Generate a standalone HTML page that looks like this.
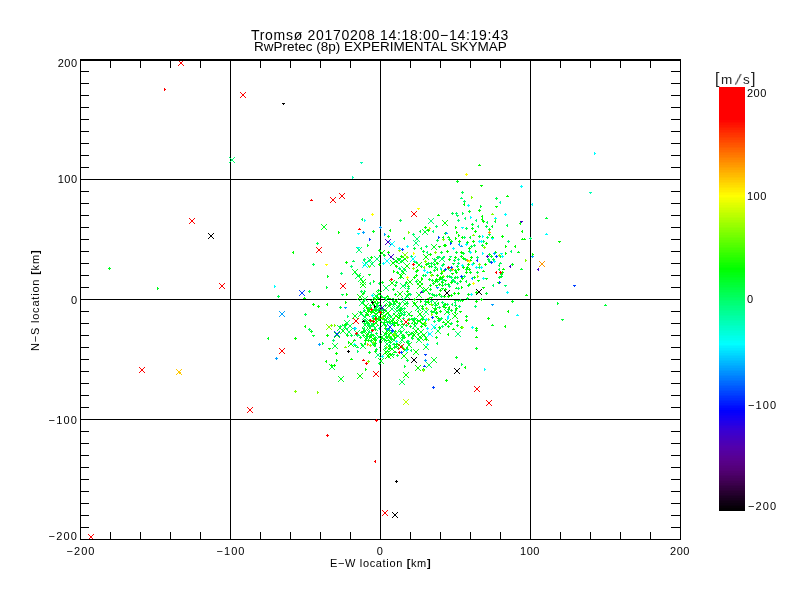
<!DOCTYPE html>
<html><head><meta charset="utf-8"><title>skymap</title>
<style>
html,body{margin:0;padding:0;background:#fff;}
body{width:800px;height:600px;position:relative;overflow:hidden;font-family:"Liberation Sans",sans-serif;color:#000;}
svg{position:absolute;left:0;top:0;}
.t{position:absolute;white-space:nowrap;line-height:1;font-size:11px;will-change:transform;}
.xt,.yt,.ct{letter-spacing:0.5px;}
</style></head><body>
<svg width="800" height="600" viewBox="0 0 800 600" shape-rendering="crispEdges">
<defs><clipPath id="cp"><rect x="81" y="61" width="599" height="478"/></clipPath></defs>
<g id="fill" clip-path="url(#cp)">
<path d="M381 295h1v3h-1zM382 296h1v1h-1z" fill="#00ff6e"/>
<path d="M376 318h1v3h-1zM375 319h1v1h-1z" fill="#00ff1e"/>
<path d="M374 329h3v1h-3zM375 328h1v3h-1z" fill="#00ff00"/>
<path d="M380 346h1v3h-1zM379 347h1v1h-1z" fill="#00ff37"/>
<path d="M389 304h3v1h-3zM390 303h1v3h-1z" fill="#00ff00"/>
<path d="M370 312h3v1h-3zM371 313h1v1h-1z" fill="#00ff00"/>
<path d="M364 322h1v3h-1zM363 323h1v1h-1z" fill="#00ff50"/>
<path d="M403 337h3v1h-3zM404 336h1v3h-1z" fill="#00ff00"/>
<path d="M392 301h3v1h-3zM393 300h1v3h-1z" fill="#00ff1e"/>
<path d="M396 307h3v1h-3zM397 308h1v1h-1z" fill="#00ff50"/>
<path d="M400 308h3v1h-3zM401 307h1v3h-1z" fill="#00ff6e"/>
<path d="M396 335h1v3h-1zM397 336h1v1h-1z" fill="#00ff00"/>
<path d="M389 323h3v1h-3zM390 322h1v3h-1z" fill="#00ff6e"/>
<path d="M409 313h1v3h-1zM408 314h1v1h-1z" fill="#00ff50"/>
<path d="M377 298h3v1h-3zM378 297h1v3h-1z" fill="#00ff00"/>
<path d="M380 338h3v1h-3zM381 337h1v3h-1z" fill="#00ff00"/>
<path d="M398 315h3v1h-3zM399 314h1v3h-1z" fill="#00ff00"/>
<path d="M384 297h3v1h-3zM385 298h1v1h-1z" fill="#00ff37"/>
<path d="M405 325h3v1h-3zM406 324h1v3h-1z" fill="#00ff37"/>
<path d="M388 298h3v1h-3zM389 299h1v1h-1z" fill="#00ff00"/>
<path d="M372 304h3v1h-3zM373 303h1v3h-1z" fill="#00ff00"/>
<path d="M386 296h3v1h-3zM387 295h1v1h-1z" fill="#00ff00"/>
<path d="M374 337h3v1h-3zM375 336h1v1h-1z" fill="#00ff50"/>
<path d="M381 308h3v1h-3zM382 307h1v3h-1z" fill="#00ff6e"/>
<path d="M379 305h3v1h-3zM380 304h1v3h-1z" fill="#00ff37"/>
<path d="M407 323h3v1h-3zM408 322h1v3h-1z" fill="#00ff00"/>
<path d="M364 320h3v1h-3zM365 319h1v3h-1z" fill="#00ff50"/>
<path d="M397 323h1v3h-1zM398 324h1v1h-1z" fill="#00ff00"/>
<path d="M367 323h3v1h-3zM368 322h1v3h-1z" fill="#00ff00"/>
<path d="M391 299h3v1h-3zM392 298h1v3h-1z" fill="#00ff50"/>
<path d="M383 310h3v1h-3zM384 309h1v1h-1z" fill="#00ff00"/>
<path d="M405 332h3v1h-3zM406 331h1v3h-1z" fill="#00ff50"/>
<path d="M364 327h1v3h-1zM363 328h1v1h-1z" fill="#00ff50"/>
<path d="M385 309h1v3h-1zM386 310h1v1h-1z" fill="#00ff37"/>
<path d="M396 340h1v3h-1zM397 341h1v1h-1z" fill="#00ff00"/>
<path d="M379 342h3v1h-3zM380 341h1v3h-1z" fill="#00ff00"/>
<path d="M372 318h3v1h-3zM373 317h1v3h-1z" fill="#00ff00"/>
<path d="M403 308h3v1h-3zM404 307h1v3h-1z" fill="#00ff50"/>
<path d="M373 323h1v3h-1zM374 324h1v1h-1z" fill="#00ff00"/>
<path d="M385 347h3v1h-3zM386 346h1v3h-1z" fill="#82ff00"/>
<path d="M398 303h3v1h-3zM399 302h1v3h-1z" fill="#00ff1e"/>
<path d="M383 319h3v1h-3zM384 318h1v3h-1z" fill="#00ff37"/>
<path d="M403 314h3v1h-3zM404 313h1v3h-1z" fill="#00ff6e"/>
<path d="M378 318h1v3h-1zM377 319h1v1h-1z" fill="#00ff00"/>
<path d="M388 321h3v1h-3zM389 320h1v3h-1z" fill="#00ff50"/>
<path d="M401 324h3v1h-3zM402 323h1v1h-1z" fill="#00ff00"/>
<path d="M372 335h3v1h-3zM373 334h1v3h-1z" fill="#00ff50"/>
<path d="M384 305h3v1h-3zM385 304h1v3h-1z" fill="#00ff1e"/>
<path d="M369 335h3v1h-3zM370 334h1v3h-1z" fill="#00ff6e"/>
<path d="M392 299h3v1h-3zM393 298h1v3h-1z" fill="#00ff6e"/>
<path d="M388 302h3v1h-3zM389 301h1v3h-1z" fill="#00ff50"/>
<path d="M371 311h3v1h-3zM372 310h1v1h-1z" fill="#00ff00"/>
<path d="M393 325h3v1h-3zM394 324h1v3h-1z" fill="#00ff00"/>
<path d="M386 322h3v1h-3zM387 323h1v1h-1z" fill="#00ff50"/>
<path d="M372 323h3v1h-3zM373 322h1v1h-1z" fill="#00ff50"/>
<path d="M366 308h3v1h-3zM367 307h1v3h-1z" fill="#00ff00"/>
<path d="M371 333h1v3h-1zM370 334h1v1h-1z" fill="#82ff00"/>
<path d="M374 343h3v1h-3zM375 342h1v3h-1z" fill="#00ff1e"/>
<path d="M391 323h3v1h-3zM392 322h1v3h-1z" fill="#00ff00"/>
<path d="M400 321h3v1h-3zM401 320h1v3h-1z" fill="#00ff50"/>
<path d="M399 310h3v1h-3zM400 311h1v1h-1z" fill="#00ff00"/>
<path d="M371 325h3v1h-3zM372 324h1v3h-1z" fill="#00ff50"/>
<path d="M368 326h3v1h-3zM369 325h1v3h-1z" fill="#00ff6e"/>
<path d="M377 301h1v3h-1zM378 302h1v1h-1z" fill="#00ff00"/>
<path d="M399 331h3v1h-3zM400 330h1v1h-1z" fill="#00ff50"/>
<path d="M388 348h3v1h-3zM389 347h1v3h-1z" fill="#00ff00"/>
<path d="M393 347h3v1h-3zM394 346h1v3h-1z" fill="#00ff37"/>
<path d="M369 330h1v3h-1zM368 331h1v1h-1z" fill="#00ff6e"/>
<path d="M384 348h3v1h-3zM385 347h1v3h-1z" fill="#00ff50"/>
<path d="M371 331h1v3h-1zM370 332h1v1h-1z" fill="#00ff6e"/>
<path d="M392 319h1v3h-1zM391 320h1v1h-1z" fill="#00ff37"/>
<path d="M385 327h1v3h-1zM386 328h1v1h-1z" fill="#00ff1e"/>
<path d="M383 316h3v1h-3zM384 315h1v1h-1z" fill="#00ff37"/>
<path d="M403 312h3v1h-3zM404 311h1v3h-1z" fill="#00ff50"/>
<path d="M387 336h3v1h-3zM388 335h1v3h-1z" fill="#82ff00"/>
<path d="M389 329h1v3h-1zM390 330h1v1h-1z" fill="#00ff37"/>
<path d="M378 317h3v1h-3zM379 316h1v1h-1z" fill="#00ff1e"/>
<path d="M382 312h3v1h-3zM383 311h1v3h-1z" fill="#00ff1e"/>
<path d="M394 331h3v1h-3zM395 330h1v3h-1z" fill="#00ff00"/>
<path d="M386 332h1v3h-1zM387 333h1v1h-1z" fill="#00ff00"/>
<path d="M399 308h3v1h-3zM400 307h1v3h-1z" fill="#82ff00"/>
<path d="M381 318h3v1h-3zM382 317h1v3h-1z" fill="#00ff00"/>
<path d="M393 323h3v1h-3zM394 322h1v3h-1z" fill="#00ff00"/>
<path d="M400 313h3v1h-3zM401 314h1v1h-1z" fill="#00ff6e"/>
<path d="M387 316h1v3h-1zM388 317h1v1h-1z" fill="#00ff50"/>
<path d="M384 325h3v1h-3zM385 324h1v3h-1z" fill="#00ff1e"/>
<path d="M379 318h1v3h-1zM380 319h1v1h-1z" fill="#00ff6e"/>
<path d="M368 331h1v3h-1zM369 332h1v1h-1z" fill="#00ff50"/>
<path d="M397 322h1v3h-1zM396 323h1v1h-1z" fill="#00ff37"/>
<path d="M388 315h3v1h-3zM389 314h1v3h-1z" fill="#00ff6e"/>
<path d="M392 304h3v1h-3zM393 303h1v3h-1z" fill="#00ff6e"/>
<path d="M368 336h3v1h-3zM369 335h1v3h-1z" fill="#00ff1e"/>
<path d="M380 310h3v1h-3zM381 309h1v3h-1z" fill="#00ff37"/>
<path d="M402 334h1v3h-1zM401 335h1v1h-1z" fill="#00ff1e"/>
<path d="M368 307h3v1h-3zM369 308h1v1h-1z" fill="#00ff50"/>
<path d="M373 315h1v3h-1zM372 316h1v1h-1z" fill="#00ff00"/>
<path d="M383 322h3v1h-3zM384 321h1v1h-1z" fill="#00ff00"/>
<path d="M369 305h3v1h-3zM370 304h1v3h-1z" fill="#00ff50"/>
<path d="M389 342h3v1h-3zM390 341h1v3h-1z" fill="#00ff37"/>
<path d="M367 324h3v1h-3zM368 323h1v3h-1z" fill="#00ff6e"/>
<path d="M362 331h3v1h-3zM363 330h1v1h-1z" fill="#00ff00"/>
<path d="M407 319h3v1h-3zM408 318h1v3h-1z" fill="#82ff00"/>
<path d="M393 322h1v3h-1zM392 323h1v1h-1z" fill="#00ff6e"/>
<path d="M402 318h3v1h-3zM403 317h1v3h-1z" fill="#00ff6e"/>
<path d="M380 297h3v1h-3zM381 296h1v1h-1z" fill="#00ff1e"/>
<path d="M367 310h3v1h-3zM368 309h1v3h-1z" fill="#00ff00"/>
<path d="M384 340h3v1h-3zM385 339h1v1h-1z" fill="#00ff37"/>
<path d="M402 335h3v1h-3zM403 334h1v3h-1z" fill="#00ff37"/>
<path d="M387 340h3v1h-3zM388 339h1v1h-1z" fill="#00ff00"/>
<path d="M394 336h1v3h-1zM395 337h1v1h-1z" fill="#00ff00"/>
<path d="M402 348h3v1h-3zM403 347h1v3h-1z" fill="#82ff00"/>
<path d="M406 341h3v1h-3zM407 340h1v3h-1z" fill="#00ff50"/>
<path d="M407 343h3v1h-3zM408 342h1v3h-1z" fill="#00ff50"/>
<path d="M407 341h3v1h-3zM408 340h1v1h-1z" fill="#00ff6e"/>
<path d="M394 352h3v1h-3zM395 351h1v1h-1z" fill="#00ff1e"/>
<path d="M389 337h3v1h-3zM390 336h1v3h-1z" fill="#00ff1e"/>
<path d="M397 348h3v1h-3zM398 347h1v3h-1z" fill="#00ff1e"/>
<path d="M392 344h3v1h-3zM393 343h1v1h-1z" fill="#00ff6e"/>
<path d="M392 354h3v1h-3zM393 355h1v1h-1z" fill="#00ff50"/>
<path d="M396 355h3v1h-3zM397 354h1v3h-1z" fill="#00ff37"/>
<path d="M395 346h3v1h-3zM396 347h1v1h-1z" fill="#00ff50"/>
<path d="M406 349h3v1h-3zM407 348h1v1h-1z" fill="#00ff37"/>
<path d="M407 334h3v1h-3zM408 335h1v1h-1z" fill="#00ff00"/>
<path d="M400 346h3v1h-3zM401 345h1v3h-1z" fill="#00ff00"/>
<path d="M390 339h3v1h-3zM391 338h1v3h-1z" fill="#00ff1e"/>
<path d="M387 351h3v1h-3zM388 352h1v1h-1z" fill="#00ff37"/>
<path d="M388 345h3v1h-3zM389 344h1v1h-1z" fill="#00ff00"/>
<path d="M405 350h3v1h-3zM406 349h1v1h-1z" fill="#00ff6e"/>
<path d="M385 340h3v1h-3zM386 341h1v1h-1z" fill="#00ff00"/>
<path d="M401 337h3v1h-3zM402 336h1v3h-1z" fill="#00ff1e"/>
<path d="M411 349h1v3h-1zM410 350h1v1h-1z" fill="#00ff50"/>
<path d="M400 352h3v1h-3zM401 353h1v1h-1z" fill="#00ff37"/>
<path d="M407 286h3v1h-3zM408 285h1v3h-1z" fill="#00ff1e"/>
<path d="M422 275h3v1h-3zM423 274h1v3h-1z" fill="#00ff37"/>
<path d="M429 285h3v1h-3zM430 284h1v3h-1z" fill="#00ff1e"/>
<path d="M435 279h3v1h-3zM436 278h1v3h-1z" fill="#00ff00"/>
<path d="M426 299h3v1h-3zM427 298h1v1h-1z" fill="#82ff00"/>
<path d="M442 264h3v1h-3zM443 263h1v1h-1z" fill="#00ff37"/>
<path d="M415 262h3v1h-3zM416 261h1v3h-1z" fill="#00ff6e"/>
<path d="M441 285h3v1h-3zM442 284h1v3h-1z" fill="#00ff1e"/>
<path d="M395 266h3v1h-3zM396 265h1v3h-1z" fill="#00ff00"/>
<path d="M443 275h1v3h-1zM444 276h1v1h-1z" fill="#82ff00"/>
<path d="M422 291h3v1h-3zM423 290h1v3h-1z" fill="#00ff50"/>
<path d="M430 297h3v1h-3zM431 298h1v1h-1z" fill="#00ff00"/>
<path d="M407 288h3v1h-3zM408 289h1v1h-1z" fill="#00ff6e"/>
<path d="M427 263h3v1h-3zM428 262h1v3h-1z" fill="#00ff37"/>
<path d="M435 280h1v3h-1zM434 281h1v1h-1z" fill="#00ff00"/>
<path d="M431 275h3v1h-3zM432 274h1v1h-1z" fill="#00ff00"/>
<path d="M415 271h3v1h-3zM416 272h1v1h-1z" fill="#00ff1e"/>
<path d="M443 270h3v1h-3zM444 269h1v3h-1z" fill="#00ff00"/>
<path d="M422 290h3v1h-3zM423 289h1v1h-1z" fill="#00ff00"/>
<path d="M442 280h1v3h-1zM441 281h1v1h-1z" fill="#00ff6e"/>
<path d="M399 277h3v1h-3zM400 276h1v3h-1z" fill="#00ff37"/>
<path d="M428 293h3v1h-3zM429 294h1v1h-1z" fill="#00ff37"/>
<path d="M440 278h3v1h-3zM441 279h1v1h-1z" fill="#00ff37"/>
<path d="M421 277h1v3h-1zM422 278h1v1h-1z" fill="#00ff00"/>
<path d="M415 275h3v1h-3zM416 274h1v3h-1z" fill="#00ff00"/>
<path d="M394 285h3v1h-3zM395 284h1v3h-1z" fill="#00ff37"/>
<path d="M436 281h3v1h-3zM437 280h1v3h-1z" fill="#00ff37"/>
<path d="M424 266h1v3h-1zM423 267h1v1h-1z" fill="#82ff00"/>
<path d="M441 268h1v3h-1zM440 269h1v1h-1z" fill="#00ff50"/>
<path d="M398 268h3v1h-3zM399 267h1v3h-1z" fill="#00ff6e"/>
<path d="M396 272h3v1h-3zM397 271h1v3h-1z" fill="#00ff1e"/>
<path d="M409 294h3v1h-3zM410 293h1v3h-1z" fill="#00ff6e"/>
<path d="M437 268h1v3h-1zM436 269h1v1h-1z" fill="#00ff00"/>
<path d="M405 284h1v3h-1zM404 285h1v1h-1z" fill="#00ff6e"/>
<path d="M395 282h3v1h-3zM396 281h1v3h-1z" fill="#00ff37"/>
<path d="M413 261h3v1h-3zM414 262h1v1h-1z" fill="#00ff50"/>
<path d="M422 290h3v1h-3zM423 289h1v1h-1z" fill="#00ff6e"/>
<path d="M394 294h3v1h-3zM395 293h1v3h-1z" fill="#00ff1e"/>
<path d="M429 297h1v3h-1zM428 298h1v1h-1z" fill="#00ff37"/>
<path d="M442 279h3v1h-3zM443 280h1v1h-1z" fill="#00ff6e"/>
<path d="M441 288h3v1h-3zM442 289h1v1h-1z" fill="#00ff1e"/>
<path d="M420 266h3v1h-3zM421 265h1v3h-1z" fill="#00ff6e"/>
<path d="M433 295h3v1h-3zM434 294h1v3h-1z" fill="#00ff37"/>
<path d="M435 316h3v1h-3zM436 317h1v1h-1z" fill="#00ff00"/>
<path d="M444 307h3v1h-3zM445 308h1v1h-1z" fill="#00ff00"/>
<path d="M452 329h3v1h-3zM453 328h1v1h-1z" fill="#00ff00"/>
<path d="M420 300h1v3h-1zM421 301h1v1h-1z" fill="#00ff00"/>
<path d="M454 305h3v1h-3zM455 304h1v3h-1z" fill="#00ff00"/>
<path d="M414 322h1v3h-1zM415 323h1v1h-1z" fill="#00ff00"/>
<path d="M455 311h1v3h-1zM454 312h1v1h-1z" fill="#00ff00"/>
<path d="M427 302h3v1h-3zM428 301h1v3h-1z" fill="#00ff00"/>
<path d="M416 320h3v1h-3zM417 319h1v3h-1z" fill="#00ff37"/>
<path d="M423 324h3v1h-3zM424 323h1v3h-1z" fill="#00ff50"/>
<path d="M421 319h3v1h-3zM422 320h1v1h-1z" fill="#00ff00"/>
<path d="M450 310h3v1h-3zM451 309h1v3h-1z" fill="#00ff1e"/>
<path d="M433 312h3v1h-3zM434 311h1v1h-1z" fill="#00ff6e"/>
<path d="M421 308h3v1h-3zM422 307h1v3h-1z" fill="#00ff1e"/>
<path d="M438 302h1v3h-1zM437 303h1v1h-1z" fill="#00ff00"/>
<path d="M437 318h3v1h-3zM438 317h1v3h-1z" fill="#00ff00"/>
<path d="M434 326h1v3h-1zM435 327h1v1h-1z" fill="#00ff37"/>
<path d="M447 312h3v1h-3zM448 311h1v3h-1z" fill="#00ff50"/>
<path d="M409 326h3v1h-3zM410 325h1v3h-1z" fill="#00ff1e"/>
<path d="M425 324h1v3h-1zM426 325h1v1h-1z" fill="#00ff50"/>
<path d="M452 303h1v3h-1zM451 304h1v1h-1z" fill="#00ff50"/>
<path d="M438 320h3v1h-3zM439 319h1v3h-1z" fill="#00ff6e"/>
<path d="M435 307h1v3h-1zM434 308h1v1h-1z" fill="#00ff1e"/>
<path d="M410 315h3v1h-3zM411 316h1v1h-1z" fill="#00ff00"/>
<path d="M424 304h3v1h-3zM425 305h1v1h-1z" fill="#00ff6e"/>
<path d="M418 310h1v3h-1zM417 311h1v1h-1z" fill="#00ff50"/>
<path d="M446 304h3v1h-3zM447 303h1v3h-1z" fill="#00ff6e"/>
<path d="M437 320h3v1h-3zM438 319h1v3h-1z" fill="#00ff50"/>
<path d="M442 322h3v1h-3zM443 321h1v1h-1z" fill="#00ff00"/>
<path d="M363 310h3v1h-3zM364 309h1v3h-1z" fill="#00ff6e"/>
<path d="M378 319h3v1h-3zM379 318h1v3h-1z" fill="#00ff37"/>
<path d="M378 328h3v1h-3zM379 327h1v3h-1z" fill="#00ff6e"/>
<path d="M366 336h3v1h-3zM367 335h1v3h-1z" fill="#00ff50"/>
<path d="M363 331h3v1h-3zM364 332h1v1h-1z" fill="#00ff37"/>
<path d="M363 300h1v3h-1zM364 301h1v1h-1z" fill="#00ff37"/>
<path d="M373 309h3v1h-3zM374 308h1v1h-1z" fill="#00ff37"/>
<path d="M374 316h3v1h-3zM375 315h1v3h-1z" fill="#00ff37"/>
<path d="M365 342h1v3h-1zM364 343h1v1h-1z" fill="#00ff00"/>
<path d="M361 343h1v3h-1zM362 344h1v1h-1z" fill="#00ff37"/>
<path d="M371 299h1v3h-1zM370 300h1v1h-1z" fill="#00ff37"/>
<path d="M374 310h3v1h-3zM375 309h1v3h-1z" fill="#00ff00"/>
<path d="M367 313h1v3h-1zM368 314h1v1h-1z" fill="#00ff00"/>
<path d="M364 340h3v1h-3zM365 339h1v3h-1z" fill="#00ff00"/>
<path d="M373 345h3v1h-3zM374 344h1v3h-1z" fill="#00ff00"/>
<path d="M372 315h1v3h-1zM371 316h1v1h-1z" fill="#00ff6e"/>
<path d="M379 340h1v3h-1zM380 341h1v1h-1z" fill="#00ff6e"/>
<path d="M370 334h3v1h-3zM371 335h1v1h-1z" fill="#00ff37"/>
<path d="M459 311h3v1h-3zM460 312h1v1h-1z" fill="#00ff00"/>
<path d="M439 311h3v1h-3zM440 310h1v3h-1z" fill="#00ff00"/>
<path d="M454 300h3v1h-3zM455 299h1v3h-1z" fill="#00ff1e"/>
<path d="M443 304h3v1h-3zM444 303h1v3h-1z" fill="#00ff6e"/>
<path d="M458 306h3v1h-3zM459 305h1v3h-1z" fill="#00ff6e"/>
<path d="M441 302h3v1h-3zM442 301h1v3h-1z" fill="#00ff50"/>
<path d="M449 306h1v3h-1zM448 307h1v1h-1z" fill="#00ff00"/>
<path d="M461 300h3v1h-3zM462 299h1v3h-1z" fill="#00ff00"/>
<path d="M431 313h1v3h-1zM432 314h1v1h-1z" fill="#82ff00"/>
<path d="M455 308h3v1h-3zM456 307h1v3h-1z" fill="#00ff00"/>
<path d="M457 300h3v1h-3zM458 299h1v3h-1z" fill="#00ff50"/>
<path d="M434 309h3v1h-3zM435 310h1v1h-1z" fill="#00ff00"/>
<path d="M434 305h3v1h-3zM435 304h1v3h-1z" fill="#00ff50"/>
<path d="M431 300h1v3h-1zM430 301h1v1h-1z" fill="#00ff6e"/>
</g>
<g id="frame">
<rect x="80" y="59" width="601" height="2" fill="#000"/>
<rect x="80" y="539" width="601" height="1" fill="#000"/>
<rect x="80" y="59" width="1" height="481" fill="#000"/>
<rect x="680" y="59" width="1" height="481" fill="#000"/>
<rect x="230" y="60" width="1" height="479" fill="#000"/>
<rect x="380" y="60" width="1" height="479" fill="#000"/>
<rect x="530" y="60" width="1" height="479" fill="#000"/>
<rect x="80" y="179" width="600" height="1" fill="#000"/>
<rect x="80" y="299" width="600" height="1" fill="#000"/>
<rect x="80" y="419" width="600" height="1" fill="#000"/>
<rect x="110" y="61" width="1" height="7" fill="#000"/>
<rect x="110" y="532" width="1" height="7" fill="#000"/>
<rect x="140" y="61" width="1" height="7" fill="#000"/>
<rect x="140" y="532" width="1" height="7" fill="#000"/>
<rect x="170" y="61" width="1" height="7" fill="#000"/>
<rect x="170" y="532" width="1" height="7" fill="#000"/>
<rect x="200" y="61" width="1" height="7" fill="#000"/>
<rect x="200" y="532" width="1" height="7" fill="#000"/>
<rect x="230" y="61" width="1" height="7" fill="#000"/>
<rect x="230" y="532" width="1" height="7" fill="#000"/>
<rect x="260" y="61" width="1" height="7" fill="#000"/>
<rect x="260" y="532" width="1" height="7" fill="#000"/>
<rect x="290" y="61" width="1" height="7" fill="#000"/>
<rect x="290" y="532" width="1" height="7" fill="#000"/>
<rect x="320" y="61" width="1" height="7" fill="#000"/>
<rect x="320" y="532" width="1" height="7" fill="#000"/>
<rect x="350" y="61" width="1" height="7" fill="#000"/>
<rect x="350" y="532" width="1" height="7" fill="#000"/>
<rect x="380" y="61" width="1" height="7" fill="#000"/>
<rect x="380" y="532" width="1" height="7" fill="#000"/>
<rect x="410" y="61" width="1" height="7" fill="#000"/>
<rect x="410" y="532" width="1" height="7" fill="#000"/>
<rect x="440" y="61" width="1" height="7" fill="#000"/>
<rect x="440" y="532" width="1" height="7" fill="#000"/>
<rect x="470" y="61" width="1" height="7" fill="#000"/>
<rect x="470" y="532" width="1" height="7" fill="#000"/>
<rect x="500" y="61" width="1" height="7" fill="#000"/>
<rect x="500" y="532" width="1" height="7" fill="#000"/>
<rect x="530" y="61" width="1" height="7" fill="#000"/>
<rect x="530" y="532" width="1" height="7" fill="#000"/>
<rect x="560" y="61" width="1" height="7" fill="#000"/>
<rect x="560" y="532" width="1" height="7" fill="#000"/>
<rect x="590" y="61" width="1" height="7" fill="#000"/>
<rect x="590" y="532" width="1" height="7" fill="#000"/>
<rect x="620" y="61" width="1" height="7" fill="#000"/>
<rect x="620" y="532" width="1" height="7" fill="#000"/>
<rect x="650" y="61" width="1" height="7" fill="#000"/>
<rect x="650" y="532" width="1" height="7" fill="#000"/>
<rect x="81" y="71" width="8" height="1" fill="#000"/>
<rect x="671" y="71" width="9" height="1" fill="#000"/>
<rect x="81" y="83" width="8" height="1" fill="#000"/>
<rect x="671" y="83" width="9" height="1" fill="#000"/>
<rect x="81" y="95" width="8" height="1" fill="#000"/>
<rect x="671" y="95" width="9" height="1" fill="#000"/>
<rect x="81" y="107" width="8" height="1" fill="#000"/>
<rect x="671" y="107" width="9" height="1" fill="#000"/>
<rect x="81" y="119" width="8" height="1" fill="#000"/>
<rect x="671" y="119" width="9" height="1" fill="#000"/>
<rect x="81" y="131" width="8" height="1" fill="#000"/>
<rect x="671" y="131" width="9" height="1" fill="#000"/>
<rect x="81" y="143" width="8" height="1" fill="#000"/>
<rect x="671" y="143" width="9" height="1" fill="#000"/>
<rect x="81" y="155" width="8" height="1" fill="#000"/>
<rect x="671" y="155" width="9" height="1" fill="#000"/>
<rect x="81" y="167" width="8" height="1" fill="#000"/>
<rect x="671" y="167" width="9" height="1" fill="#000"/>
<rect x="81" y="191" width="8" height="1" fill="#000"/>
<rect x="671" y="191" width="9" height="1" fill="#000"/>
<rect x="81" y="203" width="8" height="1" fill="#000"/>
<rect x="671" y="203" width="9" height="1" fill="#000"/>
<rect x="81" y="215" width="8" height="1" fill="#000"/>
<rect x="671" y="215" width="9" height="1" fill="#000"/>
<rect x="81" y="227" width="8" height="1" fill="#000"/>
<rect x="671" y="227" width="9" height="1" fill="#000"/>
<rect x="81" y="239" width="8" height="1" fill="#000"/>
<rect x="671" y="239" width="9" height="1" fill="#000"/>
<rect x="81" y="251" width="8" height="1" fill="#000"/>
<rect x="671" y="251" width="9" height="1" fill="#000"/>
<rect x="81" y="263" width="8" height="1" fill="#000"/>
<rect x="671" y="263" width="9" height="1" fill="#000"/>
<rect x="81" y="275" width="8" height="1" fill="#000"/>
<rect x="671" y="275" width="9" height="1" fill="#000"/>
<rect x="81" y="287" width="8" height="1" fill="#000"/>
<rect x="671" y="287" width="9" height="1" fill="#000"/>
<rect x="81" y="311" width="8" height="1" fill="#000"/>
<rect x="671" y="311" width="9" height="1" fill="#000"/>
<rect x="81" y="323" width="8" height="1" fill="#000"/>
<rect x="671" y="323" width="9" height="1" fill="#000"/>
<rect x="81" y="335" width="8" height="1" fill="#000"/>
<rect x="671" y="335" width="9" height="1" fill="#000"/>
<rect x="81" y="347" width="8" height="1" fill="#000"/>
<rect x="671" y="347" width="9" height="1" fill="#000"/>
<rect x="81" y="359" width="8" height="1" fill="#000"/>
<rect x="671" y="359" width="9" height="1" fill="#000"/>
<rect x="81" y="371" width="8" height="1" fill="#000"/>
<rect x="671" y="371" width="9" height="1" fill="#000"/>
<rect x="81" y="383" width="8" height="1" fill="#000"/>
<rect x="671" y="383" width="9" height="1" fill="#000"/>
<rect x="81" y="395" width="8" height="1" fill="#000"/>
<rect x="671" y="395" width="9" height="1" fill="#000"/>
<rect x="81" y="407" width="8" height="1" fill="#000"/>
<rect x="671" y="407" width="9" height="1" fill="#000"/>
<rect x="81" y="431" width="8" height="1" fill="#000"/>
<rect x="671" y="431" width="9" height="1" fill="#000"/>
<rect x="81" y="443" width="8" height="1" fill="#000"/>
<rect x="671" y="443" width="9" height="1" fill="#000"/>
<rect x="81" y="455" width="8" height="1" fill="#000"/>
<rect x="671" y="455" width="9" height="1" fill="#000"/>
<rect x="81" y="467" width="8" height="1" fill="#000"/>
<rect x="671" y="467" width="9" height="1" fill="#000"/>
<rect x="81" y="479" width="8" height="1" fill="#000"/>
<rect x="671" y="479" width="9" height="1" fill="#000"/>
<rect x="81" y="491" width="8" height="1" fill="#000"/>
<rect x="671" y="491" width="9" height="1" fill="#000"/>
<rect x="81" y="503" width="8" height="1" fill="#000"/>
<rect x="671" y="503" width="9" height="1" fill="#000"/>
<rect x="81" y="515" width="8" height="1" fill="#000"/>
<rect x="671" y="515" width="9" height="1" fill="#000"/>
<rect x="81" y="527" width="8" height="1" fill="#000"/>
<rect x="671" y="527" width="9" height="1" fill="#000"/>
</g>
<g id="pts" clip-path="url(#cp)">
<path d="M229 157h1v1h-1zM229 162h1v1h-1zM230 158h1v1h-1zM230 161h1v1h-1zM231 159h1v1h-1zM231 160h1v1h-1zM232 160h1v1h-1zM232 159h1v1h-1zM233 161h1v1h-1zM233 158h1v1h-1zM234 162h1v1h-1zM234 157h1v1h-1z" fill="#00ff6e"/>
<path d="M478 165h3v1h-3zM479 164h1v1h-1z" fill="#00ff00"/>
<path d="M456 181h3v1h-3zM457 180h1v3h-1z" fill="#00ff1e"/>
<path d="M461 192h3v1h-3zM462 191h1v3h-1z" fill="#00ff50"/>
<path d="M460 198h3v1h-3zM461 197h1v1h-1z" fill="#00ff6e"/>
<path d="M471 196h1v3h-1zM472 197h1v1h-1z" fill="#82ff00"/>
<path d="M463 201h3v1h-3zM464 200h1v3h-1z" fill="#00ff6e"/>
<path d="M464 203h1v3h-1zM463 204h1v1h-1z" fill="#00ff00"/>
<path d="M480 185h3v1h-3zM481 186h1v1h-1z" fill="#00ff00"/>
<path d="M506 196h3v1h-3zM507 195h1v1h-1z" fill="#00ff00"/>
<path d="M495 198h3v1h-3zM496 197h1v3h-1z" fill="#00ff50"/>
<path d="M480 205h1v3h-1zM481 206h1v1h-1z" fill="#00ff37"/>
<path d="M495 206h3v1h-3zM496 207h1v1h-1z" fill="#00ff00"/>
<path d="M108 268h3v1h-3zM109 267h1v3h-1z" fill="#00ff1e"/>
<path d="M157 287h1v3h-1zM158 288h1v1h-1z" fill="#00ff1e"/>
<path d="M277 296h3v1h-3zM278 295h1v3h-1z" fill="#00ff50"/>
<path d="M268 337h1v3h-1zM267 338h1v1h-1z" fill="#00ff1e"/>
<path d="M545 218h3v1h-3zM546 217h1v1h-1z" fill="#00ff37"/>
<path d="M558 241h3v1h-3zM559 242h1v1h-1z" fill="#00ff00"/>
<path d="M532 253h1v3h-1zM533 254h1v1h-1z" fill="#00ff00"/>
<path d="M557 302h1v3h-1zM558 303h1v1h-1z" fill="#00ff37"/>
<path d="M604 305h3v1h-3zM605 304h1v1h-1z" fill="#00ff37"/>
<path d="M561 319h3v1h-3zM562 320h1v1h-1z" fill="#00ff37"/>
<path d="M294 391h3v1h-3zM295 390h1v3h-1z" fill="#82ff00"/>
<path d="M317 391h1v3h-1zM318 392h1v1h-1z" fill="#82ff00"/>
<path d="M329 364h1v1h-1zM329 369h1v1h-1zM330 365h1v1h-1zM330 368h1v1h-1zM331 366h1v1h-1zM331 367h1v1h-1zM332 367h1v1h-1zM332 366h1v1h-1zM333 368h1v1h-1zM333 365h1v1h-1zM334 369h1v1h-1zM334 364h1v1h-1z" fill="#00ff37"/>
<path d="M338 376h1v1h-1zM338 381h1v1h-1zM339 377h1v1h-1zM339 380h1v1h-1zM340 378h1v1h-1zM340 379h1v1h-1zM341 379h1v1h-1zM341 378h1v1h-1zM342 380h1v1h-1zM342 377h1v1h-1zM343 381h1v1h-1zM343 376h1v1h-1z" fill="#00ff1e"/>
<path d="M357 373h1v1h-1zM357 378h1v1h-1zM358 374h1v1h-1zM358 377h1v1h-1zM359 375h1v1h-1zM359 376h1v1h-1zM360 376h1v1h-1zM360 375h1v1h-1zM361 377h1v1h-1zM361 374h1v1h-1zM362 378h1v1h-1zM362 373h1v1h-1z" fill="#00ff00"/>
<path d="M365 368h1v3h-1zM366 369h1v1h-1z" fill="#00ff00"/>
<path d="M326 360h1v3h-1zM325 361h1v1h-1z" fill="#00ff00"/>
<path d="M336 359h1v3h-1zM337 360h1v1h-1z" fill="#00ff1e"/>
<path d="M367 361h3v1h-3zM368 360h1v3h-1z" fill="#82ff00"/>
<path d="M378 358h1v1h-1zM378 363h1v1h-1zM379 359h1v1h-1zM379 362h1v1h-1zM380 360h1v1h-1zM380 361h1v1h-1zM381 361h1v1h-1zM381 360h1v1h-1zM382 362h1v1h-1zM382 359h1v1h-1zM383 363h1v1h-1zM383 358h1v1h-1z" fill="#00ff1e"/>
<path d="M404 365h1v3h-1zM405 366h1v1h-1z" fill="#00ff37"/>
<path d="M403 372h1v1h-1zM403 377h1v1h-1zM404 373h1v1h-1zM404 376h1v1h-1zM405 374h1v1h-1zM405 375h1v1h-1zM406 375h1v1h-1zM406 374h1v1h-1zM407 376h1v1h-1zM407 373h1v1h-1zM408 377h1v1h-1zM408 372h1v1h-1z" fill="#00ff00"/>
<path d="M399 379h1v1h-1zM399 384h1v1h-1zM400 380h1v1h-1zM400 383h1v1h-1zM401 381h1v1h-1zM401 382h1v1h-1zM402 382h1v1h-1zM402 381h1v1h-1zM403 383h1v1h-1zM403 380h1v1h-1zM404 384h1v1h-1zM404 379h1v1h-1z" fill="#00ff50"/>
<path d="M415 365h1v1h-1zM415 370h1v1h-1zM416 366h1v1h-1zM416 369h1v1h-1zM417 367h1v1h-1zM417 368h1v1h-1zM418 368h1v1h-1zM418 367h1v1h-1zM419 369h1v1h-1zM419 366h1v1h-1zM420 370h1v1h-1zM420 365h1v1h-1z" fill="#00ff00"/>
<path d="M422 369h3v1h-3zM423 368h1v3h-1z" fill="#00ff00"/>
<path d="M426 362h1v1h-1zM426 367h1v1h-1zM427 363h1v1h-1zM427 366h1v1h-1zM428 364h1v1h-1zM428 365h1v1h-1zM429 365h1v1h-1zM429 364h1v1h-1zM430 366h1v1h-1zM430 363h1v1h-1zM431 367h1v1h-1zM431 362h1v1h-1z" fill="#00ff50"/>
<path d="M431 357h1v1h-1zM431 362h1v1h-1zM432 358h1v1h-1zM432 361h1v1h-1zM433 359h1v1h-1zM433 360h1v1h-1zM434 360h1v1h-1zM434 359h1v1h-1zM435 361h1v1h-1zM435 358h1v1h-1zM436 362h1v1h-1zM436 357h1v1h-1z" fill="#00ff1e"/>
<path d="M445 380h3v1h-3zM446 379h1v3h-1z" fill="#00ff00"/>
<path d="M461 363h1v3h-1zM462 364h1v1h-1z" fill="#00ff50"/>
<path d="M465 366h1v3h-1zM464 367h1v1h-1z" fill="#00ff00"/>
<path d="M362 218h1v3h-1zM361 219h1v1h-1z" fill="#00ff50"/>
<path d="M321 224h1v1h-1zM321 229h1v1h-1zM322 225h1v1h-1zM322 228h1v1h-1zM323 226h1v1h-1zM323 227h1v1h-1zM324 227h1v1h-1zM324 226h1v1h-1zM325 228h1v1h-1zM325 225h1v1h-1zM326 229h1v1h-1zM326 224h1v1h-1z" fill="#00ff1e"/>
<path d="M338 231h1v3h-1zM339 232h1v1h-1z" fill="#00ff00"/>
<path d="M372 231h3v1h-3zM373 230h1v3h-1z" fill="#00ff1e"/>
<path d="M316 243h3v1h-3zM317 242h1v3h-1z" fill="#00ff50"/>
<path d="M367 244h1v3h-1zM368 245h1v1h-1z" fill="#00ff1e"/>
<path d="M356 247h1v1h-1zM356 252h1v1h-1zM357 248h1v1h-1zM357 251h1v1h-1zM358 249h1v1h-1zM358 250h1v1h-1zM359 250h1v1h-1zM359 249h1v1h-1zM360 251h1v1h-1zM360 248h1v1h-1zM361 252h1v1h-1zM361 247h1v1h-1z" fill="#00ff6e"/>
<path d="M293 251h1v3h-1zM292 252h1v1h-1z" fill="#00ff00"/>
<path d="M378 250h3v1h-3zM379 249h1v3h-1z" fill="#00ff1e"/>
<path d="M437 215h3v1h-3zM438 214h1v1h-1z" fill="#00ff00"/>
<path d="M451 213h3v1h-3zM452 212h1v3h-1z" fill="#00ff50"/>
<path d="M455 213h3v1h-3zM456 212h1v3h-1z" fill="#00ff6e"/>
<path d="M456 215h3v1h-3zM457 216h1v1h-1z" fill="#00ff50"/>
<path d="M462 212h1v3h-1zM463 213h1v1h-1z" fill="#00ff50"/>
<path d="M468 211h3v1h-3zM469 210h1v3h-1z" fill="#00ff1e"/>
<path d="M478 210h3v1h-3zM479 209h1v3h-1z" fill="#00ff00"/>
<path d="M399 220h3v1h-3zM400 219h1v3h-1z" fill="#00ff50"/>
<path d="M428 218h1v1h-1zM428 223h1v1h-1zM429 219h1v1h-1zM429 222h1v1h-1zM430 220h1v1h-1zM430 221h1v1h-1zM431 221h1v1h-1zM431 220h1v1h-1zM432 222h1v1h-1zM432 219h1v1h-1zM433 223h1v1h-1zM433 218h1v1h-1z" fill="#00ff6e"/>
<path d="M442 220h1v1h-1zM442 225h1v1h-1zM443 221h1v1h-1zM443 224h1v1h-1zM444 222h1v1h-1zM444 223h1v1h-1zM445 223h1v1h-1zM445 222h1v1h-1zM446 224h1v1h-1zM446 221h1v1h-1zM447 225h1v1h-1zM447 220h1v1h-1z" fill="#00ff00"/>
<path d="M457 220h3v1h-3zM458 219h1v3h-1z" fill="#00ff6e"/>
<path d="M465 217h1v3h-1zM464 218h1v1h-1z" fill="#00ff6e"/>
<path d="M476 219h1v3h-1zM475 220h1v1h-1z" fill="#00ff6e"/>
<path d="M435 226h3v1h-3zM436 225h1v3h-1z" fill="#00ff6e"/>
<path d="M424 227h3v1h-3zM425 226h1v3h-1z" fill="#00ff00"/>
<path d="M422 229h1v1h-1zM422 234h1v1h-1zM423 230h1v1h-1zM423 233h1v1h-1zM424 231h1v1h-1zM424 232h1v1h-1zM425 232h1v1h-1zM425 231h1v1h-1zM426 233h1v1h-1zM426 230h1v1h-1zM427 234h1v1h-1zM427 229h1v1h-1z" fill="#00ff37"/>
<path d="M427 230h3v1h-3zM428 229h1v3h-1z" fill="#00ff00"/>
<path d="M433 230h1v3h-1zM432 231h1v1h-1z" fill="#00ff6e"/>
<path d="M455 226h1v3h-1zM456 227h1v1h-1z" fill="#00ff00"/>
<path d="M465 228h3v1h-3zM466 227h1v3h-1z" fill="#00ff50"/>
<path d="M471 224h3v1h-3zM472 223h1v3h-1z" fill="#00ff37"/>
<path d="M471 228h3v1h-3zM472 227h1v3h-1z" fill="#00ff1e"/>
<path d="M478 225h1v3h-1zM477 226h1v1h-1z" fill="#00ff6e"/>
<path d="M474 231h3v1h-3zM475 230h1v3h-1z" fill="#00ff00"/>
<path d="M472 235h3v1h-3zM473 234h1v1h-1z" fill="#82ff00"/>
<path d="M390 229h1v3h-1zM389 230h1v1h-1z" fill="#00ff00"/>
<path d="M387 236h3v1h-3zM388 235h1v3h-1z" fill="#00ff1e"/>
<path d="M408 231h1v3h-1zM409 232h1v1h-1z" fill="#82ff00"/>
<path d="M420 230h1v3h-1zM419 231h1v1h-1z" fill="#00ff37"/>
<path d="M412 234h3v1h-3zM413 233h1v3h-1z" fill="#00ff6e"/>
<path d="M404 237h1v3h-1zM403 238h1v1h-1z" fill="#00ff1e"/>
<path d="M414 236h1v1h-1zM414 241h1v1h-1zM415 237h1v1h-1zM415 240h1v1h-1zM416 238h1v1h-1zM416 239h1v1h-1zM417 239h1v1h-1zM417 238h1v1h-1zM418 240h1v1h-1zM418 237h1v1h-1zM419 241h1v1h-1zM419 236h1v1h-1z" fill="#00ff6e"/>
<path d="M413 240h1v1h-1zM413 245h1v1h-1zM414 241h1v1h-1zM414 244h1v1h-1zM415 242h1v1h-1zM415 243h1v1h-1zM416 243h1v1h-1zM416 242h1v1h-1zM417 244h1v1h-1zM417 241h1v1h-1zM418 245h1v1h-1zM418 240h1v1h-1z" fill="#00ff6e"/>
<path d="M445 232h1v3h-1zM444 233h1v1h-1z" fill="#00ff00"/>
<path d="M436 240h3v1h-3zM437 239h1v3h-1z" fill="#00ff50"/>
<path d="M443 236h1v3h-1zM442 237h1v1h-1z" fill="#00ff1e"/>
<path d="M442 239h3v1h-3zM443 240h1v1h-1z" fill="#82ff00"/>
<path d="M447 237h3v1h-3zM448 236h1v1h-1z" fill="#00ff37"/>
<path d="M448 239h3v1h-3zM449 238h1v3h-1z" fill="#00ff1e"/>
<path d="M450 241h3v1h-3zM451 240h1v3h-1z" fill="#00ff1e"/>
<path d="M455 237h1v3h-1zM456 238h1v1h-1z" fill="#00ff00"/>
<path d="M456 231h1v3h-1zM457 232h1v1h-1z" fill="#00ff00"/>
<path d="M458 234h1v3h-1zM459 235h1v1h-1z" fill="#00ff00"/>
<path d="M462 236h1v3h-1zM461 237h1v1h-1z" fill="#00ff00"/>
<path d="M463 237h3v1h-3zM464 236h1v3h-1z" fill="#00ff6e"/>
<path d="M470 236h1v3h-1zM469 237h1v1h-1z" fill="#00ff37"/>
<path d="M458 241h3v1h-3zM459 240h1v3h-1z" fill="#00ff00"/>
<path d="M466 242h3v1h-3zM467 241h1v3h-1z" fill="#00ff1e"/>
<path d="M472 241h3v1h-3zM473 240h1v3h-1z" fill="#00ff00"/>
<path d="M478 236h3v1h-3zM479 235h1v3h-1z" fill="#00ff37"/>
<path d="M473 245h3v1h-3zM474 244h1v3h-1z" fill="#00ff50"/>
<path d="M470 246h3v1h-3zM471 245h1v3h-1z" fill="#00ff50"/>
<path d="M468 248h3v1h-3zM469 247h1v3h-1z" fill="#00ff00"/>
<path d="M468 251h3v1h-3zM469 250h1v3h-1z" fill="#00ff37"/>
<path d="M475 250h1v3h-1zM476 251h1v1h-1z" fill="#00ff1e"/>
<path d="M443 245h3v1h-3zM444 244h1v3h-1z" fill="#00ff00"/>
<path d="M445 244h1v3h-1zM446 245h1v1h-1z" fill="#00ff00"/>
<path d="M455 252h3v1h-3zM456 251h1v3h-1z" fill="#00ff37"/>
<path d="M460 252h3v1h-3zM461 251h1v3h-1z" fill="#00ff00"/>
<path d="M462 253h3v1h-3zM463 252h1v3h-1z" fill="#00ff37"/>
<path d="M446 251h3v1h-3zM447 250h1v3h-1z" fill="#00ff00"/>
<path d="M440 252h3v1h-3zM441 251h1v3h-1z" fill="#00ff37"/>
<path d="M431 244h1v1h-1zM431 249h1v1h-1zM432 245h1v1h-1zM432 248h1v1h-1zM433 246h1v1h-1zM433 247h1v1h-1zM434 247h1v1h-1zM434 246h1v1h-1zM435 248h1v1h-1zM435 245h1v1h-1zM436 249h1v1h-1zM436 244h1v1h-1z" fill="#00ff1e"/>
<path d="M438 246h3v1h-3zM439 247h1v1h-1z" fill="#00ff00"/>
<path d="M425 246h3v1h-3zM426 245h1v3h-1z" fill="#00ff6e"/>
<path d="M421 247h1v3h-1zM420 248h1v1h-1z" fill="#00ff37"/>
<path d="M413 248h3v1h-3zM414 247h1v3h-1z" fill="#00ff37"/>
<path d="M422 251h3v1h-3zM423 250h1v3h-1z" fill="#00ff37"/>
<path d="M427 251h1v3h-1zM426 252h1v1h-1z" fill="#00ff6e"/>
<path d="M398 250h3v1h-3zM399 251h1v1h-1z" fill="#82ff00"/>
<path d="M387 252h3v1h-3zM388 251h1v3h-1z" fill="#00ff00"/>
<path d="M379 250h1v1h-1zM379 255h1v1h-1zM380 251h1v1h-1zM380 254h1v1h-1zM381 252h1v1h-1zM381 253h1v1h-1zM382 253h1v1h-1zM382 252h1v1h-1zM383 254h1v1h-1zM383 251h1v1h-1zM384 255h1v1h-1zM384 250h1v1h-1z" fill="#00ff00"/>
<path d="M402 252h1v1h-1zM402 257h1v1h-1zM403 253h1v1h-1zM403 256h1v1h-1zM404 254h1v1h-1zM404 255h1v1h-1zM405 255h1v1h-1zM405 254h1v1h-1zM406 256h1v1h-1zM406 253h1v1h-1zM407 257h1v1h-1zM407 252h1v1h-1z" fill="#82ff00"/>
<path d="M429 254h3v1h-3zM430 253h1v3h-1z" fill="#00ff00"/>
<path d="M434 252h3v1h-3zM435 251h1v3h-1z" fill="#82ff00"/>
<path d="M500 201h1v3h-1zM499 202h1v1h-1z" fill="#00ff6e"/>
<path d="M491 214h3v1h-3zM492 213h1v1h-1z" fill="#82ff00"/>
<path d="M482 215h1v3h-1zM481 216h1v1h-1z" fill="#00ff00"/>
<path d="M495 217h1v3h-1zM496 218h1v1h-1z" fill="#82ff00"/>
<path d="M482 218h1v3h-1zM481 219h1v1h-1z" fill="#00ff00"/>
<path d="M482 221h3v1h-3zM483 220h1v3h-1z" fill="#00ff00"/>
<path d="M487 221h1v3h-1zM486 222h1v1h-1z" fill="#00ff50"/>
<path d="M495 220h1v3h-1zM494 221h1v1h-1z" fill="#00ff37"/>
<path d="M520 222h1v3h-1zM519 223h1v1h-1z" fill="#00ff00"/>
<path d="M507 224h1v3h-1zM506 225h1v1h-1z" fill="#00ff50"/>
<path d="M485 226h3v1h-3zM486 225h1v3h-1z" fill="#00ff50"/>
<path d="M492 225h1v3h-1zM491 226h1v1h-1z" fill="#00ff37"/>
<path d="M488 229h3v1h-3zM489 228h1v3h-1z" fill="#00ff1e"/>
<path d="M522 230h1v3h-1zM521 231h1v1h-1z" fill="#00ff00"/>
<path d="M488 234h3v1h-3zM489 235h1v1h-1z" fill="#00ff50"/>
<path d="M486 237h3v1h-3zM487 236h1v3h-1z" fill="#00ff50"/>
<path d="M491 237h3v1h-3zM492 236h1v3h-1z" fill="#00ff00"/>
<path d="M501 236h3v1h-3zM502 235h1v3h-1z" fill="#00ff00"/>
<path d="M521 239h3v1h-3zM522 238h1v1h-1z" fill="#00ff00"/>
<path d="M523 239h3v1h-3zM524 238h1v1h-1z" fill="#00ff00"/>
<path d="M529 238h3v1h-3zM530 237h1v3h-1z" fill="#00ff6e"/>
<path d="M482 241h3v1h-3zM483 240h1v3h-1z" fill="#00ff50"/>
<path d="M507 241h3v1h-3zM508 240h1v3h-1z" fill="#00ff6e"/>
<path d="M485 243h3v1h-3zM486 242h1v3h-1z" fill="#00ff00"/>
<path d="M481 245h3v1h-3zM482 244h1v3h-1z" fill="#00ff37"/>
<path d="M483 247h3v1h-3zM484 246h1v3h-1z" fill="#82ff00"/>
<path d="M505 245h1v3h-1zM506 246h1v1h-1z" fill="#00ff00"/>
<path d="M515 245h1v3h-1zM514 246h1v1h-1z" fill="#00ff00"/>
<path d="M494 252h3v1h-3zM495 251h1v1h-1z" fill="#00ff00"/>
<path d="M517 252h3v1h-3zM518 251h1v1h-1z" fill="#00ff1e"/>
<path d="M511 250h1v3h-1zM510 251h1v1h-1z" fill="#00ff6e"/>
<path d="M505 252h1v3h-1zM506 253h1v1h-1z" fill="#00ff00"/>
<path d="M488 254h3v1h-3zM489 253h1v3h-1z" fill="#00ff1e"/>
<path d="M312 264h3v1h-3zM313 263h1v3h-1z" fill="#00ff50"/>
<path d="M345 262h3v1h-3zM346 261h1v3h-1z" fill="#00ff00"/>
<path d="M352 261h3v1h-3zM353 260h1v1h-1z" fill="#00ff50"/>
<path d="M350 266h3v1h-3zM351 265h1v3h-1z" fill="#00ff6e"/>
<path d="M363 260h1v1h-1zM363 265h1v1h-1zM364 261h1v1h-1zM364 264h1v1h-1zM365 262h1v1h-1zM365 263h1v1h-1zM366 263h1v1h-1zM366 262h1v1h-1zM367 264h1v1h-1zM367 261h1v1h-1zM368 265h1v1h-1zM368 260h1v1h-1z" fill="#00ff6e"/>
<path d="M367 257h1v1h-1zM367 262h1v1h-1zM368 258h1v1h-1zM368 261h1v1h-1zM369 259h1v1h-1zM369 260h1v1h-1zM370 260h1v1h-1zM370 259h1v1h-1zM371 261h1v1h-1zM371 258h1v1h-1zM372 262h1v1h-1zM372 257h1v1h-1z" fill="#00ff6e"/>
<path d="M374 256h1v1h-1zM374 261h1v1h-1zM375 257h1v1h-1zM375 260h1v1h-1zM376 258h1v1h-1zM376 259h1v1h-1zM377 259h1v1h-1zM377 258h1v1h-1zM378 260h1v1h-1zM378 257h1v1h-1zM379 261h1v1h-1zM379 256h1v1h-1z" fill="#00ff6e"/>
<path d="M369 261h1v1h-1zM369 266h1v1h-1zM370 262h1v1h-1zM370 265h1v1h-1zM371 263h1v1h-1zM371 264h1v1h-1zM372 264h1v1h-1zM372 263h1v1h-1zM373 265h1v1h-1zM373 262h1v1h-1zM374 266h1v1h-1zM374 261h1v1h-1z" fill="#00ff6e"/>
<path d="M368 266h3v1h-3zM369 267h1v1h-1z" fill="#82ff00"/>
<path d="M340 273h3v1h-3zM341 272h1v3h-1z" fill="#00ff6e"/>
<path d="M327 275h1v3h-1zM328 276h1v1h-1z" fill="#00ff1e"/>
<path d="M352 269h1v1h-1zM352 274h1v1h-1zM353 270h1v1h-1zM353 273h1v1h-1zM354 271h1v1h-1zM354 272h1v1h-1zM355 272h1v1h-1zM355 271h1v1h-1zM356 273h1v1h-1zM356 270h1v1h-1zM357 274h1v1h-1zM357 269h1v1h-1z" fill="#00ff1e"/>
<path d="M355 273h1v1h-1zM355 278h1v1h-1zM356 274h1v1h-1zM356 277h1v1h-1zM357 275h1v1h-1zM357 276h1v1h-1zM358 276h1v1h-1zM358 275h1v1h-1zM359 277h1v1h-1zM359 274h1v1h-1zM360 278h1v1h-1zM360 273h1v1h-1z" fill="#00ff50"/>
<path d="M358 276h1v1h-1zM358 281h1v1h-1zM359 277h1v1h-1zM359 280h1v1h-1zM360 278h1v1h-1zM360 279h1v1h-1zM361 279h1v1h-1zM361 278h1v1h-1zM362 280h1v1h-1zM362 277h1v1h-1zM363 281h1v1h-1zM363 276h1v1h-1z" fill="#00ff37"/>
<path d="M360 279h1v1h-1zM360 284h1v1h-1zM361 280h1v1h-1zM361 283h1v1h-1zM362 281h1v1h-1zM362 282h1v1h-1zM363 282h1v1h-1zM363 281h1v1h-1zM364 283h1v1h-1zM364 280h1v1h-1zM365 284h1v1h-1zM365 279h1v1h-1z" fill="#00ff00"/>
<path d="M360 282h1v1h-1zM360 287h1v1h-1zM361 283h1v1h-1zM361 286h1v1h-1zM362 284h1v1h-1zM362 285h1v1h-1zM363 285h1v1h-1zM363 284h1v1h-1zM364 286h1v1h-1zM364 283h1v1h-1zM365 287h1v1h-1zM365 282h1v1h-1z" fill="#00ff00"/>
<path d="M368 274h3v1h-3zM369 275h1v1h-1z" fill="#00ff1e"/>
<path d="M373 280h1v3h-1zM374 281h1v1h-1z" fill="#00ff37"/>
<path d="M370 282h1v3h-1zM369 283h1v1h-1z" fill="#00ff50"/>
<path d="M379 282h1v3h-1zM378 283h1v1h-1z" fill="#00ff50"/>
<path d="M326 286h1v3h-1zM327 287h1v1h-1z" fill="#00ff37"/>
<path d="M308 291h3v1h-3zM309 290h1v3h-1z" fill="#00ff50"/>
<path d="M303 298h3v1h-3zM304 297h1v1h-1z" fill="#00ff00"/>
<path d="M341 294h3v1h-3zM342 295h1v1h-1z" fill="#00ff50"/>
<path d="M346 293h1v3h-1zM347 294h1v1h-1z" fill="#00ff00"/>
<path d="M360 291h3v1h-3zM361 290h1v3h-1z" fill="#00ff50"/>
<path d="M364 290h1v3h-1zM365 291h1v1h-1z" fill="#00ff50"/>
<path d="M357 294h1v1h-1zM357 299h1v1h-1zM358 295h1v1h-1zM358 298h1v1h-1zM359 296h1v1h-1zM359 297h1v1h-1zM360 297h1v1h-1zM360 296h1v1h-1zM361 298h1v1h-1zM361 295h1v1h-1zM362 299h1v1h-1zM362 294h1v1h-1z" fill="#00ff00"/>
<path d="M362 296h1v1h-1zM362 301h1v1h-1zM363 297h1v1h-1zM363 300h1v1h-1zM364 298h1v1h-1zM364 299h1v1h-1zM365 299h1v1h-1zM365 298h1v1h-1zM366 300h1v1h-1zM366 297h1v1h-1zM367 301h1v1h-1zM367 296h1v1h-1z" fill="#00ff37"/>
<path d="M376 291h1v1h-1zM376 296h1v1h-1zM377 292h1v1h-1zM377 295h1v1h-1zM378 293h1v1h-1zM378 294h1v1h-1zM379 294h1v1h-1zM379 293h1v1h-1zM380 295h1v1h-1zM380 292h1v1h-1zM381 296h1v1h-1zM381 291h1v1h-1z" fill="#00ff00"/>
<path d="M373 293h1v1h-1zM373 298h1v1h-1zM374 294h1v1h-1zM374 297h1v1h-1zM375 295h1v1h-1zM375 296h1v1h-1zM376 296h1v1h-1zM376 295h1v1h-1zM377 297h1v1h-1zM377 294h1v1h-1zM378 298h1v1h-1zM378 293h1v1h-1z" fill="#00ff50"/>
<path d="M312 304h3v1h-3zM313 303h1v3h-1z" fill="#00ff00"/>
<path d="M317 306h3v1h-3zM318 305h1v3h-1z" fill="#00ff00"/>
<path d="M327 303h1v3h-1zM326 304h1v1h-1z" fill="#00ff00"/>
<path d="M345 301h1v3h-1zM346 302h1v1h-1z" fill="#00ff00"/>
<path d="M339 307h3v1h-3zM340 306h1v3h-1z" fill="#00ff37"/>
<path d="M304 314h3v1h-3zM305 313h1v3h-1z" fill="#00ff50"/>
<path d="M305 325h1v3h-1zM304 326h1v1h-1z" fill="#00ff00"/>
<path d="M308 329h3v1h-3zM309 328h1v3h-1z" fill="#00ff50"/>
<path d="M326 324h1v1h-1zM326 329h1v1h-1zM327 325h1v1h-1zM327 328h1v1h-1zM328 326h1v1h-1zM328 327h1v1h-1zM329 327h1v1h-1zM329 326h1v1h-1zM330 328h1v1h-1zM330 325h1v1h-1zM331 329h1v1h-1zM331 324h1v1h-1z" fill="#82ff00"/>
<path d="M334 324h1v3h-1zM335 325h1v1h-1z" fill="#00ff00"/>
<path d="M347 315h1v3h-1zM348 316h1v1h-1z" fill="#00ff6e"/>
<path d="M352 313h1v1h-1zM352 318h1v1h-1zM353 314h1v1h-1zM353 317h1v1h-1zM354 315h1v1h-1zM354 316h1v1h-1zM355 316h1v1h-1zM355 315h1v1h-1zM356 317h1v1h-1zM356 314h1v1h-1zM357 318h1v1h-1zM357 313h1v1h-1z" fill="#00ff1e"/>
<path d="M344 320h1v1h-1zM344 325h1v1h-1zM345 321h1v1h-1zM345 324h1v1h-1zM346 322h1v1h-1zM346 323h1v1h-1zM347 323h1v1h-1zM347 322h1v1h-1zM348 324h1v1h-1zM348 321h1v1h-1zM349 325h1v1h-1zM349 320h1v1h-1z" fill="#00ff50"/>
<path d="M342 324h1v1h-1zM342 329h1v1h-1zM343 325h1v1h-1zM343 328h1v1h-1zM344 326h1v1h-1zM344 327h1v1h-1zM345 327h1v1h-1zM345 326h1v1h-1zM346 328h1v1h-1zM346 325h1v1h-1zM347 329h1v1h-1zM347 324h1v1h-1z" fill="#00ff50"/>
<path d="M347 323h1v1h-1zM347 328h1v1h-1zM348 324h1v1h-1zM348 327h1v1h-1zM349 325h1v1h-1zM349 326h1v1h-1zM350 326h1v1h-1zM350 325h1v1h-1zM351 327h1v1h-1zM351 324h1v1h-1zM352 328h1v1h-1zM352 323h1v1h-1z" fill="#00ff50"/>
<path d="M337 325h1v1h-1zM337 330h1v1h-1zM338 326h1v1h-1zM338 329h1v1h-1zM339 327h1v1h-1zM339 328h1v1h-1zM340 328h1v1h-1zM340 327h1v1h-1zM341 329h1v1h-1zM341 326h1v1h-1zM342 330h1v1h-1zM342 325h1v1h-1z" fill="#00ff37"/>
<path d="M359 312h3v1h-3zM360 311h1v3h-1z" fill="#00ff00"/>
<path d="M359 300h1v1h-1zM359 305h1v1h-1zM360 301h1v1h-1zM360 304h1v1h-1zM361 302h1v1h-1zM361 303h1v1h-1zM362 303h1v1h-1zM362 302h1v1h-1zM363 304h1v1h-1zM363 301h1v1h-1zM364 305h1v1h-1zM364 300h1v1h-1z" fill="#00ff50"/>
<path d="M363 303h1v1h-1zM363 308h1v1h-1zM364 304h1v1h-1zM364 307h1v1h-1zM365 305h1v1h-1zM365 306h1v1h-1zM366 306h1v1h-1zM366 305h1v1h-1zM367 307h1v1h-1zM367 304h1v1h-1zM368 308h1v1h-1zM368 303h1v1h-1z" fill="#00ff00"/>
<path d="M366 307h1v1h-1zM366 312h1v1h-1zM367 308h1v1h-1zM367 311h1v1h-1zM368 309h1v1h-1zM368 310h1v1h-1zM369 310h1v1h-1zM369 309h1v1h-1zM370 311h1v1h-1zM370 308h1v1h-1zM371 312h1v1h-1zM371 307h1v1h-1z" fill="#00ff00"/>
<path d="M370 309h1v1h-1zM370 314h1v1h-1zM371 310h1v1h-1zM371 313h1v1h-1zM372 311h1v1h-1zM372 312h1v1h-1zM373 312h1v1h-1zM373 311h1v1h-1zM374 313h1v1h-1zM374 310h1v1h-1zM375 314h1v1h-1zM375 309h1v1h-1z" fill="#00ff00"/>
<path d="M373 311h1v1h-1zM373 316h1v1h-1zM374 312h1v1h-1zM374 315h1v1h-1zM375 313h1v1h-1zM375 314h1v1h-1zM376 314h1v1h-1zM376 313h1v1h-1zM377 315h1v1h-1zM377 312h1v1h-1zM378 316h1v1h-1zM378 311h1v1h-1z" fill="#00ff1e"/>
<path d="M376 309h1v1h-1zM376 314h1v1h-1zM377 310h1v1h-1zM377 313h1v1h-1zM378 311h1v1h-1zM378 312h1v1h-1zM379 312h1v1h-1zM379 311h1v1h-1zM380 313h1v1h-1zM380 310h1v1h-1zM381 314h1v1h-1zM381 309h1v1h-1z" fill="#00ff00"/>
<path d="M364 311h1v1h-1zM364 316h1v1h-1zM365 312h1v1h-1zM365 315h1v1h-1zM366 313h1v1h-1zM366 314h1v1h-1zM367 314h1v1h-1zM367 313h1v1h-1zM368 315h1v1h-1zM368 312h1v1h-1zM369 316h1v1h-1zM369 311h1v1h-1z" fill="#00ff00"/>
<path d="M362 314h1v1h-1zM362 319h1v1h-1zM363 315h1v1h-1zM363 318h1v1h-1zM364 316h1v1h-1zM364 317h1v1h-1zM365 317h1v1h-1zM365 316h1v1h-1zM366 318h1v1h-1zM366 315h1v1h-1zM367 319h1v1h-1zM367 314h1v1h-1z" fill="#00ff50"/>
<path d="M364 319h1v1h-1zM364 324h1v1h-1zM365 320h1v1h-1zM365 323h1v1h-1zM366 321h1v1h-1zM366 322h1v1h-1zM367 322h1v1h-1zM367 321h1v1h-1zM368 323h1v1h-1zM368 320h1v1h-1zM369 324h1v1h-1zM369 319h1v1h-1z" fill="#00ff37"/>
<path d="M369 321h1v1h-1zM369 326h1v1h-1zM370 322h1v1h-1zM370 325h1v1h-1zM371 323h1v1h-1zM371 324h1v1h-1zM372 324h1v1h-1zM372 323h1v1h-1zM373 325h1v1h-1zM373 322h1v1h-1zM374 326h1v1h-1zM374 321h1v1h-1z" fill="#00ff50"/>
<path d="M373 320h1v1h-1zM373 325h1v1h-1zM374 321h1v1h-1zM374 324h1v1h-1zM375 322h1v1h-1zM375 323h1v1h-1zM376 323h1v1h-1zM376 322h1v1h-1zM377 324h1v1h-1zM377 321h1v1h-1zM378 325h1v1h-1zM378 320h1v1h-1z" fill="#00ff00"/>
<path d="M376 317h1v1h-1zM376 322h1v1h-1zM377 318h1v1h-1zM377 321h1v1h-1zM378 319h1v1h-1zM378 320h1v1h-1zM379 320h1v1h-1zM379 319h1v1h-1zM380 321h1v1h-1zM380 318h1v1h-1zM381 322h1v1h-1zM381 317h1v1h-1z" fill="#00ff00"/>
<path d="M362 322h1v1h-1zM362 327h1v1h-1zM363 323h1v1h-1zM363 326h1v1h-1zM364 324h1v1h-1zM364 325h1v1h-1zM365 325h1v1h-1zM365 324h1v1h-1zM366 326h1v1h-1zM366 323h1v1h-1zM367 327h1v1h-1zM367 322h1v1h-1z" fill="#00ff37"/>
<path d="M367 325h1v1h-1zM367 330h1v1h-1zM368 326h1v1h-1zM368 329h1v1h-1zM369 327h1v1h-1zM369 328h1v1h-1zM370 328h1v1h-1zM370 327h1v1h-1zM371 329h1v1h-1zM371 326h1v1h-1zM372 330h1v1h-1zM372 325h1v1h-1z" fill="#00ff1e"/>
<path d="M372 325h1v1h-1zM372 330h1v1h-1zM373 326h1v1h-1zM373 329h1v1h-1zM374 327h1v1h-1zM374 328h1v1h-1zM375 328h1v1h-1zM375 327h1v1h-1zM376 329h1v1h-1zM376 326h1v1h-1zM377 330h1v1h-1zM377 325h1v1h-1z" fill="#00ff50"/>
<path d="M358 311h1v1h-1zM358 316h1v1h-1zM359 312h1v1h-1zM359 315h1v1h-1zM360 313h1v1h-1zM360 314h1v1h-1zM361 314h1v1h-1zM361 313h1v1h-1zM362 315h1v1h-1zM362 312h1v1h-1zM363 316h1v1h-1zM363 311h1v1h-1z" fill="#00ff50"/>
<path d="M374 302h1v1h-1zM374 307h1v1h-1zM375 303h1v1h-1zM375 306h1v1h-1zM376 304h1v1h-1zM376 305h1v1h-1zM377 305h1v1h-1zM377 304h1v1h-1zM378 306h1v1h-1zM378 303h1v1h-1zM379 307h1v1h-1zM379 302h1v1h-1z" fill="#00ff50"/>
<path d="M376 306h1v1h-1zM376 311h1v1h-1zM377 307h1v1h-1zM377 310h1v1h-1zM378 308h1v1h-1zM378 309h1v1h-1zM379 309h1v1h-1zM379 308h1v1h-1zM380 310h1v1h-1zM380 307h1v1h-1zM381 311h1v1h-1zM381 306h1v1h-1z" fill="#00ff50"/>
<path d="M372 299h1v1h-1zM372 304h1v1h-1zM373 300h1v1h-1zM373 303h1v1h-1zM374 301h1v1h-1zM374 302h1v1h-1zM375 302h1v1h-1zM375 301h1v1h-1zM376 303h1v1h-1zM376 300h1v1h-1zM377 304h1v1h-1zM377 299h1v1h-1z" fill="#00ff00"/>
<path d="M525 259h1v3h-1zM526 260h1v1h-1z" fill="#82ff00"/>
<path d="M490 256h3v1h-3zM491 255h1v3h-1z" fill="#00ff1e"/>
<path d="M499 256h3v1h-3zM500 255h1v3h-1z" fill="#00ff37"/>
<path d="M498 255h3v1h-3zM499 254h1v3h-1z" fill="#82ff00"/>
<path d="M487 259h3v1h-3zM488 258h1v3h-1z" fill="#00ff50"/>
<path d="M488 261h3v1h-3zM489 260h1v3h-1z" fill="#00ff50"/>
<path d="M492 259h3v1h-3zM493 258h1v3h-1z" fill="#00ff37"/>
<path d="M499 263h3v1h-3zM500 262h1v1h-1z" fill="#00ff50"/>
<path d="M484 264h3v1h-3zM485 263h1v3h-1z" fill="#00ff00"/>
<path d="M499 264h1v3h-1zM498 265h1v1h-1z" fill="#00ff50"/>
<path d="M511 264h3v1h-3zM512 263h1v3h-1z" fill="#00ff1e"/>
<path d="M499 268h1v3h-1zM498 269h1v1h-1z" fill="#00ff50"/>
<path d="M502 269h3v1h-3zM503 268h1v1h-1z" fill="#00ff00"/>
<path d="M520 269h3v1h-3zM521 268h1v1h-1z" fill="#00ff37"/>
<path d="M482 271h3v1h-3zM483 270h1v1h-1z" fill="#00ff00"/>
<path d="M500 274h3v1h-3zM501 273h1v3h-1z" fill="#00ff37"/>
<path d="M501 272h3v1h-3zM502 271h1v3h-1z" fill="#00ff00"/>
<path d="M498 277h3v1h-3zM499 276h1v3h-1z" fill="#00ff37"/>
<path d="M500 276h3v1h-3zM501 275h1v3h-1z" fill="#00ff37"/>
<path d="M485 278h3v1h-3zM486 279h1v1h-1z" fill="#00ff1e"/>
<path d="M497 282h3v1h-3zM498 283h1v1h-1z" fill="#00ff00"/>
<path d="M493 284h1v3h-1zM492 285h1v1h-1z" fill="#00ff6e"/>
<path d="M504 285h3v1h-3zM505 286h1v1h-1z" fill="#00ff6e"/>
<path d="M482 287h3v1h-3zM483 288h1v1h-1z" fill="#00ff00"/>
<path d="M485 293h3v1h-3zM486 292h1v3h-1z" fill="#00ff37"/>
<path d="M525 295h3v1h-3zM526 294h1v1h-1z" fill="#00ff00"/>
<path d="M480 299h3v1h-3zM481 298h1v3h-1z" fill="#00ff00"/>
<path d="M511 301h3v1h-3zM512 300h1v3h-1z" fill="#00ff1e"/>
<path d="M508 310h1v3h-1zM507 311h1v1h-1z" fill="#00ff00"/>
<path d="M487 318h3v1h-3zM488 317h1v3h-1z" fill="#00ff00"/>
<path d="M491 325h3v1h-3zM492 324h1v1h-1z" fill="#00ff1e"/>
<path d="M505 325h1v3h-1zM504 326h1v1h-1z" fill="#00ff00"/>
<path d="M310 331h3v1h-3zM311 330h1v3h-1z" fill="#00ff1e"/>
<path d="M294 338h3v1h-3zM295 337h1v3h-1z" fill="#00ff00"/>
<path d="M312 335h3v1h-3zM313 336h1v1h-1z" fill="#00ff37"/>
<path d="M326 335h3v1h-3zM327 334h1v3h-1z" fill="#00ff00"/>
<path d="M334 332h1v1h-1zM334 337h1v1h-1zM335 333h1v1h-1zM335 336h1v1h-1zM336 334h1v1h-1zM336 335h1v1h-1zM337 335h1v1h-1zM337 334h1v1h-1zM338 336h1v1h-1zM338 333h1v1h-1zM339 337h1v1h-1zM339 332h1v1h-1z" fill="#00ff00"/>
<path d="M332 340h3v1h-3zM333 339h1v3h-1z" fill="#00ff6e"/>
<path d="M322 342h1v3h-1zM323 343h1v1h-1z" fill="#00ff37"/>
<path d="M332 343h1v1h-1zM332 348h1v1h-1zM333 344h1v1h-1zM333 347h1v1h-1zM334 345h1v1h-1zM334 346h1v1h-1zM335 346h1v1h-1zM335 345h1v1h-1zM336 347h1v1h-1zM336 344h1v1h-1zM337 348h1v1h-1zM337 343h1v1h-1z" fill="#00ff37"/>
<path d="M328 348h3v1h-3zM329 349h1v1h-1z" fill="#00ff00"/>
<path d="M335 353h3v1h-3zM336 352h1v3h-1z" fill="#00ff00"/>
<path d="M344 347h3v1h-3zM345 346h1v1h-1z" fill="#82ff00"/>
<path d="M348 341h1v3h-1zM349 342h1v1h-1z" fill="#00ff00"/>
<path d="M354 345h3v1h-3zM355 344h1v3h-1z" fill="#00ff37"/>
<path d="M356 347h3v1h-3zM357 346h1v1h-1z" fill="#00ff50"/>
<path d="M360 343h1v1h-1zM360 348h1v1h-1zM361 344h1v1h-1zM361 347h1v1h-1zM362 345h1v1h-1zM362 346h1v1h-1zM363 346h1v1h-1zM363 345h1v1h-1zM364 347h1v1h-1zM364 344h1v1h-1zM365 348h1v1h-1zM365 343h1v1h-1z" fill="#00ff37"/>
<path d="M370 341h1v1h-1zM370 346h1v1h-1zM371 342h1v1h-1zM371 345h1v1h-1zM372 343h1v1h-1zM372 344h1v1h-1zM373 344h1v1h-1zM373 343h1v1h-1zM374 345h1v1h-1zM374 342h1v1h-1zM375 346h1v1h-1zM375 341h1v1h-1z" fill="#00ff6e"/>
<path d="M357 350h1v3h-1zM358 351h1v1h-1z" fill="#00ff6e"/>
<path d="M368 352h3v1h-3zM369 351h1v3h-1z" fill="#00ff1e"/>
<path d="M375 349h3v1h-3zM376 348h1v3h-1z" fill="#00ff37"/>
<path d="M350 359h3v1h-3zM351 358h1v1h-1z" fill="#00ff00"/>
<path d="M422 370h3v1h-3zM423 369h1v3h-1z" fill="#82ff00"/>
<path d="M455 357h3v1h-3zM456 356h1v3h-1z" fill="#00ff1e"/>
<path d="M475 348h3v1h-3zM476 347h1v3h-1z" fill="#00ff1e"/>
<path d="M475 337h3v1h-3zM476 336h1v1h-1z" fill="#00ff00"/>
<path d="M475 330h3v1h-3zM476 329h1v3h-1z" fill="#00ff1e"/>
<path d="M455 331h1v1h-1zM455 336h1v1h-1zM456 332h1v1h-1zM456 335h1v1h-1zM457 333h1v1h-1zM457 334h1v1h-1zM458 334h1v1h-1zM458 333h1v1h-1zM459 335h1v1h-1zM459 332h1v1h-1zM460 336h1v1h-1zM460 331h1v1h-1z" fill="#00ff6e"/>
<path d="M448 333h1v3h-1zM447 334h1v1h-1z" fill="#00ff00"/>
<path d="M435 337h3v1h-3zM436 336h1v3h-1z" fill="#00ff1e"/>
<path d="M437 342h1v3h-1zM436 343h1v1h-1z" fill="#00ff50"/>
<path d="M435 328h1v1h-1zM435 333h1v1h-1zM436 329h1v1h-1zM436 332h1v1h-1zM437 330h1v1h-1zM437 331h1v1h-1zM438 331h1v1h-1zM438 330h1v1h-1zM439 332h1v1h-1zM439 329h1v1h-1zM440 333h1v1h-1zM440 328h1v1h-1z" fill="#00ff37"/>
<path d="M423 344h1v1h-1zM423 349h1v1h-1zM424 345h1v1h-1zM424 348h1v1h-1zM425 346h1v1h-1zM425 347h1v1h-1zM426 347h1v1h-1zM426 346h1v1h-1zM427 348h1v1h-1zM427 345h1v1h-1zM428 349h1v1h-1zM428 344h1v1h-1z" fill="#00ff37"/>
<path d="M413 349h1v1h-1zM413 354h1v1h-1zM414 350h1v1h-1zM414 353h1v1h-1zM415 351h1v1h-1zM415 352h1v1h-1zM416 352h1v1h-1zM416 351h1v1h-1zM417 353h1v1h-1zM417 350h1v1h-1zM418 354h1v1h-1zM418 349h1v1h-1z" fill="#00ff00"/>
<path d="M382 331h1v1h-1zM382 336h1v1h-1zM383 332h1v1h-1zM383 335h1v1h-1zM384 333h1v1h-1zM384 334h1v1h-1zM385 334h1v1h-1zM385 333h1v1h-1zM386 335h1v1h-1zM386 332h1v1h-1zM387 336h1v1h-1zM387 331h1v1h-1z" fill="#00ff37"/>
<path d="M388 334h1v1h-1zM388 339h1v1h-1zM389 335h1v1h-1zM389 338h1v1h-1zM390 336h1v1h-1zM390 337h1v1h-1zM391 337h1v1h-1zM391 336h1v1h-1zM392 338h1v1h-1zM392 335h1v1h-1zM393 339h1v1h-1zM393 334h1v1h-1z" fill="#00ff1e"/>
<path d="M393 331h1v1h-1zM393 336h1v1h-1zM394 332h1v1h-1zM394 335h1v1h-1zM395 333h1v1h-1zM395 334h1v1h-1zM396 334h1v1h-1zM396 333h1v1h-1zM397 335h1v1h-1zM397 332h1v1h-1zM398 336h1v1h-1zM398 331h1v1h-1z" fill="#00ff50"/>
<path d="M399 337h1v1h-1zM399 342h1v1h-1zM400 338h1v1h-1zM400 341h1v1h-1zM401 339h1v1h-1zM401 340h1v1h-1zM402 340h1v1h-1zM402 339h1v1h-1zM403 341h1v1h-1zM403 338h1v1h-1zM404 342h1v1h-1zM404 337h1v1h-1z" fill="#00ff50"/>
<path d="M406 342h1v1h-1zM406 347h1v1h-1zM407 343h1v1h-1zM407 346h1v1h-1zM408 344h1v1h-1zM408 345h1v1h-1zM409 345h1v1h-1zM409 344h1v1h-1zM410 346h1v1h-1zM410 343h1v1h-1zM411 347h1v1h-1zM411 342h1v1h-1z" fill="#00ff1e"/>
<path d="M384 341h1v1h-1zM384 346h1v1h-1zM385 342h1v1h-1zM385 345h1v1h-1zM386 343h1v1h-1zM386 344h1v1h-1zM387 344h1v1h-1zM387 343h1v1h-1zM388 345h1v1h-1zM388 342h1v1h-1zM389 346h1v1h-1zM389 341h1v1h-1z" fill="#00ff50"/>
<path d="M389 346h1v1h-1zM389 351h1v1h-1zM390 347h1v1h-1zM390 350h1v1h-1zM391 348h1v1h-1zM391 349h1v1h-1zM392 349h1v1h-1zM392 348h1v1h-1zM393 350h1v1h-1zM393 347h1v1h-1zM394 351h1v1h-1zM394 346h1v1h-1z" fill="#00ff00"/>
<path d="M383 349h1v1h-1zM383 354h1v1h-1zM384 350h1v1h-1zM384 353h1v1h-1zM385 351h1v1h-1zM385 352h1v1h-1zM386 352h1v1h-1zM386 351h1v1h-1zM387 353h1v1h-1zM387 350h1v1h-1zM388 354h1v1h-1zM388 349h1v1h-1z" fill="#00ff00"/>
<path d="M388 352h1v1h-1zM388 357h1v1h-1zM389 353h1v1h-1zM389 356h1v1h-1zM390 354h1v1h-1zM390 355h1v1h-1zM391 355h1v1h-1zM391 354h1v1h-1zM392 356h1v1h-1zM392 353h1v1h-1zM393 357h1v1h-1zM393 352h1v1h-1z" fill="#00ff00"/>
<path d="M402 347h1v1h-1zM402 352h1v1h-1zM403 348h1v1h-1zM403 351h1v1h-1zM404 349h1v1h-1zM404 350h1v1h-1zM405 350h1v1h-1zM405 349h1v1h-1zM406 351h1v1h-1zM406 348h1v1h-1zM407 352h1v1h-1zM407 347h1v1h-1z" fill="#00ff00"/>
<path d="M401 353h1v1h-1zM401 358h1v1h-1zM402 354h1v1h-1zM402 357h1v1h-1zM403 355h1v1h-1zM403 356h1v1h-1zM404 356h1v1h-1zM404 355h1v1h-1zM405 357h1v1h-1zM405 354h1v1h-1zM406 358h1v1h-1zM406 353h1v1h-1z" fill="#00ff00"/>
<path d="M381 336h1v1h-1zM381 341h1v1h-1zM382 337h1v1h-1zM382 340h1v1h-1zM383 338h1v1h-1zM383 339h1v1h-1zM384 339h1v1h-1zM384 338h1v1h-1zM385 340h1v1h-1zM385 337h1v1h-1zM386 341h1v1h-1zM386 336h1v1h-1z" fill="#00ff1e"/>
<path d="M396 342h1v1h-1zM396 347h1v1h-1zM397 343h1v1h-1zM397 346h1v1h-1zM398 344h1v1h-1zM398 345h1v1h-1zM399 345h1v1h-1zM399 344h1v1h-1zM400 346h1v1h-1zM400 343h1v1h-1zM401 347h1v1h-1zM401 342h1v1h-1z" fill="#00ff1e"/>
<path d="M411 332h1v1h-1zM411 337h1v1h-1zM412 333h1v1h-1zM412 336h1v1h-1zM413 334h1v1h-1zM413 335h1v1h-1zM414 335h1v1h-1zM414 334h1v1h-1zM415 336h1v1h-1zM415 333h1v1h-1zM416 337h1v1h-1zM416 332h1v1h-1z" fill="#00ff00"/>
<path d="M417 334h1v1h-1zM417 339h1v1h-1zM418 335h1v1h-1zM418 338h1v1h-1zM419 336h1v1h-1zM419 337h1v1h-1zM420 337h1v1h-1zM420 336h1v1h-1zM421 338h1v1h-1zM421 335h1v1h-1zM422 339h1v1h-1zM422 334h1v1h-1z" fill="#00ff00"/>
<path d="M421 332h1v1h-1zM421 337h1v1h-1zM422 333h1v1h-1zM422 336h1v1h-1zM423 334h1v1h-1zM423 335h1v1h-1zM424 335h1v1h-1zM424 334h1v1h-1zM425 336h1v1h-1zM425 333h1v1h-1zM426 337h1v1h-1zM426 332h1v1h-1z" fill="#00ff1e"/>
<path d="M413 328h1v1h-1zM413 333h1v1h-1zM414 329h1v1h-1zM414 332h1v1h-1zM415 330h1v1h-1zM415 331h1v1h-1zM416 331h1v1h-1zM416 330h1v1h-1zM417 332h1v1h-1zM417 329h1v1h-1zM418 333h1v1h-1zM418 328h1v1h-1z" fill="#00ff00"/>
<path d="M408 331h1v1h-1zM408 336h1v1h-1zM409 332h1v1h-1zM409 335h1v1h-1zM410 333h1v1h-1zM410 334h1v1h-1zM411 334h1v1h-1zM411 333h1v1h-1zM412 335h1v1h-1zM412 332h1v1h-1zM413 336h1v1h-1zM413 331h1v1h-1z" fill="#00ff37"/>
<path d="M418 329h1v1h-1zM418 334h1v1h-1zM419 330h1v1h-1zM419 333h1v1h-1zM420 331h1v1h-1zM420 332h1v1h-1zM421 332h1v1h-1zM421 331h1v1h-1zM422 333h1v1h-1zM422 330h1v1h-1zM423 334h1v1h-1zM423 329h1v1h-1z" fill="#00ff1e"/>
<path d="M393 334h3v1h-3zM394 333h1v3h-1z" fill="#82ff00"/>
<path d="M411 338h3v1h-3zM412 337h1v3h-1z" fill="#00ff37"/>
<path d="M425 339h3v1h-3zM426 338h1v3h-1z" fill="#00ff00"/>
<path d="M426 344h3v1h-3zM427 343h1v3h-1z" fill="#00ff50"/>
<path d="M406 360h3v1h-3zM407 359h1v3h-1z" fill="#00ff50"/>
<path d="M393 344h3v1h-3zM394 343h1v3h-1z" fill="#00ff50"/>
<path d="M388 346h3v1h-3zM389 345h1v3h-1z" fill="#00ff37"/>
<path d="M412 268h3v1h-3zM413 267h1v3h-1z" fill="#82ff00"/>
<path d="M401 266h1v1h-1zM401 271h1v1h-1zM402 267h1v1h-1zM402 270h1v1h-1zM403 268h1v1h-1zM403 269h1v1h-1zM404 269h1v1h-1zM404 268h1v1h-1zM405 270h1v1h-1zM405 267h1v1h-1zM406 271h1v1h-1zM406 266h1v1h-1z" fill="#00ff6e"/>
<path d="M430 275h3v1h-3zM431 274h1v3h-1z" fill="#82ff00"/>
<path d="M477 275h1v3h-1zM478 276h1v1h-1z" fill="#82ff00"/>
<path d="M424 323h3v1h-3zM425 322h1v3h-1z" fill="#82ff00"/>
<path d="M474 306h3v1h-3zM475 305h1v3h-1z" fill="#00ff1e"/>
<path d="M475 301h3v1h-3zM476 300h1v3h-1z" fill="#00ff00"/>
<path d="M465 316h3v1h-3zM466 315h1v3h-1z" fill="#00ff1e"/>
<path d="M465 320h3v1h-3zM466 319h1v3h-1z" fill="#00ff00"/>
<path d="M460 327h3v1h-3zM461 326h1v3h-1z" fill="#00ff00"/>
<path d="M455 309h1v3h-1zM456 310h1v1h-1z" fill="#00ff37"/>
<path d="M390 260h1v1h-1zM390 265h1v1h-1zM391 261h1v1h-1zM391 264h1v1h-1zM392 262h1v1h-1zM392 263h1v1h-1zM393 263h1v1h-1zM393 262h1v1h-1zM394 264h1v1h-1zM394 261h1v1h-1zM395 265h1v1h-1zM395 260h1v1h-1z" fill="#00ff00"/>
<path d="M396 257h1v1h-1zM396 262h1v1h-1zM397 258h1v1h-1zM397 261h1v1h-1zM398 259h1v1h-1zM398 260h1v1h-1zM399 260h1v1h-1zM399 259h1v1h-1zM400 261h1v1h-1zM400 258h1v1h-1zM401 262h1v1h-1zM401 257h1v1h-1z" fill="#00ff1e"/>
<path d="M404 263h1v1h-1zM404 268h1v1h-1zM405 264h1v1h-1zM405 267h1v1h-1zM406 265h1v1h-1zM406 266h1v1h-1zM407 266h1v1h-1zM407 265h1v1h-1zM408 267h1v1h-1zM408 264h1v1h-1zM409 268h1v1h-1zM409 263h1v1h-1z" fill="#00ff00"/>
<path d="M398 273h1v1h-1zM398 278h1v1h-1zM399 274h1v1h-1zM399 277h1v1h-1zM400 275h1v1h-1zM400 276h1v1h-1zM401 276h1v1h-1zM401 275h1v1h-1zM402 277h1v1h-1zM402 274h1v1h-1zM403 278h1v1h-1zM403 273h1v1h-1z" fill="#00ff00"/>
<path d="M400 269h1v1h-1zM400 274h1v1h-1zM401 270h1v1h-1zM401 273h1v1h-1zM402 271h1v1h-1zM402 272h1v1h-1zM403 272h1v1h-1zM403 271h1v1h-1zM404 273h1v1h-1zM404 270h1v1h-1zM405 274h1v1h-1zM405 269h1v1h-1z" fill="#00ff1e"/>
<path d="M407 279h1v1h-1zM407 284h1v1h-1zM408 280h1v1h-1zM408 283h1v1h-1zM409 281h1v1h-1zM409 282h1v1h-1zM410 282h1v1h-1zM410 281h1v1h-1zM411 283h1v1h-1zM411 280h1v1h-1zM412 284h1v1h-1zM412 279h1v1h-1z" fill="#00ff00"/>
<path d="M400 283h1v1h-1zM400 288h1v1h-1zM401 284h1v1h-1zM401 287h1v1h-1zM402 285h1v1h-1zM402 286h1v1h-1zM403 286h1v1h-1zM403 285h1v1h-1zM404 287h1v1h-1zM404 284h1v1h-1zM405 288h1v1h-1zM405 283h1v1h-1z" fill="#00ff50"/>
<path d="M417 279h1v1h-1zM417 284h1v1h-1zM418 280h1v1h-1zM418 283h1v1h-1zM419 281h1v1h-1zM419 282h1v1h-1zM420 282h1v1h-1zM420 281h1v1h-1zM421 283h1v1h-1zM421 280h1v1h-1zM422 284h1v1h-1zM422 279h1v1h-1z" fill="#00ff00"/>
<path d="M417 283h1v1h-1zM417 288h1v1h-1zM418 284h1v1h-1zM418 287h1v1h-1zM419 285h1v1h-1zM419 286h1v1h-1zM420 286h1v1h-1zM420 285h1v1h-1zM421 287h1v1h-1zM421 284h1v1h-1zM422 288h1v1h-1zM422 283h1v1h-1z" fill="#00ff00"/>
<path d="M416 292h1v1h-1zM416 297h1v1h-1zM417 293h1v1h-1zM417 296h1v1h-1zM418 294h1v1h-1zM418 295h1v1h-1zM419 295h1v1h-1zM419 294h1v1h-1zM420 296h1v1h-1zM420 293h1v1h-1zM421 297h1v1h-1zM421 292h1v1h-1z" fill="#00ff1e"/>
<path d="M397 291h1v1h-1zM397 296h1v1h-1zM398 292h1v1h-1zM398 295h1v1h-1zM399 293h1v1h-1zM399 294h1v1h-1zM400 294h1v1h-1zM400 293h1v1h-1zM401 295h1v1h-1zM401 292h1v1h-1zM402 296h1v1h-1zM402 291h1v1h-1z" fill="#00ff00"/>
<path d="M404 293h1v1h-1zM404 298h1v1h-1zM405 294h1v1h-1zM405 297h1v1h-1zM406 295h1v1h-1zM406 296h1v1h-1zM407 296h1v1h-1zM407 295h1v1h-1zM408 297h1v1h-1zM408 294h1v1h-1zM409 298h1v1h-1zM409 293h1v1h-1z" fill="#00ff37"/>
<path d="M423 254h1v1h-1zM423 259h1v1h-1zM424 255h1v1h-1zM424 258h1v1h-1zM425 256h1v1h-1zM425 257h1v1h-1zM426 257h1v1h-1zM426 256h1v1h-1zM427 258h1v1h-1zM427 255h1v1h-1zM428 259h1v1h-1zM428 254h1v1h-1z" fill="#00ff00"/>
<path d="M432 258h1v1h-1zM432 263h1v1h-1zM433 259h1v1h-1zM433 262h1v1h-1zM434 260h1v1h-1zM434 261h1v1h-1zM435 261h1v1h-1zM435 260h1v1h-1zM436 262h1v1h-1zM436 259h1v1h-1zM437 263h1v1h-1zM437 258h1v1h-1z" fill="#00ff1e"/>
<path d="M439 256h1v1h-1zM439 261h1v1h-1zM440 257h1v1h-1zM440 260h1v1h-1zM441 258h1v1h-1zM441 259h1v1h-1zM442 259h1v1h-1zM442 258h1v1h-1zM443 260h1v1h-1zM443 257h1v1h-1zM444 261h1v1h-1zM444 256h1v1h-1z" fill="#00ff50"/>
<path d="M450 277h1v1h-1zM450 282h1v1h-1zM451 278h1v1h-1zM451 281h1v1h-1zM452 279h1v1h-1zM452 280h1v1h-1zM453 280h1v1h-1zM453 279h1v1h-1zM454 281h1v1h-1zM454 278h1v1h-1zM455 282h1v1h-1zM455 277h1v1h-1z" fill="#00ff37"/>
<path d="M393 258h1v1h-1zM393 263h1v1h-1zM394 259h1v1h-1zM394 262h1v1h-1zM395 260h1v1h-1zM395 261h1v1h-1zM396 261h1v1h-1zM396 260h1v1h-1zM397 262h1v1h-1zM397 259h1v1h-1zM398 263h1v1h-1zM398 258h1v1h-1z" fill="#00ff1e"/>
<path d="M399 258h1v1h-1zM399 263h1v1h-1zM400 259h1v1h-1zM400 262h1v1h-1zM401 260h1v1h-1zM401 261h1v1h-1zM402 261h1v1h-1zM402 260h1v1h-1zM403 262h1v1h-1zM403 259h1v1h-1zM404 263h1v1h-1zM404 258h1v1h-1z" fill="#00ff50"/>
<path d="M402 256h1v1h-1zM402 261h1v1h-1zM403 257h1v1h-1zM403 260h1v1h-1zM404 258h1v1h-1zM404 259h1v1h-1zM405 259h1v1h-1zM405 258h1v1h-1zM406 260h1v1h-1zM406 257h1v1h-1zM407 261h1v1h-1zM407 256h1v1h-1z" fill="#00ff00"/>
<path d="M389 280h1v1h-1zM389 285h1v1h-1zM390 281h1v1h-1zM390 284h1v1h-1zM391 282h1v1h-1zM391 283h1v1h-1zM392 283h1v1h-1zM392 282h1v1h-1zM393 284h1v1h-1zM393 281h1v1h-1zM394 285h1v1h-1zM394 280h1v1h-1z" fill="#00ff00"/>
<path d="M383 285h1v1h-1zM383 290h1v1h-1zM384 286h1v1h-1zM384 289h1v1h-1zM385 287h1v1h-1zM385 288h1v1h-1zM386 288h1v1h-1zM386 287h1v1h-1zM387 289h1v1h-1zM387 286h1v1h-1zM388 290h1v1h-1zM388 285h1v1h-1z" fill="#00ff50"/>
<path d="M416 262h1v1h-1zM416 267h1v1h-1zM417 263h1v1h-1zM417 266h1v1h-1zM418 264h1v1h-1zM418 265h1v1h-1zM419 265h1v1h-1zM419 264h1v1h-1zM420 266h1v1h-1zM420 263h1v1h-1zM421 267h1v1h-1zM421 262h1v1h-1z" fill="#00ff00"/>
<path d="M423 287h1v1h-1zM423 292h1v1h-1zM424 288h1v1h-1zM424 291h1v1h-1zM425 289h1v1h-1zM425 290h1v1h-1zM426 290h1v1h-1zM426 289h1v1h-1zM427 291h1v1h-1zM427 288h1v1h-1zM428 292h1v1h-1zM428 287h1v1h-1z" fill="#00ff00"/>
<path d="M393 270h1v3h-1zM394 271h1v1h-1z" fill="#00ff00"/>
<path d="M381 282h3v1h-3zM382 281h1v3h-1z" fill="#00ff1e"/>
<path d="M413 277h3v1h-3zM414 276h1v3h-1z" fill="#00ff00"/>
<path d="M424 275h3v1h-3zM425 274h1v3h-1z" fill="#00ff6e"/>
<path d="M425 264h3v1h-3zM426 263h1v3h-1z" fill="#00ff00"/>
<path d="M416 270h3v1h-3zM417 269h1v3h-1z" fill="#00ff00"/>
<path d="M424 261h3v1h-3zM425 260h1v3h-1z" fill="#82ff00"/>
<path d="M428 279h3v1h-3zM429 278h1v3h-1z" fill="#00ff1e"/>
<path d="M405 282h3v1h-3zM406 281h1v3h-1z" fill="#00ff1e"/>
<path d="M415 281h3v1h-3zM416 280h1v3h-1z" fill="#00ff50"/>
<path d="M406 291h3v1h-3zM407 290h1v3h-1z" fill="#00ff00"/>
<path d="M392 289h3v1h-3zM393 288h1v3h-1z" fill="#00ff1e"/>
<path d="M383 255h3v1h-3zM384 254h1v3h-1z" fill="#00ff37"/>
<path d="M410 256h3v1h-3zM411 255h1v3h-1z" fill="#00ff50"/>
<path d="M406 257h3v1h-3zM407 256h1v3h-1z" fill="#82ff00"/>
<path d="M400 256h3v1h-3zM401 255h1v3h-1z" fill="#00ff00"/>
<path d="M428 266h3v1h-3zM429 265h1v3h-1z" fill="#00ff1e"/>
<path d="M436 257h3v1h-3zM437 256h1v3h-1z" fill="#00ff1e"/>
<path d="M437 257h3v1h-3zM438 256h1v3h-1z" fill="#00ff6e"/>
<path d="M442 257h3v1h-3zM443 256h1v3h-1z" fill="#00ff6e"/>
<path d="M449 256h3v1h-3zM450 257h1v1h-1z" fill="#00ff6e"/>
<path d="M454 257h3v1h-3zM455 256h1v3h-1z" fill="#00ff00"/>
<path d="M460 256h3v1h-3zM461 255h1v3h-1z" fill="#00ff1e"/>
<path d="M462 258h3v1h-3zM463 257h1v3h-1z" fill="#00ff00"/>
<path d="M470 257h3v1h-3zM471 256h1v3h-1z" fill="#00ff00"/>
<path d="M476 257h3v1h-3zM477 256h1v3h-1z" fill="#00ff6e"/>
<path d="M433 259h3v1h-3zM434 258h1v3h-1z" fill="#00ff6e"/>
<path d="M448 259h3v1h-3zM449 258h1v3h-1z" fill="#00ff00"/>
<path d="M453 260h3v1h-3zM454 259h1v3h-1z" fill="#00ff50"/>
<path d="M457 259h3v1h-3zM458 258h1v3h-1z" fill="#00ff6e"/>
<path d="M464 259h3v1h-3zM465 258h1v3h-1z" fill="#00ff50"/>
<path d="M469 260h3v1h-3zM470 259h1v3h-1z" fill="#00ff00"/>
<path d="M430 263h3v1h-3zM431 262h1v3h-1z" fill="#00ff50"/>
<path d="M433 264h3v1h-3zM434 263h1v3h-1z" fill="#00ff37"/>
<path d="M436 263h3v1h-3zM437 262h1v3h-1z" fill="#00ff00"/>
<path d="M441 265h3v1h-3zM442 264h1v3h-1z" fill="#00ff6e"/>
<path d="M452 263h3v1h-3zM453 264h1v1h-1z" fill="#00ff37"/>
<path d="M457 263h3v1h-3zM458 262h1v3h-1z" fill="#00ff6e"/>
<path d="M467 264h3v1h-3zM468 263h1v3h-1z" fill="#00ff00"/>
<path d="M472 263h3v1h-3zM473 262h1v3h-1z" fill="#00ff37"/>
<path d="M478 264h3v1h-3zM479 263h1v3h-1z" fill="#82ff00"/>
<path d="M430 266h3v1h-3zM431 265h1v3h-1z" fill="#00ff37"/>
<path d="M434 267h3v1h-3zM435 266h1v3h-1z" fill="#00ff50"/>
<path d="M447 268h3v1h-3zM448 267h1v3h-1z" fill="#00ff37"/>
<path d="M449 270h3v1h-3zM450 269h1v3h-1z" fill="#00ff6e"/>
<path d="M456 266h3v1h-3zM457 265h1v3h-1z" fill="#00ff50"/>
<path d="M454 270h3v1h-3zM455 269h1v3h-1z" fill="#00ff1e"/>
<path d="M457 269h3v1h-3zM458 268h1v3h-1z" fill="#00ff00"/>
<path d="M462 267h3v1h-3zM463 266h1v3h-1z" fill="#00ff00"/>
<path d="M465 269h3v1h-3zM466 268h1v3h-1z" fill="#00ff1e"/>
<path d="M466 267h3v1h-3zM467 266h1v3h-1z" fill="#00ff00"/>
<path d="M468 269h3v1h-3zM469 268h1v3h-1z" fill="#00ff00"/>
<path d="M478 267h3v1h-3zM479 266h1v3h-1z" fill="#00ff6e"/>
<path d="M433 270h3v1h-3zM434 269h1v3h-1z" fill="#00ff37"/>
<path d="M429 272h3v1h-3zM430 271h1v3h-1z" fill="#00ff1e"/>
<path d="M441 271h3v1h-3zM442 272h1v1h-1z" fill="#82ff00"/>
<path d="M440 273h3v1h-3zM441 272h1v3h-1z" fill="#00ff00"/>
<path d="M451 273h3v1h-3zM452 274h1v1h-1z" fill="#00ff00"/>
<path d="M455 272h3v1h-3zM456 271h1v3h-1z" fill="#00ff00"/>
<path d="M465 272h3v1h-3zM466 271h1v3h-1z" fill="#00ff00"/>
<path d="M469 272h3v1h-3zM470 271h1v3h-1z" fill="#00ff1e"/>
<path d="M476 272h3v1h-3zM477 271h1v3h-1z" fill="#00ff37"/>
<path d="M436 275h3v1h-3zM437 274h1v3h-1z" fill="#00ff00"/>
<path d="M439 277h3v1h-3zM440 276h1v3h-1z" fill="#00ff00"/>
<path d="M441 277h3v1h-3zM442 276h1v3h-1z" fill="#00ff00"/>
<path d="M446 276h3v1h-3zM447 275h1v3h-1z" fill="#00ff37"/>
<path d="M448 276h3v1h-3zM449 275h1v3h-1z" fill="#00ff50"/>
<path d="M450 277h3v1h-3zM451 276h1v3h-1z" fill="#00ff6e"/>
<path d="M454 277h3v1h-3zM455 276h1v3h-1z" fill="#00ff1e"/>
<path d="M456 277h3v1h-3zM457 276h1v3h-1z" fill="#00ff50"/>
<path d="M461 278h3v1h-3zM462 277h1v3h-1z" fill="#00ff00"/>
<path d="M463 276h3v1h-3zM464 275h1v3h-1z" fill="#00ff6e"/>
<path d="M473 277h3v1h-3zM474 276h1v3h-1z" fill="#00ff1e"/>
<path d="M438 279h3v1h-3zM439 278h1v3h-1z" fill="#00ff00"/>
<path d="M431 280h3v1h-3zM432 279h1v3h-1z" fill="#00ff37"/>
<path d="M441 282h3v1h-3zM442 281h1v3h-1z" fill="#00ff00"/>
<path d="M444 280h3v1h-3zM445 281h1v1h-1z" fill="#00ff00"/>
<path d="M451 280h3v1h-3zM452 279h1v3h-1z" fill="#00ff6e"/>
<path d="M453 281h3v1h-3zM454 280h1v3h-1z" fill="#00ff6e"/>
<path d="M456 283h3v1h-3zM457 282h1v3h-1z" fill="#00ff6e"/>
<path d="M459 281h3v1h-3zM460 280h1v3h-1z" fill="#00ff1e"/>
<path d="M466 280h1v3h-1zM465 281h1v1h-1z" fill="#00ff37"/>
<path d="M477 280h3v1h-3zM478 281h1v1h-1z" fill="#00ff00"/>
<path d="M468 284h3v1h-3zM469 283h1v3h-1z" fill="#00ff1e"/>
<path d="M432 283h3v1h-3zM433 282h1v3h-1z" fill="#00ff1e"/>
<path d="M438 284h3v1h-3zM439 283h1v3h-1z" fill="#00ff1e"/>
<path d="M444 284h3v1h-3zM445 283h1v3h-1z" fill="#00ff50"/>
<path d="M447 284h3v1h-3zM448 283h1v3h-1z" fill="#00ff1e"/>
<path d="M450 282h3v1h-3zM451 281h1v3h-1z" fill="#00ff00"/>
<path d="M435 285h3v1h-3zM436 286h1v1h-1z" fill="#00ff00"/>
<path d="M448 286h3v1h-3zM449 285h1v3h-1z" fill="#00ff6e"/>
<path d="M455 288h3v1h-3zM456 287h1v1h-1z" fill="#00ff1e"/>
<path d="M457 288h3v1h-3zM458 287h1v3h-1z" fill="#00ff6e"/>
<path d="M461 286h1v3h-1zM462 287h1v1h-1z" fill="#00ff00"/>
<path d="M467 285h3v1h-3zM468 286h1v1h-1z" fill="#00ff1e"/>
<path d="M439 290h3v1h-3zM440 289h1v3h-1z" fill="#00ff00"/>
<path d="M444 289h3v1h-3zM445 288h1v3h-1z" fill="#00ff00"/>
<path d="M429 289h3v1h-3zM430 288h1v3h-1z" fill="#00ff1e"/>
<path d="M383 297h1v1h-1zM383 302h1v1h-1zM384 298h1v1h-1zM384 301h1v1h-1zM385 299h1v1h-1zM385 300h1v1h-1zM386 300h1v1h-1zM386 299h1v1h-1zM387 301h1v1h-1zM387 298h1v1h-1zM388 302h1v1h-1zM388 297h1v1h-1z" fill="#00ff37"/>
<path d="M393 298h1v1h-1zM393 303h1v1h-1zM394 299h1v1h-1zM394 302h1v1h-1zM395 300h1v1h-1zM395 301h1v1h-1zM396 301h1v1h-1zM396 300h1v1h-1zM397 302h1v1h-1zM397 299h1v1h-1zM398 303h1v1h-1zM398 298h1v1h-1z" fill="#00ff00"/>
<path d="M401 297h1v1h-1zM401 302h1v1h-1zM402 298h1v1h-1zM402 301h1v1h-1zM403 299h1v1h-1zM403 300h1v1h-1zM404 300h1v1h-1zM404 299h1v1h-1zM405 301h1v1h-1zM405 298h1v1h-1zM406 302h1v1h-1zM406 297h1v1h-1z" fill="#00ff6e"/>
<path d="M392 301h1v1h-1zM392 306h1v1h-1zM393 302h1v1h-1zM393 305h1v1h-1zM394 303h1v1h-1zM394 304h1v1h-1zM395 304h1v1h-1zM395 303h1v1h-1zM396 305h1v1h-1zM396 302h1v1h-1zM397 306h1v1h-1zM397 301h1v1h-1z" fill="#00ff37"/>
<path d="M402 301h1v1h-1zM402 306h1v1h-1zM403 302h1v1h-1zM403 305h1v1h-1zM404 303h1v1h-1zM404 304h1v1h-1zM405 304h1v1h-1zM405 303h1v1h-1zM406 305h1v1h-1zM406 302h1v1h-1zM407 306h1v1h-1zM407 301h1v1h-1z" fill="#00ff1e"/>
<path d="M389 306h1v1h-1zM389 311h1v1h-1zM390 307h1v1h-1zM390 310h1v1h-1zM391 308h1v1h-1zM391 309h1v1h-1zM392 309h1v1h-1zM392 308h1v1h-1zM393 310h1v1h-1zM393 307h1v1h-1zM394 311h1v1h-1zM394 306h1v1h-1z" fill="#00ff6e"/>
<path d="M394 308h1v1h-1zM394 313h1v1h-1zM395 309h1v1h-1zM395 312h1v1h-1zM396 310h1v1h-1zM396 311h1v1h-1zM397 311h1v1h-1zM397 310h1v1h-1zM398 312h1v1h-1zM398 309h1v1h-1zM399 313h1v1h-1zM399 308h1v1h-1z" fill="#00ff50"/>
<path d="M385 310h1v1h-1zM385 315h1v1h-1zM386 311h1v1h-1zM386 314h1v1h-1zM387 312h1v1h-1zM387 313h1v1h-1zM388 313h1v1h-1zM388 312h1v1h-1zM389 314h1v1h-1zM389 311h1v1h-1zM390 315h1v1h-1zM390 310h1v1h-1z" fill="#00ff00"/>
<path d="M381 313h1v1h-1zM381 318h1v1h-1zM382 314h1v1h-1zM382 317h1v1h-1zM383 315h1v1h-1zM383 316h1v1h-1zM384 316h1v1h-1zM384 315h1v1h-1zM385 317h1v1h-1zM385 314h1v1h-1zM386 318h1v1h-1zM386 313h1v1h-1z" fill="#00ff00"/>
<path d="M388 314h1v1h-1zM388 319h1v1h-1zM389 315h1v1h-1zM389 318h1v1h-1zM390 316h1v1h-1zM390 317h1v1h-1zM391 317h1v1h-1zM391 316h1v1h-1zM392 318h1v1h-1zM392 315h1v1h-1zM393 319h1v1h-1zM393 314h1v1h-1z" fill="#00ff50"/>
<path d="M393 313h1v1h-1zM393 318h1v1h-1zM394 314h1v1h-1zM394 317h1v1h-1zM395 315h1v1h-1zM395 316h1v1h-1zM396 316h1v1h-1zM396 315h1v1h-1zM397 317h1v1h-1zM397 314h1v1h-1zM398 318h1v1h-1zM398 313h1v1h-1z" fill="#00ff00"/>
<path d="M396 315h1v1h-1zM396 320h1v1h-1zM397 316h1v1h-1zM397 319h1v1h-1zM398 317h1v1h-1zM398 318h1v1h-1zM399 318h1v1h-1zM399 317h1v1h-1zM400 319h1v1h-1zM400 316h1v1h-1zM401 320h1v1h-1zM401 315h1v1h-1z" fill="#00ff00"/>
<path d="M383 317h1v1h-1zM383 322h1v1h-1zM384 318h1v1h-1zM384 321h1v1h-1zM385 319h1v1h-1zM385 320h1v1h-1zM386 320h1v1h-1zM386 319h1v1h-1zM387 321h1v1h-1zM387 318h1v1h-1zM388 322h1v1h-1zM388 317h1v1h-1z" fill="#00ff1e"/>
<path d="M389 318h1v1h-1zM389 323h1v1h-1zM390 319h1v1h-1zM390 322h1v1h-1zM391 320h1v1h-1zM391 321h1v1h-1zM392 321h1v1h-1zM392 320h1v1h-1zM393 322h1v1h-1zM393 319h1v1h-1zM394 323h1v1h-1zM394 318h1v1h-1z" fill="#00ff00"/>
<path d="M393 320h1v1h-1zM393 325h1v1h-1zM394 321h1v1h-1zM394 324h1v1h-1zM395 322h1v1h-1zM395 323h1v1h-1zM396 323h1v1h-1zM396 322h1v1h-1zM397 324h1v1h-1zM397 321h1v1h-1zM398 325h1v1h-1zM398 320h1v1h-1z" fill="#00ff00"/>
<path d="M381 321h1v1h-1zM381 326h1v1h-1zM382 322h1v1h-1zM382 325h1v1h-1zM383 323h1v1h-1zM383 324h1v1h-1zM384 324h1v1h-1zM384 323h1v1h-1zM385 325h1v1h-1zM385 322h1v1h-1zM386 326h1v1h-1zM386 321h1v1h-1z" fill="#00ff37"/>
<path d="M398 310h1v1h-1zM398 315h1v1h-1zM399 311h1v1h-1zM399 314h1v1h-1zM400 312h1v1h-1zM400 313h1v1h-1zM401 313h1v1h-1zM401 312h1v1h-1zM402 314h1v1h-1zM402 311h1v1h-1zM403 315h1v1h-1zM403 310h1v1h-1z" fill="#00ff50"/>
<path d="M412 301h1v1h-1zM412 306h1v1h-1zM413 302h1v1h-1zM413 305h1v1h-1zM414 303h1v1h-1zM414 304h1v1h-1zM415 304h1v1h-1zM415 303h1v1h-1zM416 305h1v1h-1zM416 302h1v1h-1zM417 306h1v1h-1zM417 301h1v1h-1z" fill="#00ff00"/>
<path d="M415 305h1v1h-1zM415 310h1v1h-1zM416 306h1v1h-1zM416 309h1v1h-1zM417 307h1v1h-1zM417 308h1v1h-1zM418 308h1v1h-1zM418 307h1v1h-1zM419 309h1v1h-1zM419 306h1v1h-1zM420 310h1v1h-1zM420 305h1v1h-1z" fill="#00ff37"/>
<path d="M423 309h1v1h-1zM423 314h1v1h-1zM424 310h1v1h-1zM424 313h1v1h-1zM425 311h1v1h-1zM425 312h1v1h-1zM426 312h1v1h-1zM426 311h1v1h-1zM427 313h1v1h-1zM427 310h1v1h-1zM428 314h1v1h-1zM428 309h1v1h-1z" fill="#00ff6e"/>
<path d="M417 311h1v1h-1zM417 316h1v1h-1zM418 312h1v1h-1zM418 315h1v1h-1zM419 313h1v1h-1zM419 314h1v1h-1zM420 314h1v1h-1zM420 313h1v1h-1zM421 315h1v1h-1zM421 312h1v1h-1zM422 316h1v1h-1zM422 311h1v1h-1z" fill="#00ff00"/>
<path d="M406 311h1v1h-1zM406 316h1v1h-1zM407 312h1v1h-1zM407 315h1v1h-1zM408 313h1v1h-1zM408 314h1v1h-1zM409 314h1v1h-1zM409 313h1v1h-1zM410 315h1v1h-1zM410 312h1v1h-1zM411 316h1v1h-1zM411 311h1v1h-1z" fill="#00ff1e"/>
<path d="M411 318h1v1h-1zM411 323h1v1h-1zM412 319h1v1h-1zM412 322h1v1h-1zM413 320h1v1h-1zM413 321h1v1h-1zM414 321h1v1h-1zM414 320h1v1h-1zM415 322h1v1h-1zM415 319h1v1h-1zM416 323h1v1h-1zM416 318h1v1h-1z" fill="#00ff1e"/>
<path d="M416 318h1v1h-1zM416 323h1v1h-1zM417 319h1v1h-1zM417 322h1v1h-1zM418 320h1v1h-1zM418 321h1v1h-1zM419 321h1v1h-1zM419 320h1v1h-1zM420 322h1v1h-1zM420 319h1v1h-1zM421 323h1v1h-1zM421 318h1v1h-1z" fill="#00ff00"/>
<path d="M420 321h1v1h-1zM420 326h1v1h-1zM421 322h1v1h-1zM421 325h1v1h-1zM422 323h1v1h-1zM422 324h1v1h-1zM423 324h1v1h-1zM423 323h1v1h-1zM424 325h1v1h-1zM424 322h1v1h-1zM425 326h1v1h-1zM425 321h1v1h-1z" fill="#00ff00"/>
<path d="M412 323h1v1h-1zM412 328h1v1h-1zM413 324h1v1h-1zM413 327h1v1h-1zM414 325h1v1h-1zM414 326h1v1h-1zM415 326h1v1h-1zM415 325h1v1h-1zM416 327h1v1h-1zM416 324h1v1h-1zM417 328h1v1h-1zM417 323h1v1h-1z" fill="#00ff50"/>
<path d="M399 324h1v1h-1zM399 329h1v1h-1zM400 325h1v1h-1zM400 328h1v1h-1zM401 326h1v1h-1zM401 327h1v1h-1zM402 327h1v1h-1zM402 326h1v1h-1zM403 328h1v1h-1zM403 325h1v1h-1zM404 329h1v1h-1zM404 324h1v1h-1z" fill="#00ff50"/>
<path d="M424 299h1v1h-1zM424 304h1v1h-1zM425 300h1v1h-1zM425 303h1v1h-1zM426 301h1v1h-1zM426 302h1v1h-1zM427 302h1v1h-1zM427 301h1v1h-1zM428 303h1v1h-1zM428 300h1v1h-1zM429 304h1v1h-1zM429 299h1v1h-1z" fill="#00ff00"/>
<path d="M420 315h1v1h-1zM420 320h1v1h-1zM421 316h1v1h-1zM421 319h1v1h-1zM422 317h1v1h-1zM422 318h1v1h-1zM423 318h1v1h-1zM423 317h1v1h-1zM424 319h1v1h-1zM424 316h1v1h-1zM425 320h1v1h-1zM425 315h1v1h-1z" fill="#00ff50"/>
<path d="M395 304h1v1h-1zM395 309h1v1h-1zM396 305h1v1h-1zM396 308h1v1h-1zM397 306h1v1h-1zM397 307h1v1h-1zM398 307h1v1h-1zM398 306h1v1h-1zM399 308h1v1h-1zM399 305h1v1h-1zM400 309h1v1h-1zM400 304h1v1h-1z" fill="#00ff37"/>
<path d="M386 303h1v1h-1zM386 308h1v1h-1zM387 304h1v1h-1zM387 307h1v1h-1zM388 305h1v1h-1zM388 306h1v1h-1zM389 306h1v1h-1zM389 305h1v1h-1zM390 307h1v1h-1zM390 304h1v1h-1zM391 308h1v1h-1zM391 303h1v1h-1z" fill="#00ff1e"/>
<path d="M398 305h1v1h-1zM398 310h1v1h-1zM399 306h1v1h-1zM399 309h1v1h-1zM400 307h1v1h-1zM400 308h1v1h-1zM401 308h1v1h-1zM401 307h1v1h-1zM402 309h1v1h-1zM402 306h1v1h-1zM403 310h1v1h-1zM403 305h1v1h-1z" fill="#00ff37"/>
<path d="M425 308h3v1h-3zM426 307h1v3h-1z" fill="#82ff00"/>
<path d="M427 319h3v1h-3zM428 318h1v3h-1z" fill="#82ff00"/>
<path d="M413 299h3v1h-3zM414 298h1v3h-1z" fill="#00ff00"/>
<path d="M407 294h3v1h-3zM408 293h1v3h-1z" fill="#00ff1e"/>
<path d="M424 301h3v1h-3zM425 300h1v3h-1z" fill="#00ff50"/>
<path d="M413 303h3v1h-3zM414 302h1v3h-1z" fill="#00ff00"/>
<path d="M421 306h3v1h-3zM422 305h1v3h-1z" fill="#00ff00"/>
<path d="M408 319h3v1h-3zM409 318h1v3h-1z" fill="#00ff50"/>
<path d="M411 319h3v1h-3zM412 318h1v3h-1z" fill="#00ff37"/>
<path d="M413 318h3v1h-3zM414 317h1v3h-1z" fill="#00ff50"/>
<path d="M420 326h3v1h-3zM421 325h1v3h-1z" fill="#00ff00"/>
<path d="M406 303h3v1h-3zM407 302h1v3h-1z" fill="#00ff50"/>
<path d="M381 317h3v1h-3zM382 316h1v3h-1z" fill="#82ff00"/>
<path d="M431 294h3v1h-3zM432 293h1v3h-1z" fill="#00ff50"/>
<path d="M435 295h3v1h-3zM436 294h1v3h-1z" fill="#00ff50"/>
<path d="M438 294h3v1h-3zM439 293h1v3h-1z" fill="#00ff00"/>
<path d="M440 296h3v1h-3zM441 295h1v3h-1z" fill="#00ff50"/>
<path d="M443 296h3v1h-3zM444 295h1v3h-1z" fill="#00ff00"/>
<path d="M447 296h3v1h-3zM448 295h1v3h-1z" fill="#00ff00"/>
<path d="M450 295h3v1h-3zM451 294h1v3h-1z" fill="#00ff00"/>
<path d="M453 293h3v1h-3zM454 292h1v3h-1z" fill="#00ff00"/>
<path d="M457 293h3v1h-3zM458 292h1v3h-1z" fill="#00ff00"/>
<path d="M467 294h3v1h-3zM468 293h1v3h-1z" fill="#00ff1e"/>
<path d="M475 292h3v1h-3zM476 291h1v3h-1z" fill="#00ff00"/>
<path d="M466 298h3v1h-3zM467 297h1v3h-1z" fill="#00ff37"/>
<path d="M459 300h3v1h-3zM460 299h1v3h-1z" fill="#00ff37"/>
<path d="M474 306h3v1h-3zM475 305h1v3h-1z" fill="#00ff6e"/>
<path d="M432 300h1v1h-1zM432 305h1v1h-1zM433 301h1v1h-1zM433 304h1v1h-1zM434 302h1v1h-1zM434 303h1v1h-1zM435 303h1v1h-1zM435 302h1v1h-1zM436 304h1v1h-1zM436 301h1v1h-1zM437 305h1v1h-1zM437 300h1v1h-1z" fill="#00ff50"/>
<path d="M444 304h3v1h-3zM445 303h1v3h-1z" fill="#00ff00"/>
<path d="M442 306h3v1h-3zM443 305h1v3h-1z" fill="#00ff00"/>
<path d="M438 307h3v1h-3zM439 306h1v3h-1z" fill="#00ff50"/>
<path d="M455 301h1v3h-1zM454 302h1v1h-1z" fill="#00ff6e"/>
<path d="M455 304h1v3h-1zM454 305h1v1h-1z" fill="#00ff6e"/>
<path d="M430 304h3v1h-3zM431 303h1v3h-1z" fill="#82ff00"/>
<path d="M432 307h1v1h-1zM432 312h1v1h-1zM433 308h1v1h-1zM433 311h1v1h-1zM434 309h1v1h-1zM434 310h1v1h-1zM435 310h1v1h-1zM435 309h1v1h-1zM436 311h1v1h-1zM436 308h1v1h-1zM437 312h1v1h-1zM437 307h1v1h-1z" fill="#00ff00"/>
<path d="M447 309h3v1h-3zM448 308h1v3h-1z" fill="#00ff37"/>
<path d="M444 309h1v1h-1zM444 314h1v1h-1zM445 310h1v1h-1zM445 313h1v1h-1zM446 311h1v1h-1zM446 312h1v1h-1zM447 312h1v1h-1zM447 311h1v1h-1zM448 313h1v1h-1zM448 310h1v1h-1zM449 314h1v1h-1zM449 309h1v1h-1z" fill="#00ff1e"/>
<path d="M435 313h3v1h-3zM436 312h1v3h-1z" fill="#00ff00"/>
<path d="M430 311h3v1h-3zM431 310h1v3h-1z" fill="#00ff37"/>
<path d="M452 313h1v1h-1zM452 318h1v1h-1zM453 314h1v1h-1zM453 317h1v1h-1zM454 315h1v1h-1zM454 316h1v1h-1zM455 316h1v1h-1zM455 315h1v1h-1zM456 317h1v1h-1zM456 314h1v1h-1zM457 318h1v1h-1zM457 313h1v1h-1z" fill="#00ff00"/>
<path d="M439 319h3v1h-3zM440 318h1v3h-1z" fill="#00ff50"/>
<path d="M441 317h1v3h-1zM442 318h1v1h-1z" fill="#00ff50"/>
<path d="M433 321h3v1h-3zM434 320h1v3h-1z" fill="#00ff6e"/>
<path d="M445 319h1v1h-1zM445 324h1v1h-1zM446 320h1v1h-1zM446 323h1v1h-1zM447 321h1v1h-1zM447 322h1v1h-1zM448 322h1v1h-1zM448 321h1v1h-1zM449 323h1v1h-1zM449 320h1v1h-1zM450 324h1v1h-1zM450 319h1v1h-1z" fill="#00ff00"/>
<path d="M450 323h3v1h-3zM451 322h1v3h-1z" fill="#00ff50"/>
<path d="M456 321h3v1h-3zM457 320h1v3h-1z" fill="#00ff00"/>
<path d="M456 325h3v1h-3zM457 324h1v3h-1z" fill="#00ff37"/>
<path d="M444 324h3v1h-3zM445 323h1v3h-1z" fill="#00ff1e"/>
<path d="M438 327h3v1h-3zM439 326h1v3h-1z" fill="#00ff00"/>
<path d="M441 326h3v1h-3zM442 325h1v3h-1z" fill="#00ff6e"/>
<path d="M447 326h3v1h-3zM448 325h1v3h-1z" fill="#00ff1e"/>
<path d="M461 327h3v1h-3zM462 326h1v3h-1z" fill="#82ff00"/>
<path d="M475 328h3v1h-3zM476 327h1v3h-1z" fill="#00ff00"/>
<path d="M384 328h1v1h-1zM384 333h1v1h-1zM385 329h1v1h-1zM385 332h1v1h-1zM386 330h1v1h-1zM386 331h1v1h-1zM387 331h1v1h-1zM387 330h1v1h-1zM388 332h1v1h-1zM388 329h1v1h-1zM389 333h1v1h-1zM389 328h1v1h-1z" fill="#00ff00"/>
<path d="M388 330h1v1h-1zM388 335h1v1h-1zM389 331h1v1h-1zM389 334h1v1h-1zM390 332h1v1h-1zM390 333h1v1h-1zM391 333h1v1h-1zM391 332h1v1h-1zM392 334h1v1h-1zM392 331h1v1h-1zM393 335h1v1h-1zM393 330h1v1h-1z" fill="#00ff00"/>
<path d="M391 331h1v1h-1zM391 336h1v1h-1zM392 332h1v1h-1zM392 335h1v1h-1zM393 333h1v1h-1zM393 334h1v1h-1zM394 334h1v1h-1zM394 333h1v1h-1zM395 335h1v1h-1zM395 332h1v1h-1zM396 336h1v1h-1zM396 331h1v1h-1z" fill="#82ff00"/>
<path d="M398 330h1v1h-1zM398 335h1v1h-1zM399 331h1v1h-1zM399 334h1v1h-1zM400 332h1v1h-1zM400 333h1v1h-1zM401 333h1v1h-1zM401 332h1v1h-1zM402 334h1v1h-1zM402 331h1v1h-1zM403 335h1v1h-1zM403 330h1v1h-1z" fill="#00ff37"/>
<path d="M384 335h1v1h-1zM384 340h1v1h-1zM385 336h1v1h-1zM385 339h1v1h-1zM386 337h1v1h-1zM386 338h1v1h-1zM387 338h1v1h-1zM387 337h1v1h-1zM388 339h1v1h-1zM388 336h1v1h-1zM389 340h1v1h-1zM389 335h1v1h-1z" fill="#00ff37"/>
<path d="M391 337h1v1h-1zM391 342h1v1h-1zM392 338h1v1h-1zM392 341h1v1h-1zM393 339h1v1h-1zM393 340h1v1h-1zM394 340h1v1h-1zM394 339h1v1h-1zM395 341h1v1h-1zM395 338h1v1h-1zM396 342h1v1h-1zM396 337h1v1h-1z" fill="#00ff37"/>
<path d="M385 353h1v1h-1zM385 358h1v1h-1zM386 354h1v1h-1zM386 357h1v1h-1zM387 355h1v1h-1zM387 356h1v1h-1zM388 356h1v1h-1zM388 355h1v1h-1zM389 357h1v1h-1zM389 354h1v1h-1zM390 358h1v1h-1zM390 353h1v1h-1z" fill="#00ff00"/>
<path d="M416 337h1v1h-1zM416 342h1v1h-1zM417 338h1v1h-1zM417 341h1v1h-1zM418 339h1v1h-1zM418 340h1v1h-1zM419 340h1v1h-1zM419 339h1v1h-1zM420 341h1v1h-1zM420 338h1v1h-1zM421 342h1v1h-1zM421 337h1v1h-1z" fill="#00ff37"/>
<path d="M423 335h1v1h-1zM423 340h1v1h-1zM424 336h1v1h-1zM424 339h1v1h-1zM425 337h1v1h-1zM425 338h1v1h-1zM426 338h1v1h-1zM426 337h1v1h-1zM427 339h1v1h-1zM427 336h1v1h-1zM428 340h1v1h-1zM428 335h1v1h-1z" fill="#00ff1e"/>
<path d="M395 344h3v1h-3zM396 343h1v3h-1z" fill="#00ff00"/>
<path d="M373 305h1v1h-1zM373 310h1v1h-1zM374 306h1v1h-1zM374 309h1v1h-1zM375 307h1v1h-1zM375 308h1v1h-1zM376 308h1v1h-1zM376 307h1v1h-1zM377 309h1v1h-1zM377 306h1v1h-1zM378 310h1v1h-1zM378 305h1v1h-1z" fill="#00ff50"/>
<path d="M371 316h1v1h-1zM371 321h1v1h-1zM372 317h1v1h-1zM372 320h1v1h-1zM373 318h1v1h-1zM373 319h1v1h-1zM374 319h1v1h-1zM374 318h1v1h-1zM375 320h1v1h-1zM375 317h1v1h-1zM376 321h1v1h-1zM376 316h1v1h-1z" fill="#00ff00"/>
<path d="M372 296h1v1h-1zM372 301h1v1h-1zM373 297h1v1h-1zM373 300h1v1h-1zM374 298h1v1h-1zM374 299h1v1h-1zM375 299h1v1h-1zM375 298h1v1h-1zM376 300h1v1h-1zM376 297h1v1h-1zM377 301h1v1h-1zM377 296h1v1h-1z" fill="#00ff00"/>
<path d="M330 325h3v1h-3zM331 324h1v3h-1z" fill="#82ff00"/>
<path d="M334 324h1v3h-1zM335 325h1v1h-1z" fill="#82ff00"/>
<path d="M340 325h1v3h-1zM339 326h1v1h-1z" fill="#00ff50"/>
<path d="M344 324h3v1h-3zM345 323h1v3h-1z" fill="#00ff00"/>
<path d="M362 293h3v1h-3zM363 292h1v3h-1z" fill="#00ff1e"/>
<path d="M365 314h3v1h-3zM366 313h1v3h-1z" fill="#00ff1e"/>
<path d="M340 328h1v1h-1zM340 333h1v1h-1zM341 329h1v1h-1zM341 332h1v1h-1zM342 330h1v1h-1zM342 331h1v1h-1zM343 331h1v1h-1zM343 330h1v1h-1zM344 332h1v1h-1zM344 329h1v1h-1zM345 333h1v1h-1zM345 328h1v1h-1z" fill="#00ff1e"/>
<path d="M346 329h1v1h-1zM346 334h1v1h-1zM347 330h1v1h-1zM347 333h1v1h-1zM348 331h1v1h-1zM348 332h1v1h-1zM349 332h1v1h-1zM349 331h1v1h-1zM350 333h1v1h-1zM350 330h1v1h-1zM351 334h1v1h-1zM351 329h1v1h-1z" fill="#00ff50"/>
<path d="M354 330h1v1h-1zM354 335h1v1h-1zM355 331h1v1h-1zM355 334h1v1h-1zM356 332h1v1h-1zM356 333h1v1h-1zM357 333h1v1h-1zM357 332h1v1h-1zM358 334h1v1h-1zM358 331h1v1h-1zM359 335h1v1h-1zM359 330h1v1h-1z" fill="#00ff50"/>
<path d="M348 341h1v1h-1zM348 346h1v1h-1zM349 342h1v1h-1zM349 345h1v1h-1zM350 343h1v1h-1zM350 344h1v1h-1zM351 344h1v1h-1zM351 343h1v1h-1zM352 345h1v1h-1zM352 342h1v1h-1zM353 346h1v1h-1zM353 341h1v1h-1z" fill="#00ff00"/>
<path d="M375 352h1v1h-1zM375 357h1v1h-1zM376 353h1v1h-1zM376 356h1v1h-1zM377 354h1v1h-1zM377 355h1v1h-1zM378 355h1v1h-1zM378 354h1v1h-1zM379 356h1v1h-1zM379 353h1v1h-1zM380 357h1v1h-1zM380 352h1v1h-1z" fill="#00ff6e"/>
<path d="M364 332h1v1h-1zM364 337h1v1h-1zM365 333h1v1h-1zM365 336h1v1h-1zM366 334h1v1h-1zM366 335h1v1h-1zM367 335h1v1h-1zM367 334h1v1h-1zM368 336h1v1h-1zM368 333h1v1h-1zM369 337h1v1h-1zM369 332h1v1h-1z" fill="#00ff00"/>
<path d="M376 334h1v1h-1zM376 339h1v1h-1zM377 335h1v1h-1zM377 338h1v1h-1zM378 336h1v1h-1zM378 337h1v1h-1zM379 337h1v1h-1zM379 336h1v1h-1zM380 338h1v1h-1zM380 335h1v1h-1zM381 339h1v1h-1zM381 334h1v1h-1z" fill="#00ff37"/>
<path d="M368 334h1v1h-1zM368 339h1v1h-1zM369 335h1v1h-1zM369 338h1v1h-1zM370 336h1v1h-1zM370 337h1v1h-1zM371 337h1v1h-1zM371 336h1v1h-1zM372 338h1v1h-1zM372 335h1v1h-1zM373 339h1v1h-1zM373 334h1v1h-1z" fill="#00ff00"/>
<path d="M362 328h1v1h-1zM362 333h1v1h-1zM363 329h1v1h-1zM363 332h1v1h-1zM364 330h1v1h-1zM364 331h1v1h-1zM365 331h1v1h-1zM365 330h1v1h-1zM366 332h1v1h-1zM366 329h1v1h-1zM367 333h1v1h-1zM367 328h1v1h-1z" fill="#00ff37"/>
<path d="M369 345h3v1h-3zM370 344h1v3h-1z" fill="#82ff00"/>
<path d="M372 342h3v1h-3zM373 341h1v3h-1z" fill="#82ff00"/>
<path d="M374 351h3v1h-3zM375 350h1v3h-1z" fill="#00ff1e"/>
<path d="M333 365h3v1h-3zM334 364h1v3h-1z" fill="#00ff00"/>
<path d="M330 365h3v1h-3zM331 364h1v3h-1z" fill="#00ff00"/>
<path d="M378 363h3v1h-3zM379 362h1v3h-1z" fill="#00ff37"/>
<path d="M356 335h3v1h-3zM357 334h1v3h-1z" fill="#00ff6e"/>
<path d="M353 340h3v1h-3zM354 339h1v1h-1z" fill="#00ff1e"/>
<path d="M350 335h3v1h-3zM351 334h1v3h-1z" fill="#00ff50"/>
<path d="M346 335h3v1h-3zM347 334h1v3h-1z" fill="#00ff1e"/>
<path d="M360 332h3v1h-3zM361 331h1v3h-1z" fill="#00ff37"/>
<path d="M362 335h3v1h-3zM363 334h1v3h-1z" fill="#00ff37"/>
<path d="M365 338h3v1h-3zM366 337h1v3h-1z" fill="#00ff37"/>
<path d="M373 338h3v1h-3zM374 337h1v3h-1z" fill="#00ff00"/>
<path d="M375 333h3v1h-3zM376 332h1v3h-1z" fill="#00ff50"/>
<path d="M367 340h3v1h-3zM368 339h1v3h-1z" fill="#00ff00"/>
<path d="M370 340h3v1h-3zM371 339h1v3h-1z" fill="#00ff1e"/>
<path d="M374 340h3v1h-3zM375 339h1v3h-1z" fill="#00ff00"/>
<path d="M359 337h3v1h-3zM360 336h1v3h-1z" fill="#00ff37"/>
<path d="M363 259h3v1h-3zM364 258h1v3h-1z" fill="#00ff6e"/>
<path d="M370 257h3v1h-3zM371 256h1v3h-1z" fill="#00ff00"/>
<path d="M359 274h1v3h-1zM360 275h1v1h-1z" fill="#00ff1e"/>
<path d="M377 290h3v1h-3zM378 289h1v3h-1z" fill="#00ff37"/>
<path d="M378 264h3v1h-3zM379 263h1v3h-1z" fill="#00ff00"/>
<path d="M178 60h1v1h-1zM178 65h1v1h-1zM179 61h1v1h-1zM179 64h1v1h-1zM180 62h1v1h-1zM180 63h1v1h-1zM181 63h1v1h-1zM181 62h1v1h-1zM182 64h1v1h-1zM182 61h1v1h-1zM183 65h1v1h-1zM183 60h1v1h-1z" fill="#ff0000"/>
<path d="M164 88h1v3h-1zM165 89h1v1h-1z" fill="#ff0000"/>
<path d="M240 92h1v1h-1zM240 97h1v1h-1zM241 93h1v1h-1zM241 96h1v1h-1zM242 94h1v1h-1zM242 95h1v1h-1zM243 95h1v1h-1zM243 94h1v1h-1zM244 96h1v1h-1zM244 93h1v1h-1zM245 97h1v1h-1zM245 92h1v1h-1z" fill="#ff0000"/>
<path d="M282 103h3v1h-3zM283 104h1v1h-1z" fill="#000000"/>
<path d="M360 162h3v1h-3zM361 163h1v1h-1z" fill="#00ffb4"/>
<path d="M352 176h1v3h-1zM353 177h1v1h-1z" fill="#00ffb4"/>
<path d="M310 200h3v1h-3zM311 199h1v1h-1z" fill="#ff0000"/>
<path d="M330 197h1v1h-1zM330 202h1v1h-1zM331 198h1v1h-1zM331 201h1v1h-1zM332 199h1v1h-1zM332 200h1v1h-1zM333 200h1v1h-1zM333 199h1v1h-1zM334 201h1v1h-1zM334 198h1v1h-1zM335 202h1v1h-1zM335 197h1v1h-1z" fill="#ff0000"/>
<path d="M339 193h1v1h-1zM339 198h1v1h-1zM340 194h1v1h-1zM340 197h1v1h-1zM341 195h1v1h-1zM341 196h1v1h-1zM342 196h1v1h-1zM342 195h1v1h-1zM343 197h1v1h-1zM343 194h1v1h-1zM344 198h1v1h-1zM344 193h1v1h-1z" fill="#ff0000"/>
<path d="M465 174h3v1h-3zM466 173h1v3h-1z" fill="#ffff00"/>
<path d="M467 205h3v1h-3zM468 204h1v3h-1z" fill="#00ffff"/>
<path d="M417 208h3v1h-3zM418 209h1v1h-1z" fill="#ffff00"/>
<path d="M594 152h1v3h-1zM595 153h1v1h-1z" fill="#00ffff"/>
<path d="M589 192h3v1h-3zM590 193h1v1h-1z" fill="#00ffb4"/>
<path d="M532 203h1v3h-1zM531 204h1v1h-1z" fill="#00ffff"/>
<path d="M520 186h3v1h-3zM521 185h1v3h-1z" fill="#00ffff"/>
<path d="M500 201h1v3h-1zM499 202h1v1h-1z" fill="#00ffb4"/>
<path d="M189 218h1v1h-1zM189 223h1v1h-1zM190 219h1v1h-1zM190 222h1v1h-1zM191 220h1v1h-1zM191 221h1v1h-1zM192 221h1v1h-1zM192 220h1v1h-1zM193 222h1v1h-1zM193 219h1v1h-1zM194 223h1v1h-1zM194 218h1v1h-1z" fill="#ff0000"/>
<path d="M208 233h1v1h-1zM208 238h1v1h-1zM209 234h1v1h-1zM209 237h1v1h-1zM210 235h1v1h-1zM210 236h1v1h-1zM211 236h1v1h-1zM211 235h1v1h-1zM212 237h1v1h-1zM212 234h1v1h-1zM213 238h1v1h-1zM213 233h1v1h-1z" fill="#000000"/>
<path d="M219 283h1v1h-1zM219 288h1v1h-1zM220 284h1v1h-1zM220 287h1v1h-1zM221 285h1v1h-1zM221 286h1v1h-1zM222 286h1v1h-1zM222 285h1v1h-1zM223 287h1v1h-1zM223 284h1v1h-1zM224 288h1v1h-1zM224 283h1v1h-1z" fill="#ff0000"/>
<path d="M274 285h1v3h-1zM275 286h1v1h-1z" fill="#00ffff"/>
<path d="M275 358h3v1h-3zM276 357h1v3h-1z" fill="#00a0ff"/>
<path d="M545 234h3v1h-3zM546 233h1v1h-1z" fill="#00ffff"/>
<path d="M531 256h3v1h-3zM532 257h1v1h-1z" fill="#00a0ff"/>
<path d="M539 261h1v1h-1zM539 266h1v1h-1zM540 262h1v1h-1zM540 265h1v1h-1zM541 263h1v1h-1zM541 264h1v1h-1zM542 264h1v1h-1zM542 263h1v1h-1zM543 265h1v1h-1zM543 262h1v1h-1zM544 266h1v1h-1zM544 261h1v1h-1z" fill="#ff9600"/>
<path d="M538 268h1v3h-1zM537 269h1v1h-1z" fill="#4600c8"/>
<path d="M573 285h3v1h-3zM574 286h1v1h-1z" fill="#0040ff"/>
<path d="M139 367h1v1h-1zM139 372h1v1h-1zM140 368h1v1h-1zM140 371h1v1h-1zM141 369h1v1h-1zM141 370h1v1h-1zM142 370h1v1h-1zM142 369h1v1h-1zM143 371h1v1h-1zM143 368h1v1h-1zM144 372h1v1h-1zM144 367h1v1h-1z" fill="#ff0000"/>
<path d="M176 369h1v1h-1zM176 374h1v1h-1zM177 370h1v1h-1zM177 373h1v1h-1zM178 371h1v1h-1zM178 372h1v1h-1zM179 372h1v1h-1zM179 371h1v1h-1zM180 373h1v1h-1zM180 370h1v1h-1zM181 374h1v1h-1zM181 369h1v1h-1z" fill="#ffc800"/>
<path d="M178 372h3v1h-3zM179 371h1v3h-1z" fill="#ffc800"/>
<path d="M247 407h1v1h-1zM247 412h1v1h-1zM248 408h1v1h-1zM248 411h1v1h-1zM249 409h1v1h-1zM249 410h1v1h-1zM250 410h1v1h-1zM250 409h1v1h-1zM251 411h1v1h-1zM251 408h1v1h-1zM252 412h1v1h-1zM252 407h1v1h-1z" fill="#ff0000"/>
<path d="M373 371h1v1h-1zM373 376h1v1h-1zM374 372h1v1h-1zM374 375h1v1h-1zM375 373h1v1h-1zM375 374h1v1h-1zM376 374h1v1h-1zM376 373h1v1h-1zM377 375h1v1h-1zM377 372h1v1h-1zM378 376h1v1h-1zM378 371h1v1h-1z" fill="#ff0000"/>
<path d="M365 363h3v1h-3zM366 362h1v3h-1z" fill="#ff0000"/>
<path d="M403 399h1v1h-1zM403 404h1v1h-1zM404 400h1v1h-1zM404 403h1v1h-1zM405 401h1v1h-1zM405 402h1v1h-1zM406 402h1v1h-1zM406 401h1v1h-1zM407 403h1v1h-1zM407 400h1v1h-1zM408 404h1v1h-1zM408 399h1v1h-1z" fill="#beff00"/>
<path d="M411 357h1v1h-1zM411 362h1v1h-1zM412 358h1v1h-1zM412 361h1v1h-1zM413 359h1v1h-1zM413 360h1v1h-1zM414 360h1v1h-1zM414 359h1v1h-1zM415 361h1v1h-1zM415 358h1v1h-1zM416 362h1v1h-1zM416 357h1v1h-1z" fill="#000000"/>
<path d="M423 366h3v1h-3zM424 365h1v1h-1z" fill="#0040ff"/>
<path d="M424 360h3v1h-3zM425 359h1v3h-1z" fill="#00a0ff"/>
<path d="M432 387h3v1h-3zM433 386h1v3h-1z" fill="#0040ff"/>
<path d="M454 368h1v1h-1zM454 373h1v1h-1zM455 369h1v1h-1zM455 372h1v1h-1zM456 370h1v1h-1zM456 371h1v1h-1zM457 371h1v1h-1zM457 370h1v1h-1zM458 372h1v1h-1zM458 369h1v1h-1zM459 373h1v1h-1zM459 368h1v1h-1z" fill="#000000"/>
<path d="M474 386h1v1h-1zM474 391h1v1h-1zM475 387h1v1h-1zM475 390h1v1h-1zM476 388h1v1h-1zM476 389h1v1h-1zM477 389h1v1h-1zM477 388h1v1h-1zM478 390h1v1h-1zM478 387h1v1h-1zM479 391h1v1h-1zM479 386h1v1h-1z" fill="#ff0000"/>
<path d="M375 420h3v1h-3zM376 419h1v3h-1z" fill="#ff0000"/>
<path d="M326 435h3v1h-3zM327 434h1v3h-1z" fill="#ff0000"/>
<path d="M375 460h1v3h-1zM374 461h1v1h-1z" fill="#ff0000"/>
<path d="M395 481h3v1h-3zM396 480h1v3h-1z" fill="#000000"/>
<path d="M484 368h1v3h-1zM485 369h1v1h-1z" fill="#00ffff"/>
<path d="M486 400h1v1h-1zM486 405h1v1h-1zM487 401h1v1h-1zM487 404h1v1h-1zM488 402h1v1h-1zM488 403h1v1h-1zM489 403h1v1h-1zM489 402h1v1h-1zM490 404h1v1h-1zM490 401h1v1h-1zM491 405h1v1h-1zM491 400h1v1h-1z" fill="#ff0000"/>
<path d="M382 510h1v1h-1zM382 515h1v1h-1zM383 511h1v1h-1zM383 514h1v1h-1zM384 512h1v1h-1zM384 513h1v1h-1zM385 513h1v1h-1zM385 512h1v1h-1zM386 514h1v1h-1zM386 511h1v1h-1zM387 515h1v1h-1zM387 510h1v1h-1z" fill="#ff0000"/>
<path d="M392 512h1v1h-1zM392 517h1v1h-1zM393 513h1v1h-1zM393 516h1v1h-1zM394 514h1v1h-1zM394 515h1v1h-1zM395 515h1v1h-1zM395 514h1v1h-1zM396 516h1v1h-1zM396 513h1v1h-1zM397 517h1v1h-1zM397 512h1v1h-1z" fill="#000000"/>
<path d="M88 534h1v1h-1zM88 539h1v1h-1zM89 535h1v1h-1zM89 538h1v1h-1zM90 536h1v1h-1zM90 537h1v1h-1zM91 537h1v1h-1zM91 536h1v1h-1zM92 538h1v1h-1zM92 535h1v1h-1zM93 539h1v1h-1zM93 534h1v1h-1z" fill="#ff0000"/>
<path d="M371 214h3v1h-3zM372 213h1v3h-1z" fill="#ffff00"/>
<path d="M364 219h1v3h-1zM365 220h1v1h-1z" fill="#00ffff"/>
<path d="M358 229h3v1h-3zM359 228h1v1h-1z" fill="#ff0000"/>
<path d="M357 233h3v1h-3zM358 234h1v1h-1z" fill="#00ffff"/>
<path d="M362 232h3v1h-3zM363 231h1v3h-1z" fill="#00a0ff"/>
<path d="M369 238h1v3h-1zM370 239h1v1h-1z" fill="#0040ff"/>
<path d="M316 247h1v1h-1zM316 252h1v1h-1zM317 248h1v1h-1zM317 251h1v1h-1zM318 249h1v1h-1zM318 250h1v1h-1zM319 250h1v1h-1zM319 249h1v1h-1zM320 251h1v1h-1zM320 248h1v1h-1zM321 252h1v1h-1zM321 247h1v1h-1z" fill="#ff0000"/>
<path d="M357 247h3v1h-3zM358 248h1v1h-1z" fill="#00ffff"/>
<path d="M411 211h1v1h-1zM411 216h1v1h-1zM412 212h1v1h-1zM412 215h1v1h-1zM413 213h1v1h-1zM413 214h1v1h-1zM414 214h1v1h-1zM414 213h1v1h-1zM415 215h1v1h-1zM415 212h1v1h-1zM416 216h1v1h-1zM416 211h1v1h-1z" fill="#ff0000"/>
<path d="M470 216h1v3h-1zM471 217h1v1h-1z" fill="#00ffff"/>
<path d="M429 227h1v3h-1zM430 228h1v1h-1z" fill="#beff00"/>
<path d="M461 227h3v1h-3zM462 228h1v1h-1z" fill="#00ffff"/>
<path d="M379 227h3v1h-3zM380 226h1v3h-1z" fill="#00a0ff"/>
<path d="M384 233h1v3h-1zM385 234h1v1h-1z" fill="#00a0ff"/>
<path d="M385 239h1v1h-1zM385 244h1v1h-1zM386 240h1v1h-1zM386 243h1v1h-1zM387 241h1v1h-1zM387 242h1v1h-1zM388 242h1v1h-1zM388 241h1v1h-1zM389 243h1v1h-1zM389 240h1v1h-1zM390 244h1v1h-1zM390 239h1v1h-1z" fill="#4600c8"/>
<path d="M389 241h1v1h-1zM389 246h1v1h-1zM390 242h1v1h-1zM390 245h1v1h-1zM391 243h1v1h-1zM391 244h1v1h-1zM392 244h1v1h-1zM392 243h1v1h-1zM393 245h1v1h-1zM393 242h1v1h-1zM394 246h1v1h-1zM394 241h1v1h-1z" fill="#00ffff"/>
<path d="M445 233h3v1h-3zM446 232h1v1h-1z" fill="#00a0ff"/>
<path d="M438 236h1v3h-1zM439 237h1v1h-1z" fill="#0040ff"/>
<path d="M450 242h1v3h-1zM451 243h1v1h-1z" fill="#0040ff"/>
<path d="M459 243h1v3h-1zM458 244h1v1h-1z" fill="#00a0ff"/>
<path d="M460 246h3v1h-3zM461 245h1v1h-1z" fill="#00a0ff"/>
<path d="M465 244h3v1h-3zM466 243h1v3h-1z" fill="#00ffff"/>
<path d="M478 241h3v1h-3zM479 240h1v3h-1z" fill="#00ffff"/>
<path d="M469 252h3v1h-3zM470 251h1v3h-1z" fill="#00ffff"/>
<path d="M452 248h3v1h-3zM453 247h1v3h-1z" fill="#00ffff"/>
<path d="M406 246h3v1h-3zM407 245h1v3h-1z" fill="#00ffff"/>
<path d="M398 248h3v1h-3zM399 247h1v3h-1z" fill="#00ffff"/>
<path d="M401 249h3v1h-3zM402 248h1v3h-1z" fill="#0040ff"/>
<path d="M413 252h1v3h-1zM414 253h1v1h-1z" fill="#ffff00"/>
<path d="M504 214h3v1h-3zM505 213h1v3h-1z" fill="#00ffff"/>
<path d="M494 218h3v1h-3zM495 217h1v1h-1z" fill="#00ffff"/>
<path d="M520 221h3v1h-3zM521 222h1v1h-1z" fill="#4600c8"/>
<path d="M488 232h3v1h-3zM489 231h1v3h-1z" fill="#ff9600"/>
<path d="M482 235h1v3h-1zM483 236h1v1h-1z" fill="#00ffff"/>
<path d="M491 238h3v1h-3zM492 239h1v1h-1z" fill="#00ffff"/>
<path d="M480 241h3v1h-3zM481 240h1v3h-1z" fill="#00ffff"/>
<path d="M493 253h3v1h-3zM494 252h1v3h-1z" fill="#00a0ff"/>
<path d="M482 252h1v3h-1zM483 253h1v1h-1z" fill="#00ffff"/>
<path d="M500 253h3v1h-3zM501 254h1v1h-1z" fill="#00ffff"/>
<path d="M325 264h3v1h-3zM326 265h1v1h-1z" fill="#ffff00"/>
<path d="M340 283h1v1h-1zM340 288h1v1h-1zM341 284h1v1h-1zM341 287h1v1h-1zM342 285h1v1h-1zM342 286h1v1h-1zM343 286h1v1h-1zM343 285h1v1h-1zM344 287h1v1h-1zM344 284h1v1h-1zM345 288h1v1h-1zM345 283h1v1h-1z" fill="#ff0000"/>
<path d="M299 290h1v1h-1zM299 295h1v1h-1zM300 291h1v1h-1zM300 294h1v1h-1zM301 292h1v1h-1zM301 293h1v1h-1zM302 293h1v1h-1zM302 292h1v1h-1zM303 294h1v1h-1zM303 291h1v1h-1zM304 295h1v1h-1zM304 290h1v1h-1z" fill="#0040ff"/>
<path d="M371 295h3v1h-3zM372 294h1v3h-1z" fill="#00ffff"/>
<path d="M344 307h3v1h-3zM345 308h1v1h-1z" fill="#00a0ff"/>
<path d="M279 311h1v1h-1zM279 316h1v1h-1zM280 312h1v1h-1zM280 315h1v1h-1zM281 313h1v1h-1zM281 314h1v1h-1zM282 314h1v1h-1zM282 313h1v1h-1zM283 315h1v1h-1zM283 312h1v1h-1zM284 316h1v1h-1zM284 311h1v1h-1z" fill="#00a0ff"/>
<path d="M353 318h1v1h-1zM353 323h1v1h-1zM354 319h1v1h-1zM354 322h1v1h-1zM355 320h1v1h-1zM355 321h1v1h-1zM356 321h1v1h-1zM356 320h1v1h-1zM357 322h1v1h-1zM357 319h1v1h-1zM358 323h1v1h-1zM358 318h1v1h-1z" fill="#ff0000"/>
<path d="M362 321h3v1h-3zM363 320h1v1h-1z" fill="#000000"/>
<path d="M353 328h3v1h-3zM354 327h1v3h-1z" fill="#00a0ff"/>
<path d="M370 309h3v1h-3zM371 308h1v3h-1z" fill="#ff0000"/>
<path d="M369 320h3v1h-3zM370 319h1v3h-1z" fill="#ff0000"/>
<path d="M372 321h3v1h-3zM373 320h1v3h-1z" fill="#ff0000"/>
<path d="M375 317h1v3h-1zM376 318h1v1h-1z" fill="#ff0000"/>
<path d="M371 302h3v1h-3zM372 301h1v3h-1z" fill="#000000"/>
<path d="M374 305h1v3h-1zM375 306h1v1h-1z" fill="#000000"/>
<path d="M371 316h3v1h-3zM372 315h1v3h-1z" fill="#00ffff"/>
<path d="M486 256h3v1h-3zM487 255h1v3h-1z" fill="#4600c8"/>
<path d="M495 256h3v1h-3zM496 255h1v3h-1z" fill="#0040ff"/>
<path d="M501 256h3v1h-3zM502 255h1v3h-1z" fill="#00ffff"/>
<path d="M490 262h3v1h-3zM491 261h1v3h-1z" fill="#0040ff"/>
<path d="M493 261h3v1h-3zM494 260h1v3h-1z" fill="#00ffff"/>
<path d="M510 265h1v3h-1zM509 266h1v1h-1z" fill="#4600c8"/>
<path d="M480 267h3v1h-3zM481 266h1v3h-1z" fill="#00ffff"/>
<path d="M496 271h1v3h-1zM495 272h1v1h-1z" fill="#ff0000"/>
<path d="M499 272h3v1h-3zM500 271h1v3h-1z" fill="#ff0000"/>
<path d="M482 278h3v1h-3zM483 277h1v3h-1z" fill="#00ffff"/>
<path d="M499 281h1v3h-1zM500 282h1v1h-1z" fill="#0040ff"/>
<path d="M506 292h3v1h-3zM507 291h1v3h-1z" fill="#00ffff"/>
<path d="M491 304h3v1h-3zM492 305h1v1h-1z" fill="#00a0ff"/>
<path d="M516 315h3v1h-3zM517 314h1v1h-1z" fill="#00ffff"/>
<path d="M334 331h1v1h-1zM334 336h1v1h-1zM335 332h1v1h-1zM335 335h1v1h-1zM336 333h1v1h-1zM336 334h1v1h-1zM337 334h1v1h-1zM337 333h1v1h-1zM338 335h1v1h-1zM338 332h1v1h-1zM339 336h1v1h-1zM339 331h1v1h-1z" fill="#0040ff"/>
<path d="M318 344h3v1h-3zM319 343h1v3h-1z" fill="#00a0ff"/>
<path d="M279 348h1v1h-1zM279 353h1v1h-1zM280 349h1v1h-1zM280 352h1v1h-1zM281 350h1v1h-1zM281 351h1v1h-1zM282 351h1v1h-1zM282 350h1v1h-1zM283 352h1v1h-1zM283 349h1v1h-1zM284 353h1v1h-1zM284 348h1v1h-1z" fill="#ff0000"/>
<path d="M347 351h3v1h-3zM348 350h1v3h-1z" fill="#000000"/>
<path d="M353 344h3v1h-3zM354 343h1v1h-1z" fill="#00ffff"/>
<path d="M367 343h1v3h-1zM368 344h1v1h-1z" fill="#ff9600"/>
<path d="M362 360h3v1h-3zM363 359h1v1h-1z" fill="#ff0000"/>
<path d="M355 333h3v1h-3zM356 332h1v3h-1z" fill="#ff0000"/>
<path d="M371 330h3v1h-3zM372 329h1v3h-1z" fill="#ff0000"/>
<path d="M424 354h3v1h-3zM425 355h1v1h-1z" fill="#0040ff"/>
<path d="M427 331h1v1h-1zM427 336h1v1h-1zM428 332h1v1h-1zM428 335h1v1h-1zM429 333h1v1h-1zM429 334h1v1h-1zM430 334h1v1h-1zM430 333h1v1h-1zM431 335h1v1h-1zM431 332h1v1h-1zM432 336h1v1h-1zM432 331h1v1h-1z" fill="#00ffff"/>
<path d="M398 344h1v1h-1zM398 349h1v1h-1zM399 345h1v1h-1zM399 348h1v1h-1zM400 346h1v1h-1zM400 347h1v1h-1zM401 347h1v1h-1zM401 346h1v1h-1zM402 348h1v1h-1zM402 345h1v1h-1zM403 349h1v1h-1zM403 344h1v1h-1z" fill="#ff0000"/>
<path d="M398 352h3v1h-3zM399 351h1v3h-1z" fill="#ff0000"/>
<path d="M400 352h3v1h-3zM401 351h1v3h-1z" fill="#0040ff"/>
<path d="M381 356h3v1h-3zM382 355h1v3h-1z" fill="#00ffff"/>
<path d="M391 331h3v1h-3zM392 330h1v3h-1z" fill="#00a0ff"/>
<path d="M388 254h1v1h-1zM388 259h1v1h-1zM389 255h1v1h-1zM389 258h1v1h-1zM390 256h1v1h-1zM390 257h1v1h-1zM391 257h1v1h-1zM391 256h1v1h-1zM392 258h1v1h-1zM392 255h1v1h-1zM393 259h1v1h-1zM393 254h1v1h-1z" fill="#4600c8"/>
<path d="M384 258h1v1h-1zM384 263h1v1h-1zM385 259h1v1h-1zM385 262h1v1h-1zM386 260h1v1h-1zM386 261h1v1h-1zM387 261h1v1h-1zM387 260h1v1h-1zM388 262h1v1h-1zM388 259h1v1h-1zM389 263h1v1h-1zM389 258h1v1h-1z" fill="#00ffff"/>
<path d="M410 256h1v1h-1zM410 261h1v1h-1zM411 257h1v1h-1zM411 260h1v1h-1zM412 258h1v1h-1zM412 259h1v1h-1zM413 259h1v1h-1zM413 258h1v1h-1zM414 260h1v1h-1zM414 257h1v1h-1zM415 261h1v1h-1zM415 256h1v1h-1z" fill="#00ffff"/>
<path d="M412 264h3v1h-3zM413 263h1v3h-1z" fill="#ff0000"/>
<path d="M466 260h3v1h-3zM467 259h1v3h-1z" fill="#ff9600"/>
<path d="M477 259h1v3h-1zM476 260h1v1h-1z" fill="#0040ff"/>
<path d="M471 264h3v1h-3zM472 263h1v3h-1z" fill="#00ffff"/>
<path d="M475 267h3v1h-3zM476 266h1v3h-1z" fill="#00ffff"/>
<path d="M447 267h3v1h-3zM448 266h1v3h-1z" fill="#ff0000"/>
<path d="M450 267h3v1h-3zM451 266h1v3h-1z" fill="#0040ff"/>
<path d="M440 267h1v3h-1zM441 268h1v1h-1z" fill="#00ffff"/>
<path d="M451 269h3v1h-3zM452 268h1v3h-1z" fill="#ff9600"/>
<path d="M390 279h3v1h-3zM391 278h1v3h-1z" fill="#ff0000"/>
<path d="M460 276h3v1h-3zM461 275h1v3h-1z" fill="#0040ff"/>
<path d="M472 277h1v3h-1zM471 278h1v1h-1z" fill="#0040ff"/>
<path d="M472 283h3v1h-3zM473 282h1v3h-1z" fill="#ffff00"/>
<path d="M420 292h3v1h-3zM421 291h1v1h-1z" fill="#4600c8"/>
<path d="M436 287h3v1h-3zM437 288h1v1h-1z" fill="#00a0ff"/>
<path d="M444 290h1v1h-1zM444 295h1v1h-1zM445 291h1v1h-1zM445 294h1v1h-1zM446 292h1v1h-1zM446 293h1v1h-1zM447 293h1v1h-1zM447 292h1v1h-1zM448 294h1v1h-1zM448 291h1v1h-1zM449 295h1v1h-1zM449 290h1v1h-1z" fill="#000000"/>
<path d="M476 289h1v1h-1zM476 294h1v1h-1zM477 290h1v1h-1zM477 293h1v1h-1zM478 291h1v1h-1zM478 292h1v1h-1zM479 292h1v1h-1zM479 291h1v1h-1zM480 293h1v1h-1zM480 290h1v1h-1zM481 294h1v1h-1zM481 289h1v1h-1z" fill="#000000"/>
<path d="M379 305h1v1h-1zM379 310h1v1h-1zM380 306h1v1h-1zM380 309h1v1h-1zM381 307h1v1h-1zM381 308h1v1h-1zM382 308h1v1h-1zM382 307h1v1h-1zM383 309h1v1h-1zM383 306h1v1h-1zM384 310h1v1h-1zM384 305h1v1h-1z" fill="#4600c8"/>
<path d="M403 319h1v1h-1zM403 324h1v1h-1zM404 320h1v1h-1zM404 323h1v1h-1zM405 321h1v1h-1zM405 322h1v1h-1zM406 322h1v1h-1zM406 321h1v1h-1zM407 323h1v1h-1zM407 320h1v1h-1zM408 324h1v1h-1zM408 319h1v1h-1z" fill="#ff0000"/>
<path d="M387 324h1v1h-1zM387 329h1v1h-1zM388 325h1v1h-1zM388 328h1v1h-1zM389 326h1v1h-1zM389 327h1v1h-1zM390 327h1v1h-1zM390 326h1v1h-1zM391 328h1v1h-1zM391 325h1v1h-1zM392 329h1v1h-1zM392 324h1v1h-1z" fill="#0040ff"/>
<path d="M431 317h3v1h-3zM432 316h1v3h-1z" fill="#0040ff"/>
<path d="M448 315h1v3h-1zM447 316h1v1h-1z" fill="#00ffff"/>
<path d="M431 324h1v1h-1zM431 329h1v1h-1zM432 325h1v1h-1zM432 328h1v1h-1zM433 326h1v1h-1zM433 327h1v1h-1zM434 327h1v1h-1zM434 326h1v1h-1zM435 328h1v1h-1zM435 325h1v1h-1zM436 329h1v1h-1zM436 324h1v1h-1z" fill="#00ffff"/>
<path d="M471 327h3v1h-3zM472 326h1v3h-1z" fill="#00ffff"/>
<path d="M383 262h1v3h-1zM382 263h1v1h-1z" fill="#00ffff"/>
<path d="M406 277h3v1h-3zM407 276h1v3h-1z" fill="#ffff00"/>
<path d="M423 270h3v1h-3zM424 269h1v3h-1z" fill="#00ffff"/>
<path d="M426 272h3v1h-3zM427 271h1v3h-1z" fill="#00ffff"/>
<path d="M468 261h3v1h-3zM469 260h1v3h-1z" fill="#ffff00"/>
<path d="M461 265h3v1h-3zM462 264h1v3h-1z" fill="#00ffff"/>
<path d="M444 269h3v1h-3zM445 268h1v3h-1z" fill="#0040ff"/>
<path d="M472 277h1v3h-1zM471 278h1v1h-1z" fill="#00a0ff"/>
<path d="M425 319h3v1h-3zM426 318h1v3h-1z" fill="#00ffff"/>
<path d="M379 312h3v1h-3zM380 311h1v3h-1z" fill="#ff0000"/>
<path d="M426 328h3v1h-3zM427 327h1v3h-1z" fill="#00ffff"/>
<path d="M470 294h3v1h-3zM471 293h1v3h-1z" fill="#00ffff"/>
<path d="M447 317h1v3h-1zM448 318h1v1h-1z" fill="#00ffff"/>
<path d="M391 330h3v1h-3zM392 329h1v3h-1z" fill="#0040ff"/>
<path d="M386 329h3v1h-3zM387 328h1v3h-1z" fill="#00a0ff"/>
<path d="M395 341h3v1h-3zM396 340h1v3h-1z" fill="#00ffff"/>
<path d="M428 333h1v3h-1zM429 334h1v1h-1z" fill="#00ffff"/>
<path d="M426 344h3v1h-3zM427 343h1v3h-1z" fill="#00ffff"/>
<path d="M405 350h3v1h-3zM406 349h1v3h-1z" fill="#00ffff"/>
<path d="M354 328h3v1h-3zM355 327h1v3h-1z" fill="#00ffff"/>
<path d="M362 262h1v1h-1zM362 267h1v1h-1zM363 263h1v1h-1zM363 266h1v1h-1zM364 264h1v1h-1zM364 265h1v1h-1zM365 265h1v1h-1zM365 264h1v1h-1zM366 266h1v1h-1zM366 263h1v1h-1zM367 267h1v1h-1zM367 262h1v1h-1z" fill="#00ffff"/>
</g>
<g id="cb">
<rect x="719" y="87" width="26" height="1" fill="rgb(255,0,0)"/>
<rect x="719" y="88" width="26" height="1" fill="rgb(255,0,0)"/>
<rect x="719" y="89" width="26" height="1" fill="rgb(255,0,0)"/>
<rect x="719" y="90" width="26" height="1" fill="rgb(255,0,0)"/>
<rect x="719" y="91" width="26" height="1" fill="rgb(255,0,0)"/>
<rect x="719" y="92" width="26" height="1" fill="rgb(255,0,0)"/>
<rect x="719" y="93" width="26" height="1" fill="rgb(255,0,0)"/>
<rect x="719" y="94" width="26" height="1" fill="rgb(255,0,0)"/>
<rect x="719" y="95" width="26" height="1" fill="rgb(255,0,0)"/>
<rect x="719" y="96" width="26" height="1" fill="rgb(255,0,0)"/>
<rect x="719" y="97" width="26" height="1" fill="rgb(255,0,0)"/>
<rect x="719" y="98" width="26" height="1" fill="rgb(255,0,0)"/>
<rect x="719" y="99" width="26" height="1" fill="rgb(255,0,0)"/>
<rect x="719" y="100" width="26" height="1" fill="rgb(255,0,0)"/>
<rect x="719" y="101" width="26" height="1" fill="rgb(255,0,0)"/>
<rect x="719" y="102" width="26" height="1" fill="rgb(255,0,0)"/>
<rect x="719" y="103" width="26" height="1" fill="rgb(255,0,0)"/>
<rect x="719" y="104" width="26" height="1" fill="rgb(255,0,0)"/>
<rect x="719" y="105" width="26" height="1" fill="rgb(255,0,0)"/>
<rect x="719" y="106" width="26" height="1" fill="rgb(255,0,0)"/>
<rect x="719" y="107" width="26" height="1" fill="rgb(255,0,0)"/>
<rect x="719" y="108" width="26" height="1" fill="rgb(255,0,0)"/>
<rect x="719" y="109" width="26" height="1" fill="rgb(255,0,0)"/>
<rect x="719" y="110" width="26" height="1" fill="rgb(255,0,0)"/>
<rect x="719" y="111" width="26" height="1" fill="rgb(255,0,0)"/>
<rect x="719" y="112" width="26" height="1" fill="rgb(255,0,0)"/>
<rect x="719" y="113" width="26" height="1" fill="rgb(255,0,0)"/>
<rect x="719" y="114" width="26" height="1" fill="rgb(255,0,0)"/>
<rect x="719" y="115" width="26" height="1" fill="rgb(255,0,0)"/>
<rect x="719" y="116" width="26" height="1" fill="rgb(255,0,0)"/>
<rect x="719" y="117" width="26" height="1" fill="rgb(255,0,0)"/>
<rect x="719" y="118" width="26" height="1" fill="rgb(255,0,0)"/>
<rect x="719" y="119" width="26" height="1" fill="rgb(255,0,0)"/>
<rect x="719" y="120" width="26" height="1" fill="rgb(255,5,0)"/>
<rect x="719" y="121" width="26" height="1" fill="rgb(255,5,0)"/>
<rect x="719" y="122" width="26" height="1" fill="rgb(255,11,0)"/>
<rect x="719" y="123" width="26" height="1" fill="rgb(255,16,0)"/>
<rect x="719" y="124" width="26" height="1" fill="rgb(255,16,0)"/>
<rect x="719" y="125" width="26" height="1" fill="rgb(255,22,0)"/>
<rect x="719" y="126" width="26" height="1" fill="rgb(255,22,0)"/>
<rect x="719" y="127" width="26" height="1" fill="rgb(255,27,0)"/>
<rect x="719" y="128" width="26" height="1" fill="rgb(255,33,0)"/>
<rect x="719" y="129" width="26" height="1" fill="rgb(255,33,0)"/>
<rect x="719" y="130" width="26" height="1" fill="rgb(255,39,0)"/>
<rect x="719" y="131" width="26" height="1" fill="rgb(255,39,0)"/>
<rect x="719" y="132" width="26" height="1" fill="rgb(255,44,0)"/>
<rect x="719" y="133" width="26" height="1" fill="rgb(255,50,0)"/>
<rect x="719" y="134" width="26" height="1" fill="rgb(255,50,0)"/>
<rect x="719" y="135" width="26" height="1" fill="rgb(255,55,0)"/>
<rect x="719" y="136" width="26" height="1" fill="rgb(255,55,0)"/>
<rect x="719" y="137" width="26" height="1" fill="rgb(255,61,0)"/>
<rect x="719" y="138" width="26" height="1" fill="rgb(255,66,0)"/>
<rect x="719" y="139" width="26" height="1" fill="rgb(255,66,0)"/>
<rect x="719" y="140" width="26" height="1" fill="rgb(255,72,0)"/>
<rect x="719" y="141" width="26" height="1" fill="rgb(255,72,0)"/>
<rect x="719" y="142" width="26" height="1" fill="rgb(255,77,0)"/>
<rect x="719" y="143" width="26" height="1" fill="rgb(255,83,0)"/>
<rect x="719" y="144" width="26" height="1" fill="rgb(255,83,0)"/>
<rect x="719" y="145" width="26" height="1" fill="rgb(255,88,0)"/>
<rect x="719" y="146" width="26" height="1" fill="rgb(255,88,0)"/>
<rect x="719" y="147" width="26" height="1" fill="rgb(255,94,0)"/>
<rect x="719" y="148" width="26" height="1" fill="rgb(255,100,0)"/>
<rect x="719" y="149" width="26" height="1" fill="rgb(255,100,0)"/>
<rect x="719" y="150" width="26" height="1" fill="rgb(255,105,0)"/>
<rect x="719" y="151" width="26" height="1" fill="rgb(255,105,0)"/>
<rect x="719" y="152" width="26" height="1" fill="rgb(255,111,0)"/>
<rect x="719" y="153" width="26" height="1" fill="rgb(255,116,0)"/>
<rect x="719" y="154" width="26" height="1" fill="rgb(255,116,0)"/>
<rect x="719" y="155" width="26" height="1" fill="rgb(255,122,0)"/>
<rect x="719" y="156" width="26" height="1" fill="rgb(255,122,0)"/>
<rect x="719" y="157" width="26" height="1" fill="rgb(255,127,0)"/>
<rect x="719" y="158" width="26" height="1" fill="rgb(255,133,0)"/>
<rect x="719" y="159" width="26" height="1" fill="rgb(255,133,0)"/>
<rect x="719" y="160" width="26" height="1" fill="rgb(255,138,0)"/>
<rect x="719" y="161" width="26" height="1" fill="rgb(255,138,0)"/>
<rect x="719" y="162" width="26" height="1" fill="rgb(255,144,0)"/>
<rect x="719" y="163" width="26" height="1" fill="rgb(255,149,0)"/>
<rect x="719" y="164" width="26" height="1" fill="rgb(255,149,0)"/>
<rect x="719" y="165" width="26" height="1" fill="rgb(255,155,0)"/>
<rect x="719" y="166" width="26" height="1" fill="rgb(255,155,0)"/>
<rect x="719" y="167" width="26" height="1" fill="rgb(255,161,0)"/>
<rect x="719" y="168" width="26" height="1" fill="rgb(255,166,0)"/>
<rect x="719" y="169" width="26" height="1" fill="rgb(255,166,0)"/>
<rect x="719" y="170" width="26" height="1" fill="rgb(255,172,0)"/>
<rect x="719" y="171" width="26" height="1" fill="rgb(255,172,0)"/>
<rect x="719" y="172" width="26" height="1" fill="rgb(255,177,0)"/>
<rect x="719" y="173" width="26" height="1" fill="rgb(255,183,0)"/>
<rect x="719" y="174" width="26" height="1" fill="rgb(255,183,0)"/>
<rect x="719" y="175" width="26" height="1" fill="rgb(255,188,0)"/>
<rect x="719" y="176" width="26" height="1" fill="rgb(255,188,0)"/>
<rect x="719" y="177" width="26" height="1" fill="rgb(255,194,0)"/>
<rect x="719" y="178" width="26" height="1" fill="rgb(255,199,0)"/>
<rect x="719" y="179" width="26" height="1" fill="rgb(255,199,0)"/>
<rect x="719" y="180" width="26" height="1" fill="rgb(255,205,0)"/>
<rect x="719" y="181" width="26" height="1" fill="rgb(255,205,0)"/>
<rect x="719" y="182" width="26" height="1" fill="rgb(255,210,0)"/>
<rect x="719" y="183" width="26" height="1" fill="rgb(255,216,0)"/>
<rect x="719" y="184" width="26" height="1" fill="rgb(255,216,0)"/>
<rect x="719" y="185" width="26" height="1" fill="rgb(255,222,0)"/>
<rect x="719" y="186" width="26" height="1" fill="rgb(255,222,0)"/>
<rect x="719" y="187" width="26" height="1" fill="rgb(255,227,0)"/>
<rect x="719" y="188" width="26" height="1" fill="rgb(255,233,0)"/>
<rect x="719" y="189" width="26" height="1" fill="rgb(255,233,0)"/>
<rect x="719" y="190" width="26" height="1" fill="rgb(255,238,0)"/>
<rect x="719" y="191" width="26" height="1" fill="rgb(255,238,0)"/>
<rect x="719" y="192" width="26" height="1" fill="rgb(255,244,0)"/>
<rect x="719" y="193" width="26" height="1" fill="rgb(255,249,0)"/>
<rect x="719" y="194" width="26" height="1" fill="rgb(255,249,0)"/>
<rect x="719" y="195" width="26" height="1" fill="rgb(255,255,0)"/>
<rect x="719" y="196" width="26" height="1" fill="rgb(255,255,0)"/>
<rect x="719" y="197" width="26" height="1" fill="rgb(249,255,0)"/>
<rect x="719" y="198" width="26" height="1" fill="rgb(244,255,0)"/>
<rect x="719" y="199" width="26" height="1" fill="rgb(244,255,0)"/>
<rect x="719" y="200" width="26" height="1" fill="rgb(238,255,0)"/>
<rect x="719" y="201" width="26" height="1" fill="rgb(238,255,0)"/>
<rect x="719" y="202" width="26" height="1" fill="rgb(232,255,0)"/>
<rect x="719" y="203" width="26" height="1" fill="rgb(226,255,0)"/>
<rect x="719" y="204" width="26" height="1" fill="rgb(226,255,0)"/>
<rect x="719" y="205" width="26" height="1" fill="rgb(220,255,0)"/>
<rect x="719" y="206" width="26" height="1" fill="rgb(220,255,0)"/>
<rect x="719" y="207" width="26" height="1" fill="rgb(215,255,0)"/>
<rect x="719" y="208" width="26" height="1" fill="rgb(209,255,0)"/>
<rect x="719" y="209" width="26" height="1" fill="rgb(209,255,0)"/>
<rect x="719" y="210" width="26" height="1" fill="rgb(203,255,0)"/>
<rect x="719" y="211" width="26" height="1" fill="rgb(203,255,0)"/>
<rect x="719" y="212" width="26" height="1" fill="rgb(197,255,0)"/>
<rect x="719" y="213" width="26" height="1" fill="rgb(191,255,0)"/>
<rect x="719" y="214" width="26" height="1" fill="rgb(191,255,0)"/>
<rect x="719" y="215" width="26" height="1" fill="rgb(186,255,0)"/>
<rect x="719" y="216" width="26" height="1" fill="rgb(186,255,0)"/>
<rect x="719" y="217" width="26" height="1" fill="rgb(180,255,0)"/>
<rect x="719" y="218" width="26" height="1" fill="rgb(174,255,0)"/>
<rect x="719" y="219" width="26" height="1" fill="rgb(174,255,0)"/>
<rect x="719" y="220" width="26" height="1" fill="rgb(168,255,0)"/>
<rect x="719" y="221" width="26" height="1" fill="rgb(168,255,0)"/>
<rect x="719" y="222" width="26" height="1" fill="rgb(162,255,0)"/>
<rect x="719" y="223" width="26" height="1" fill="rgb(156,255,0)"/>
<rect x="719" y="224" width="26" height="1" fill="rgb(156,255,0)"/>
<rect x="719" y="225" width="26" height="1" fill="rgb(151,255,0)"/>
<rect x="719" y="226" width="26" height="1" fill="rgb(151,255,0)"/>
<rect x="719" y="227" width="26" height="1" fill="rgb(145,255,0)"/>
<rect x="719" y="228" width="26" height="1" fill="rgb(139,255,0)"/>
<rect x="719" y="229" width="26" height="1" fill="rgb(139,255,0)"/>
<rect x="719" y="230" width="26" height="1" fill="rgb(133,255,0)"/>
<rect x="719" y="231" width="26" height="1" fill="rgb(133,255,0)"/>
<rect x="719" y="232" width="26" height="1" fill="rgb(127,255,0)"/>
<rect x="719" y="233" width="26" height="1" fill="rgb(122,255,0)"/>
<rect x="719" y="234" width="26" height="1" fill="rgb(122,255,0)"/>
<rect x="719" y="235" width="26" height="1" fill="rgb(116,255,0)"/>
<rect x="719" y="236" width="26" height="1" fill="rgb(116,255,0)"/>
<rect x="719" y="237" width="26" height="1" fill="rgb(110,255,0)"/>
<rect x="719" y="238" width="26" height="1" fill="rgb(104,255,0)"/>
<rect x="719" y="239" width="26" height="1" fill="rgb(104,255,0)"/>
<rect x="719" y="240" width="26" height="1" fill="rgb(98,255,0)"/>
<rect x="719" y="241" width="26" height="1" fill="rgb(98,255,0)"/>
<rect x="719" y="242" width="26" height="1" fill="rgb(93,255,0)"/>
<rect x="719" y="243" width="26" height="1" fill="rgb(87,255,0)"/>
<rect x="719" y="244" width="26" height="1" fill="rgb(87,255,0)"/>
<rect x="719" y="245" width="26" height="1" fill="rgb(81,255,0)"/>
<rect x="719" y="246" width="26" height="1" fill="rgb(81,255,0)"/>
<rect x="719" y="247" width="26" height="1" fill="rgb(75,255,0)"/>
<rect x="719" y="248" width="26" height="1" fill="rgb(69,255,0)"/>
<rect x="719" y="249" width="26" height="1" fill="rgb(69,255,0)"/>
<rect x="719" y="250" width="26" height="1" fill="rgb(64,255,0)"/>
<rect x="719" y="251" width="26" height="1" fill="rgb(64,255,0)"/>
<rect x="719" y="252" width="26" height="1" fill="rgb(58,255,0)"/>
<rect x="719" y="253" width="26" height="1" fill="rgb(52,255,0)"/>
<rect x="719" y="254" width="26" height="1" fill="rgb(52,255,0)"/>
<rect x="719" y="255" width="26" height="1" fill="rgb(46,255,0)"/>
<rect x="719" y="256" width="26" height="1" fill="rgb(46,255,0)"/>
<rect x="719" y="257" width="26" height="1" fill="rgb(40,255,0)"/>
<rect x="719" y="258" width="26" height="1" fill="rgb(35,255,0)"/>
<rect x="719" y="259" width="26" height="1" fill="rgb(35,255,0)"/>
<rect x="719" y="260" width="26" height="1" fill="rgb(29,255,0)"/>
<rect x="719" y="261" width="26" height="1" fill="rgb(29,255,0)"/>
<rect x="719" y="262" width="26" height="1" fill="rgb(23,255,0)"/>
<rect x="719" y="263" width="26" height="1" fill="rgb(17,255,0)"/>
<rect x="719" y="264" width="26" height="1" fill="rgb(17,255,0)"/>
<rect x="719" y="265" width="26" height="1" fill="rgb(11,255,0)"/>
<rect x="719" y="266" width="26" height="1" fill="rgb(11,255,0)"/>
<rect x="719" y="267" width="26" height="1" fill="rgb(6,255,0)"/>
<rect x="719" y="268" width="26" height="1" fill="rgb(0,255,0)"/>
<rect x="719" y="269" width="26" height="1" fill="rgb(0,255,0)"/>
<rect x="719" y="270" width="26" height="1" fill="rgb(0,255,6)"/>
<rect x="719" y="271" width="26" height="1" fill="rgb(0,255,6)"/>
<rect x="719" y="272" width="26" height="1" fill="rgb(0,255,12)"/>
<rect x="719" y="273" width="26" height="1" fill="rgb(0,255,17)"/>
<rect x="719" y="274" width="26" height="1" fill="rgb(0,255,17)"/>
<rect x="719" y="275" width="26" height="1" fill="rgb(0,255,23)"/>
<rect x="719" y="276" width="26" height="1" fill="rgb(0,255,23)"/>
<rect x="719" y="277" width="26" height="1" fill="rgb(0,255,29)"/>
<rect x="719" y="278" width="26" height="1" fill="rgb(0,255,34)"/>
<rect x="719" y="279" width="26" height="1" fill="rgb(0,255,34)"/>
<rect x="719" y="280" width="26" height="1" fill="rgb(0,255,40)"/>
<rect x="719" y="281" width="26" height="1" fill="rgb(0,255,40)"/>
<rect x="719" y="282" width="26" height="1" fill="rgb(0,255,46)"/>
<rect x="719" y="283" width="26" height="1" fill="rgb(0,255,51)"/>
<rect x="719" y="284" width="26" height="1" fill="rgb(0,255,51)"/>
<rect x="719" y="285" width="26" height="1" fill="rgb(0,255,57)"/>
<rect x="719" y="286" width="26" height="1" fill="rgb(0,255,57)"/>
<rect x="719" y="287" width="26" height="1" fill="rgb(0,255,63)"/>
<rect x="719" y="288" width="26" height="1" fill="rgb(0,255,68)"/>
<rect x="719" y="289" width="26" height="1" fill="rgb(0,255,68)"/>
<rect x="719" y="290" width="26" height="1" fill="rgb(0,255,74)"/>
<rect x="719" y="291" width="26" height="1" fill="rgb(0,255,74)"/>
<rect x="719" y="292" width="26" height="1" fill="rgb(0,255,80)"/>
<rect x="719" y="293" width="26" height="1" fill="rgb(0,255,85)"/>
<rect x="719" y="294" width="26" height="1" fill="rgb(0,255,85)"/>
<rect x="719" y="295" width="26" height="1" fill="rgb(0,255,91)"/>
<rect x="719" y="296" width="26" height="1" fill="rgb(0,255,91)"/>
<rect x="719" y="297" width="26" height="1" fill="rgb(0,255,97)"/>
<rect x="719" y="298" width="26" height="1" fill="rgb(0,255,102)"/>
<rect x="719" y="299" width="26" height="1" fill="rgb(0,255,102)"/>
<rect x="719" y="300" width="26" height="1" fill="rgb(0,255,108)"/>
<rect x="719" y="301" width="26" height="1" fill="rgb(0,255,114)"/>
<rect x="719" y="302" width="26" height="1" fill="rgb(0,255,114)"/>
<rect x="719" y="303" width="26" height="1" fill="rgb(0,255,119)"/>
<rect x="719" y="304" width="26" height="1" fill="rgb(0,255,119)"/>
<rect x="719" y="305" width="26" height="1" fill="rgb(0,255,125)"/>
<rect x="719" y="306" width="26" height="1" fill="rgb(0,255,131)"/>
<rect x="719" y="307" width="26" height="1" fill="rgb(0,255,131)"/>
<rect x="719" y="308" width="26" height="1" fill="rgb(0,255,136)"/>
<rect x="719" y="309" width="26" height="1" fill="rgb(0,255,136)"/>
<rect x="719" y="310" width="26" height="1" fill="rgb(0,255,142)"/>
<rect x="719" y="311" width="26" height="1" fill="rgb(0,255,148)"/>
<rect x="719" y="312" width="26" height="1" fill="rgb(0,255,148)"/>
<rect x="719" y="313" width="26" height="1" fill="rgb(0,255,153)"/>
<rect x="719" y="314" width="26" height="1" fill="rgb(0,255,153)"/>
<rect x="719" y="315" width="26" height="1" fill="rgb(0,255,159)"/>
<rect x="719" y="316" width="26" height="1" fill="rgb(0,255,165)"/>
<rect x="719" y="317" width="26" height="1" fill="rgb(0,255,165)"/>
<rect x="719" y="318" width="26" height="1" fill="rgb(0,255,170)"/>
<rect x="719" y="319" width="26" height="1" fill="rgb(0,255,170)"/>
<rect x="719" y="320" width="26" height="1" fill="rgb(0,255,176)"/>
<rect x="719" y="321" width="26" height="1" fill="rgb(0,255,182)"/>
<rect x="719" y="322" width="26" height="1" fill="rgb(0,255,182)"/>
<rect x="719" y="323" width="26" height="1" fill="rgb(0,255,187)"/>
<rect x="719" y="324" width="26" height="1" fill="rgb(0,255,187)"/>
<rect x="719" y="325" width="26" height="1" fill="rgb(0,255,193)"/>
<rect x="719" y="326" width="26" height="1" fill="rgb(0,255,199)"/>
<rect x="719" y="327" width="26" height="1" fill="rgb(0,255,199)"/>
<rect x="719" y="328" width="26" height="1" fill="rgb(0,255,204)"/>
<rect x="719" y="329" width="26" height="1" fill="rgb(0,255,204)"/>
<rect x="719" y="330" width="26" height="1" fill="rgb(0,255,210)"/>
<rect x="719" y="331" width="26" height="1" fill="rgb(0,255,216)"/>
<rect x="719" y="332" width="26" height="1" fill="rgb(0,255,216)"/>
<rect x="719" y="333" width="26" height="1" fill="rgb(0,255,221)"/>
<rect x="719" y="334" width="26" height="1" fill="rgb(0,255,221)"/>
<rect x="719" y="335" width="26" height="1" fill="rgb(0,255,227)"/>
<rect x="719" y="336" width="26" height="1" fill="rgb(0,255,233)"/>
<rect x="719" y="337" width="26" height="1" fill="rgb(0,255,233)"/>
<rect x="719" y="338" width="26" height="1" fill="rgb(0,255,238)"/>
<rect x="719" y="339" width="26" height="1" fill="rgb(0,255,238)"/>
<rect x="719" y="340" width="26" height="1" fill="rgb(0,255,244)"/>
<rect x="719" y="341" width="26" height="1" fill="rgb(0,255,250)"/>
<rect x="719" y="342" width="26" height="1" fill="rgb(0,255,250)"/>
<rect x="719" y="343" width="26" height="1" fill="rgb(0,255,255)"/>
<rect x="719" y="344" width="26" height="1" fill="rgb(0,255,255)"/>
<rect x="719" y="345" width="26" height="1" fill="rgb(0,248,255)"/>
<rect x="719" y="346" width="26" height="1" fill="rgb(0,242,255)"/>
<rect x="719" y="347" width="26" height="1" fill="rgb(0,242,255)"/>
<rect x="719" y="348" width="26" height="1" fill="rgb(0,235,255)"/>
<rect x="719" y="349" width="26" height="1" fill="rgb(0,235,255)"/>
<rect x="719" y="350" width="26" height="1" fill="rgb(0,229,255)"/>
<rect x="719" y="351" width="26" height="1" fill="rgb(0,223,255)"/>
<rect x="719" y="352" width="26" height="1" fill="rgb(0,223,255)"/>
<rect x="719" y="353" width="26" height="1" fill="rgb(0,216,255)"/>
<rect x="719" y="354" width="26" height="1" fill="rgb(0,216,255)"/>
<rect x="719" y="355" width="26" height="1" fill="rgb(0,210,255)"/>
<rect x="719" y="356" width="26" height="1" fill="rgb(0,204,255)"/>
<rect x="719" y="357" width="26" height="1" fill="rgb(0,204,255)"/>
<rect x="719" y="358" width="26" height="1" fill="rgb(0,197,255)"/>
<rect x="719" y="359" width="26" height="1" fill="rgb(0,197,255)"/>
<rect x="719" y="360" width="26" height="1" fill="rgb(0,191,255)"/>
<rect x="719" y="361" width="26" height="1" fill="rgb(0,185,255)"/>
<rect x="719" y="362" width="26" height="1" fill="rgb(0,185,255)"/>
<rect x="719" y="363" width="26" height="1" fill="rgb(0,178,255)"/>
<rect x="719" y="364" width="26" height="1" fill="rgb(0,178,255)"/>
<rect x="719" y="365" width="26" height="1" fill="rgb(0,172,255)"/>
<rect x="719" y="366" width="26" height="1" fill="rgb(0,166,255)"/>
<rect x="719" y="367" width="26" height="1" fill="rgb(0,166,255)"/>
<rect x="719" y="368" width="26" height="1" fill="rgb(0,159,255)"/>
<rect x="719" y="369" width="26" height="1" fill="rgb(0,159,255)"/>
<rect x="719" y="370" width="26" height="1" fill="rgb(0,153,255)"/>
<rect x="719" y="371" width="26" height="1" fill="rgb(0,146,255)"/>
<rect x="719" y="372" width="26" height="1" fill="rgb(0,146,255)"/>
<rect x="719" y="373" width="26" height="1" fill="rgb(0,140,255)"/>
<rect x="719" y="374" width="26" height="1" fill="rgb(0,140,255)"/>
<rect x="719" y="375" width="26" height="1" fill="rgb(0,134,255)"/>
<rect x="719" y="376" width="26" height="1" fill="rgb(0,127,255)"/>
<rect x="719" y="377" width="26" height="1" fill="rgb(0,127,255)"/>
<rect x="719" y="378" width="26" height="1" fill="rgb(0,121,255)"/>
<rect x="719" y="379" width="26" height="1" fill="rgb(0,121,255)"/>
<rect x="719" y="380" width="26" height="1" fill="rgb(0,115,255)"/>
<rect x="719" y="381" width="26" height="1" fill="rgb(0,108,255)"/>
<rect x="719" y="382" width="26" height="1" fill="rgb(0,108,255)"/>
<rect x="719" y="383" width="26" height="1" fill="rgb(0,102,255)"/>
<rect x="719" y="384" width="26" height="1" fill="rgb(0,102,255)"/>
<rect x="719" y="385" width="26" height="1" fill="rgb(0,96,255)"/>
<rect x="719" y="386" width="26" height="1" fill="rgb(0,89,255)"/>
<rect x="719" y="387" width="26" height="1" fill="rgb(0,89,255)"/>
<rect x="719" y="388" width="26" height="1" fill="rgb(0,83,255)"/>
<rect x="719" y="389" width="26" height="1" fill="rgb(0,83,255)"/>
<rect x="719" y="390" width="26" height="1" fill="rgb(0,77,255)"/>
<rect x="719" y="391" width="26" height="1" fill="rgb(0,70,255)"/>
<rect x="719" y="392" width="26" height="1" fill="rgb(0,70,255)"/>
<rect x="719" y="393" width="26" height="1" fill="rgb(0,64,255)"/>
<rect x="719" y="394" width="26" height="1" fill="rgb(0,64,255)"/>
<rect x="719" y="395" width="26" height="1" fill="rgb(0,58,255)"/>
<rect x="719" y="396" width="26" height="1" fill="rgb(0,51,255)"/>
<rect x="719" y="397" width="26" height="1" fill="rgb(0,51,255)"/>
<rect x="719" y="398" width="26" height="1" fill="rgb(0,45,255)"/>
<rect x="719" y="399" width="26" height="1" fill="rgb(0,45,255)"/>
<rect x="719" y="400" width="26" height="1" fill="rgb(0,38,255)"/>
<rect x="719" y="401" width="26" height="1" fill="rgb(0,32,255)"/>
<rect x="719" y="402" width="26" height="1" fill="rgb(0,32,255)"/>
<rect x="719" y="403" width="26" height="1" fill="rgb(0,26,255)"/>
<rect x="719" y="404" width="26" height="1" fill="rgb(0,26,255)"/>
<rect x="719" y="405" width="26" height="1" fill="rgb(0,19,255)"/>
<rect x="719" y="406" width="26" height="1" fill="rgb(0,13,255)"/>
<rect x="719" y="407" width="26" height="1" fill="rgb(0,13,255)"/>
<rect x="719" y="408" width="26" height="1" fill="rgb(0,7,255)"/>
<rect x="719" y="409" width="26" height="1" fill="rgb(0,7,255)"/>
<rect x="719" y="410" width="26" height="1" fill="rgb(0,0,255)"/>
<rect x="719" y="411" width="26" height="1" fill="rgb(4,0,252)"/>
<rect x="719" y="412" width="26" height="1" fill="rgb(4,0,252)"/>
<rect x="719" y="413" width="26" height="1" fill="rgb(9,0,250)"/>
<rect x="719" y="414" width="26" height="1" fill="rgb(9,0,250)"/>
<rect x="719" y="415" width="26" height="1" fill="rgb(14,0,247)"/>
<rect x="719" y="416" width="26" height="1" fill="rgb(18,0,244)"/>
<rect x="719" y="417" width="26" height="1" fill="rgb(18,0,244)"/>
<rect x="719" y="418" width="26" height="1" fill="rgb(23,0,241)"/>
<rect x="719" y="419" width="26" height="1" fill="rgb(23,0,241)"/>
<rect x="719" y="420" width="26" height="1" fill="rgb(28,0,237)"/>
<rect x="719" y="421" width="26" height="1" fill="rgb(33,0,233)"/>
<rect x="719" y="422" width="26" height="1" fill="rgb(33,0,233)"/>
<rect x="719" y="423" width="26" height="1" fill="rgb(37,0,228)"/>
<rect x="719" y="424" width="26" height="1" fill="rgb(37,0,228)"/>
<rect x="719" y="425" width="26" height="1" fill="rgb(42,0,224)"/>
<rect x="719" y="426" width="26" height="1" fill="rgb(47,0,220)"/>
<rect x="719" y="427" width="26" height="1" fill="rgb(47,0,220)"/>
<rect x="719" y="428" width="26" height="1" fill="rgb(52,0,215)"/>
<rect x="719" y="429" width="26" height="1" fill="rgb(52,0,215)"/>
<rect x="719" y="430" width="26" height="1" fill="rgb(56,0,211)"/>
<rect x="719" y="431" width="26" height="1" fill="rgb(58,0,207)"/>
<rect x="719" y="432" width="26" height="1" fill="rgb(58,0,207)"/>
<rect x="719" y="433" width="26" height="1" fill="rgb(61,0,203)"/>
<rect x="719" y="434" width="26" height="1" fill="rgb(61,0,203)"/>
<rect x="719" y="435" width="26" height="1" fill="rgb(64,0,199)"/>
<rect x="719" y="436" width="26" height="1" fill="rgb(66,0,195)"/>
<rect x="719" y="437" width="26" height="1" fill="rgb(66,0,195)"/>
<rect x="719" y="438" width="26" height="1" fill="rgb(69,0,191)"/>
<rect x="719" y="439" width="26" height="1" fill="rgb(69,0,191)"/>
<rect x="719" y="440" width="26" height="1" fill="rgb(72,0,187)"/>
<rect x="719" y="441" width="26" height="1" fill="rgb(74,0,183)"/>
<rect x="719" y="442" width="26" height="1" fill="rgb(74,0,183)"/>
<rect x="719" y="443" width="26" height="1" fill="rgb(77,0,179)"/>
<rect x="719" y="444" width="26" height="1" fill="rgb(77,0,179)"/>
<rect x="719" y="445" width="26" height="1" fill="rgb(80,0,176)"/>
<rect x="719" y="446" width="26" height="1" fill="rgb(82,0,172)"/>
<rect x="719" y="447" width="26" height="1" fill="rgb(82,0,172)"/>
<rect x="719" y="448" width="26" height="1" fill="rgb(83,0,168)"/>
<rect x="719" y="449" width="26" height="1" fill="rgb(83,0,168)"/>
<rect x="719" y="450" width="26" height="1" fill="rgb(84,0,164)"/>
<rect x="719" y="451" width="26" height="1" fill="rgb(84,0,160)"/>
<rect x="719" y="452" width="26" height="1" fill="rgb(84,0,160)"/>
<rect x="719" y="453" width="26" height="1" fill="rgb(85,0,156)"/>
<rect x="719" y="454" width="26" height="1" fill="rgb(85,0,156)"/>
<rect x="719" y="455" width="26" height="1" fill="rgb(86,0,152)"/>
<rect x="719" y="456" width="26" height="1" fill="rgb(87,0,148)"/>
<rect x="719" y="457" width="26" height="1" fill="rgb(87,0,148)"/>
<rect x="719" y="458" width="26" height="1" fill="rgb(87,0,144)"/>
<rect x="719" y="459" width="26" height="1" fill="rgb(87,0,144)"/>
<rect x="719" y="460" width="26" height="1" fill="rgb(88,0,140)"/>
<rect x="719" y="461" width="26" height="1" fill="rgb(87,0,136)"/>
<rect x="719" y="462" width="26" height="1" fill="rgb(87,0,136)"/>
<rect x="719" y="463" width="26" height="1" fill="rgb(86,0,132)"/>
<rect x="719" y="464" width="26" height="1" fill="rgb(86,0,132)"/>
<rect x="719" y="465" width="26" height="1" fill="rgb(85,0,128)"/>
<rect x="719" y="466" width="26" height="1" fill="rgb(84,0,124)"/>
<rect x="719" y="467" width="26" height="1" fill="rgb(84,0,124)"/>
<rect x="719" y="468" width="26" height="1" fill="rgb(83,0,120)"/>
<rect x="719" y="469" width="26" height="1" fill="rgb(83,0,120)"/>
<rect x="719" y="470" width="26" height="1" fill="rgb(82,0,116)"/>
<rect x="719" y="471" width="26" height="1" fill="rgb(79,0,111)"/>
<rect x="719" y="472" width="26" height="1" fill="rgb(79,0,111)"/>
<rect x="719" y="473" width="26" height="1" fill="rgb(77,0,106)"/>
<rect x="719" y="474" width="26" height="1" fill="rgb(77,0,106)"/>
<rect x="719" y="475" width="26" height="1" fill="rgb(74,0,101)"/>
<rect x="719" y="476" width="26" height="1" fill="rgb(71,0,96)"/>
<rect x="719" y="477" width="26" height="1" fill="rgb(71,0,96)"/>
<rect x="719" y="478" width="26" height="1" fill="rgb(69,0,91)"/>
<rect x="719" y="479" width="26" height="1" fill="rgb(69,0,91)"/>
<rect x="719" y="480" width="26" height="1" fill="rgb(66,0,86)"/>
<rect x="719" y="481" width="26" height="1" fill="rgb(62,0,81)"/>
<rect x="719" y="482" width="26" height="1" fill="rgb(62,0,81)"/>
<rect x="719" y="483" width="26" height="1" fill="rgb(59,0,75)"/>
<rect x="719" y="484" width="26" height="1" fill="rgb(59,0,75)"/>
<rect x="719" y="485" width="26" height="1" fill="rgb(55,0,70)"/>
<rect x="719" y="486" width="26" height="1" fill="rgb(51,0,65)"/>
<rect x="719" y="487" width="26" height="1" fill="rgb(51,0,65)"/>
<rect x="719" y="488" width="26" height="1" fill="rgb(48,0,60)"/>
<rect x="719" y="489" width="26" height="1" fill="rgb(48,0,60)"/>
<rect x="719" y="490" width="26" height="1" fill="rgb(44,0,54)"/>
<rect x="719" y="491" width="26" height="1" fill="rgb(40,0,49)"/>
<rect x="719" y="492" width="26" height="1" fill="rgb(40,0,49)"/>
<rect x="719" y="493" width="26" height="1" fill="rgb(36,0,45)"/>
<rect x="719" y="494" width="26" height="1" fill="rgb(36,0,45)"/>
<rect x="719" y="495" width="26" height="1" fill="rgb(32,0,40)"/>
<rect x="719" y="496" width="26" height="1" fill="rgb(28,0,35)"/>
<rect x="719" y="497" width="26" height="1" fill="rgb(28,0,35)"/>
<rect x="719" y="498" width="26" height="1" fill="rgb(24,0,30)"/>
<rect x="719" y="499" width="26" height="1" fill="rgb(24,0,30)"/>
<rect x="719" y="500" width="26" height="1" fill="rgb(20,0,25)"/>
<rect x="719" y="501" width="26" height="1" fill="rgb(17,0,21)"/>
<rect x="719" y="502" width="26" height="1" fill="rgb(17,0,21)"/>
<rect x="719" y="503" width="26" height="1" fill="rgb(13,0,17)"/>
<rect x="719" y="504" width="26" height="1" fill="rgb(13,0,17)"/>
<rect x="719" y="505" width="26" height="1" fill="rgb(10,0,13)"/>
<rect x="719" y="506" width="26" height="1" fill="rgb(7,0,8)"/>
<rect x="719" y="507" width="26" height="1" fill="rgb(7,0,8)"/>
<rect x="719" y="508" width="26" height="1" fill="rgb(3,0,4)"/>
<rect x="719" y="509" width="26" height="1" fill="rgb(3,0,4)"/>
<rect x="719" y="510" width="26" height="1" fill="rgb(0,0,0)"/>
</g>
</svg>
<div class="t" id="t1" style="left:251px;top:28px;font-size:14px;letter-spacing:0.7px;">Tromsø 20170208 14:18:00&#8722;14:19:43</div>
<div class="t" id="t2" style="left:254px;top:40px;font-size:13.5px;letter-spacing:0px;">RwPretec (8p) EXPERIMENTAL SKYMAP</div>
<div class="t" id="xl" style="left:330px;top:558px;font-size:11px;letter-spacing:0.65px;">E&#8722;W location <b>[</b>km<b>]</b></div>
<div class="t" id="yl" style="left:30px;top:351px;font-size:11px;letter-spacing:0.8px;transform-origin:0 0;transform:rotate(-90deg);">N&#8722;S location <b>[</b>km<b>]</b></div>
<div class="t" id="cbu1" style="left:714.5px;top:71px;font-size:16px;color:#222;">[</div><div class="t" id="cbu2" style="left:721px;top:73px;font-size:13.5px;color:#222;">m</div><div class="t" id="cbu3" style="left:735.5px;top:73px;font-size:14.5px;color:#222;transform:skewX(-14deg);">/</div><div class="t" id="cbu4" style="left:742.5px;top:73px;font-size:13.5px;color:#222;">s</div><div class="t" id="cbu5" style="left:750.5px;top:71px;font-size:16px;color:#222;">]</div>
<!-- x tick labels -->
<div class="t xt" style="left:61px;top:546px;width:40px;text-align:center;letter-spacing:1px;">&#8722;200</div>
<div class="t xt" style="left:211px;top:546px;width:40px;text-align:center;letter-spacing:1px;">&#8722;100</div>
<div class="t xt" style="left:360px;top:546px;width:40px;text-align:center;">0</div>
<div class="t xt" style="left:510px;top:546px;width:40px;text-align:center;">100</div>
<div class="t xt" style="left:660px;top:546px;width:40px;text-align:center;">200</div>
<!-- y tick labels -->
<div class="t yt" style="left:36px;top:58px;width:41.5px;text-align:right;">200</div>
<div class="t yt" style="left:36px;top:174px;width:41.5px;text-align:right;">100</div>
<div class="t yt" style="left:36px;top:295px;width:41.5px;text-align:right;">0</div>
<div class="t yt" style="left:36px;top:415px;width:42.2px;text-align:right;letter-spacing:1.2px;">&#8722;100</div>
<div class="t yt" style="left:36px;top:531px;width:42.2px;text-align:right;letter-spacing:1.2px;">&#8722;200</div>
<!-- colour bar labels -->
<div class="t ct" style="left:747px;top:88px;">200</div>
<div class="t ct" style="left:747px;top:191px;">100</div>
<div class="t ct" style="left:747px;top:294px;">0</div>
<div class="t ct" style="left:748px;top:400px;letter-spacing:1.1px;">&#8722;100</div>
<div class="t ct" style="left:748px;top:501px;letter-spacing:1.1px;">&#8722;200</div>

</body></html>
